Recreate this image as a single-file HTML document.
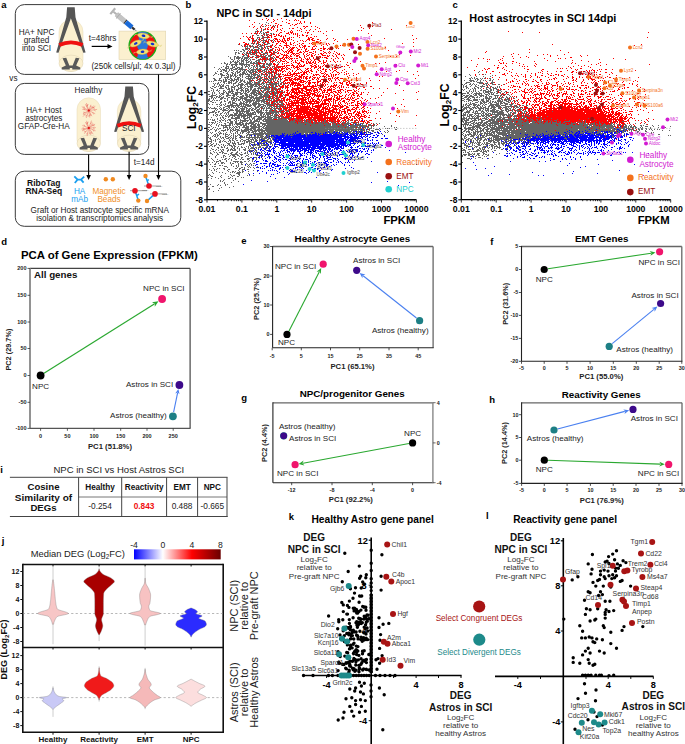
<!DOCTYPE html>
<html><head><meta charset="utf-8"><style>
html,body{margin:0;padding:0;background:#fff;width:685px;height:744px;overflow:hidden}
svg{display:block;font-family:"Liberation Sans",sans-serif}
</style></head><body>
<svg width="685" height="744" viewBox="0 0 685 744">
<text x="1.2" y="8.0" font-size="9.5" font-weight="bold">a</text>
<rect x="15.3" y="4.6" width="165.0" height="69.80000000000001" rx="9" fill="none" stroke="#3a3a3a" stroke-width="1"/>
<rect x="15.3" y="83.4" width="133.5" height="71.0" rx="9" fill="none" stroke="#3a3a3a" stroke-width="1"/>
<rect x="15.3" y="171.2" width="165.5" height="55.10000000000002" rx="9" fill="none" stroke="#3a3a3a" stroke-width="1"/>
<rect x="59" y="19.7" width="24" height="51.8" rx="12.0" fill="#fbf0cf" stroke="#e6dab6" stroke-width="0.5"/>
<ellipse cx="71.0" cy="63.3" rx="12.0" ry="8.2" fill="#fbf0cf" stroke="#dcd0b0" stroke-width="0.5"/>
<path d="M62.55,58.20 L66.26,57.70 L69.35,65.50 L72.65,65.50 L75.74,57.70 L79.45,58.20 L76.15,65.40 L80.27,67.50 L80.27,69.50 L72.24,69.50 L72.24,67.90 L69.76,67.90 L69.76,69.50 L61.73,69.50 L61.73,67.50 L65.85,65.40 Z" fill="#595959"/>
<path d="M67.1,7.3 L74.7,7.3 L75.5,17.2 L85.6,52.5 L83.3,52.8 L70.9,18.3 L58.5,52.8 L56.2,52.5 L66.3,17.2 Z" fill="#555"/>
<path d="M59.3,45.0 Q70.94999999999999,39.599999999999994 82.6,45.0" fill="none" stroke="#f01010" stroke-width="3.8"/>
<text x="36.5" y="35.0" font-size="8.2" text-anchor="middle" fill="#222">HA+ NPC</text>
<text x="36.5" y="43.0" font-size="8.2" text-anchor="middle" fill="#222">grafted</text>
<text x="36.5" y="51.0" font-size="8.2" text-anchor="middle" fill="#222">into SCI</text>
<text x="88.8" y="40.9" font-size="8.2" fill="#222">t=48hrs</text>
<line x1="91.7" y1="46.4" x2="109.0" y2="46.4" stroke="#000" stroke-width="1.2"/>
<path d="M112.5,46.4 L107.5,44 L107.5,48.8 Z" fill="#000"/>
<g transform="translate(128,24) rotate(40)"><rect x="-21" y="-3.8" width="2.2" height="7.6" fill="#b4b4b4"/><rect x="-19" y="-1" width="4" height="2" fill="#b4b4b4"/><rect x="-15" y="-2.3" width="11" height="4.6" fill="#c4c4c4" stroke="#a8a8a8" stroke-width="0.4"/><rect x="-13" y="-3.4" width="0.8" height="6.8" fill="#aaa"/><rect x="-4" y="-2.4" width="1.2" height="4.8" fill="#333"/><rect x="-2.8" y="-2.4" width="8" height="4.8" fill="#1a6ad8"/><rect x="5.2" y="-1.1" width="3.5" height="2.2" fill="#333"/><rect x="8.7" y="-0.3" width="3" height="0.6" fill="#666"/></g>
<rect x="119" y="31.1" width="46.7" height="28.5" fill="#fbf0cf" stroke="#e0d4ae" stroke-width="0.6"/>
<ellipse cx="142.7" cy="45.6" rx="13.6" ry="13.6" fill="#f01010" stroke="#18b018" stroke-width="1.3"/>
<path d="M138,32.5 Q143,31 148,33 L146,40 Q150,45 146,50 L148,58 Q143,60 137,58 L139,50 Q135,45 139,40 Z" fill="#2a78d8"/>
<g transform="translate(143.5,35.8) rotate(10)"><path d="M-9,0 L-5,0 M5,0 L9,0 M8,0 l1.5,-1.5 M-8,0 l-1.2,1.5" stroke="#d8d070" stroke-width="0.5"/><ellipse rx="6" ry="2.7" fill="#f2e070" stroke="#c8a848" stroke-width="0.4"/><ellipse rx="1.9" ry="1.2" fill="#1030d0"/></g>
<g transform="translate(135.7,43.5) rotate(-25)"><path d="M-9,0 L-5,0 M5,0 L9,0 M8,0 l1.5,-1.5 M-8,0 l-1.2,1.5" stroke="#d8d070" stroke-width="0.5"/><ellipse rx="6" ry="2.7" fill="#f2e070" stroke="#c8a848" stroke-width="0.4"/><ellipse rx="1.9" ry="1.2" fill="#1030d0"/></g>
<g transform="translate(152.5,44) rotate(15)"><path d="M-9,0 L-5,0 M5,0 L9,0 M8,0 l1.5,-1.5 M-8,0 l-1.2,1.5" stroke="#d8d070" stroke-width="0.5"/><ellipse rx="6" ry="2.7" fill="#f2e070" stroke="#c8a848" stroke-width="0.4"/><ellipse rx="1.9" ry="1.2" fill="#1030d0"/></g>
<g transform="translate(142.5,51.8) rotate(-5)"><path d="M-9,0 L-5,0 M5,0 L9,0 M8,0 l1.5,-1.5 M-8,0 l-1.2,1.5" stroke="#d8d070" stroke-width="0.5"/><ellipse rx="6" ry="2.7" fill="#f2e070" stroke="#c8a848" stroke-width="0.4"/><ellipse rx="1.9" ry="1.2" fill="#1030d0"/></g>
<text x="91.4" y="68.6" font-size="8.2" fill="#222">(250k cells/µl; 4x 0.3µl)</text>
<text x="9.3" y="81.0" font-size="8.2" fill="#222">vs</text>
<text x="74.5" y="92.8" font-size="8.2" fill="#222">Healthy</text>
<text x="43.8" y="113.3" font-size="8.2" text-anchor="middle" fill="#222">HA+ Host</text>
<text x="43.8" y="121.3" font-size="8.2" text-anchor="middle" fill="#222">astrocytes</text>
<text x="43.8" y="129.3" font-size="8.2" text-anchor="middle" fill="#222">GFAP-Cre-HA</text>
<rect x="77" y="97.8" width="23.5" height="53.7" rx="11.75" fill="#fbf0cf" stroke="#e6dab6" stroke-width="0.5"/>
<ellipse cx="88.75" cy="143.3" rx="11.75" ry="8.2" fill="#fbf0cf" stroke="#dcd0b0" stroke-width="0.5"/>
<path d="M80.48,138.20 L84.11,137.70 L87.14,145.50 L90.36,145.50 L93.39,137.70 L97.02,138.20 L93.79,145.40 L97.83,147.50 L97.83,149.50 L89.96,149.50 L89.96,147.90 L87.54,147.90 L87.54,149.50 L79.67,149.50 L79.67,147.50 L83.71,145.40 Z" fill="#595959"/>
<path d="M88.8,110.5L97.1,109.4M93.8,109.8l1.9,1.2M88.8,110.5L95.2,113.7M92.7,112.4l0.9,2.0M88.8,110.5L91.9,116.2M90.7,113.9l-0.4,2.2M88.8,110.5L89.8,117.6M89.4,114.8l-1.2,1.9M88.8,110.5L86.2,118.0M87.2,115.0l-1.9,1.1M88.8,110.5L83.0,116.6M85.3,114.2l-2.2,0.2M88.8,110.5L82.9,113.8M85.3,112.5l-2.2,-0.4M88.8,110.5L82.3,109.3M84.9,109.8l-1.4,-1.7M88.8,110.5L81.8,106.7M84.6,108.2l-0.8,-2.1M88.8,110.5L85.4,104.3M86.7,106.8l0.4,-2.2M88.8,110.5L86.4,103.0M87.4,106.0l0.8,-2.0M88.8,110.5L90.8,104.8M90.0,107.1l1.9,-1.1M88.8,110.5L93.8,105.5M91.8,107.5l2.2,-0.2M88.8,110.5L95.3,106.3M92.7,108.0l2.2,0.3" stroke="#e03030" stroke-width="0.35" fill="none"/>
<circle cx="88.8" cy="110.5" r="1.1" fill="#e01010"/>
<path d="M88.8,128.0L95.8,127.6M93.0,127.8l1.8,1.3M88.8,128.0L95.6,130.8M92.9,129.7l1.0,1.9M88.8,128.0L93.2,134.2M91.4,131.7l-0.2,2.2M88.8,128.0L90.8,134.9M90.0,132.2l-0.9,2.0M88.8,128.0L87.1,136.1M87.8,132.9l-1.7,1.3M88.8,128.0L84.3,133.7M86.1,131.4l-2.2,0.5M88.8,128.0L82.0,130.9M84.7,129.8l-2.1,-0.6M88.8,128.0L81.4,129.0M84.4,128.6l-1.8,-1.2M88.8,128.0L82.4,125.4M85.0,126.5l-1.0,-1.9M88.8,128.0L85.4,122.1M86.8,124.4l0.4,-2.2M88.8,128.0L86.5,120.8M87.4,123.7l0.8,-2.0M88.8,128.0L91.5,120.6M90.4,123.6l1.9,-1.1M88.8,128.0L93.1,123.2M91.4,125.1l2.2,-0.3M88.8,128.0L95.1,124.1M92.6,125.6l2.2,0.3" stroke="#e03030" stroke-width="0.35" fill="none"/>
<circle cx="88.8" cy="128.0" r="1.1" fill="#e01010"/>
<rect x="117.4" y="99" width="23.400000000000006" height="52.5" rx="11.700000000000003" fill="#fbf0cf" stroke="#e6dab6" stroke-width="0.5"/>
<ellipse cx="129.10000000000002" cy="143.3" rx="11.700000000000003" ry="8.2" fill="#fbf0cf" stroke="#dcd0b0" stroke-width="0.5"/>
<path d="M120.86,138.20 L124.48,137.70 L127.49,145.50 L130.71,145.50 L133.72,137.70 L137.34,138.20 L134.12,145.40 L138.14,147.50 L138.14,149.50 L130.31,149.50 L130.31,147.90 L127.89,147.90 L127.89,149.50 L120.06,149.50 L120.06,147.50 L124.08,145.40 Z" fill="#595959"/>
<path d="M125.3,86.6 L132.9,86.6 L133.7,96.5 L144.1,131.8 L141.8,132.1 L129.1,97.6 L116.4,132.1 L114.1,131.8 L124.5,96.5 Z" fill="#555"/>
<path d="M117.4,125.8 Q129.10000000000002,120.39999999999999 140.8,125.8" fill="none" stroke="#f01010" stroke-width="3.8"/>
<text x="128.8" y="131.0" font-size="8.2" text-anchor="middle" fill="#222">SCI</text>
<line x1="88.6" y1="154.5" x2="88.6" y2="176.0" stroke="#000" stroke-width="1.1"/>
<path d="M88.6,180 L86.3,175 L90.89999999999999,175 Z" fill="#000"/>
<line x1="129.1" y1="151.8" x2="129.1" y2="176.0" stroke="#000" stroke-width="1.1"/>
<path d="M129.1,180 L126.8,175 L131.4,175 Z" fill="#000"/>
<line x1="158.5" y1="74.4" x2="158.5" y2="176.0" stroke="#000" stroke-width="1.1"/>
<path d="M158.5,180 L156.2,175 L160.8,175 Z" fill="#000"/>
<text x="133.8" y="165.4" font-size="8.2" fill="#222">t=14d</text>
<text x="43.8" y="186.3" font-size="8.5" font-weight="bold" text-anchor="middle" fill="#111">RiboTag</text>
<text x="43.8" y="194.3" font-size="8.5" font-weight="bold" text-anchor="middle" fill="#111">RNA-Seq</text>
<path d="M74.3,176.3 L77.6,179.6 L74.8,183 M77.6,179.6 L81,179.6 M81,179.6 L84.2,176.6 M81,179.6 L83.6,182.6" stroke="#1a9ff0" stroke-width="1.8" fill="none"/>
<text x="79.6" y="193.6" font-size="8.2" text-anchor="middle" fill="#1a9ff0">HA</text>
<text x="79.6" y="201.6" font-size="8.2" text-anchor="middle" fill="#1a9ff0">mAb</text>
<circle cx="105.8" cy="179.3" r="2.2" fill="#f08a20"/>
<circle cx="112.8" cy="179.3" r="2.2" fill="#f08a20"/>
<text x="109.0" y="193.6" font-size="8.2" text-anchor="middle" fill="#f0902a">Magnetic</text>
<text x="109.0" y="201.6" font-size="8.2" text-anchor="middle" fill="#f0902a">Beads</text>
<path d="M130,190.7 h17" stroke="#333" stroke-width="0.45"/>
<text x="142" y="191.29999999999998" font-size="2.2" fill="#555">mRNA</text>
<path d="M135,190.7 L136.7,195.6 L138.3,200.6 M136.7,195.6 l2.3,-1.5" stroke="#1a9ff0" stroke-width="1.5" fill="none"/>
<circle cx="135.0" cy="190.7" r="2.8" fill="#e81020"/>
<circle cx="138.3" cy="200.6" r="2.2" fill="#f08a20"/>
<path d="M144,186 h17" stroke="#333" stroke-width="0.45"/>
<text x="156" y="186.6" font-size="2.2" fill="#555">mRNA</text>
<path d="M149,186 L147.2,181.0 L145.5,176 M147.2,181.0 l1.6,-1.5" stroke="#1a9ff0" stroke-width="1.5" fill="none"/>
<circle cx="149.0" cy="186.0" r="2.8" fill="#e81020"/>
<circle cx="145.5" cy="176.0" r="2.2" fill="#f08a20"/>
<path d="M150,193.9 h17" stroke="#333" stroke-width="0.45"/>
<text x="162" y="194.5" font-size="2.2" fill="#555">mRNA</text>
<path d="M155,193.9 L151.0,197.4 L147,201 M151.0,197.4 l1.2,-1.5" stroke="#1a9ff0" stroke-width="1.5" fill="none"/>
<circle cx="155.0" cy="193.9" r="2.8" fill="#e81020"/>
<circle cx="147.0" cy="201.0" r="2.2" fill="#f08a20"/>
<text x="99.7" y="212.5" font-size="8.2" text-anchor="middle" fill="#222">Graft or Host astrocyte specific mRNA</text>
<text x="99.7" y="220.6" font-size="8.2" text-anchor="middle" fill="#222">isolation &amp; transcriptomics analysis</text>
<path d="M266 22h1M259 23h1m8 0h1M265 24h1M273 25h1M260 26h1m2 0h1m1 0h1m7 0h2M256 29h1m4 0h1m1 0h2m5 0h1M257 30h1m5 0h1M255 31h2m3 0h2m5 0h2M255 32h1m4 0h1m2 0h1m1 0h1M256 33h1m4 0h1m1 0h2m1 0h1m3 0h2m1 0h1M256 34h1m6 0h1m2 0h2m3 0h1M253 35h1m3 0h2m2 0h1m2 0h1m2 0h1M250 36h1m11 0h2m3 0h1M250 37h1m6 0h3m2 0h2m1 0h2M257 38h1m3 0h1m1 0h1m3 0h1M252 39h1m3 0h1m1 0h1m1 0h1m5 0h1m1 0h1m4 0h1M249 40h1m4 0h2m3 0h1m2 0h4m4 0h1m1 0h1M253 41h3m2 0h1m1 0h1m2 0h1m4 0h1m4 0h1M258 42h1m4 0h3m7 0h1M248 43h1m2 0h2m1 0h1m1 0h1m1 0h1m4 0h1m3 0h3M238 44h1m5 0h1m8 0h1m2 0h1m1 0h2m2 0h1m3 0h2M241 45h1m5 0h1m2 0h1m1 0h1m5 0h1m1 0h2m1 0h2m5 0h2M242 46h1m2 0h3m1 0h1m1 0h3m2 0h2m1 0h3m4 0h2m1 0h1m4 0h1M245 47h1m1 0h1m2 0h1m2 0h4m1 0h1m2 0h2m2 0h1m1 0h1M245 48h1m1 0h3m3 0h1m4 0h2m1 0h2m2 0h1m1 0h1m4 0h1M242 49h2m1 0h3m3 0h2m1 0h1m1 0h3m1 0h3m5 0h1m1 0h2M234 50h1m1 0h1m1 0h1m4 0h2m3 0h1m1 0h2m1 0h4m7 0h1m3 0h2m2 0h1M240 51h2m2 0h1m5 0h1m4 0h2m4 0h1m8 0h1m3 0h1m2 0h1M235 52h2m1 0h1m4 0h1m2 0h2m1 0h3m3 0h3m1 0h1m1 0h2m3 0h1m7 0h1m1 0h1M235 53h1m2 0h2m2 0h1m1 0h1m1 0h1m1 0h3m1 0h4m7 0h5m5 0h2M235 54h1m9 0h2m3 0h1m1 0h2m6 0h1m1 0h1m1 0h1m7 0h1M243 55h2m1 0h2m7 0h2m3 0h2m1 0h1m1 0h2m1 0h2m1 0h1M228 56h1m5 0h2m1 0h2m3 0h2m3 0h1m1 0h1m2 0h2m2 0h3m1 0h1m2 0h1m1 0h1m2 0h3m6 0h1M230 57h1m3 0h1m1 0h5m1 0h1m1 0h5m2 0h1m4 0h1m4 0h3m1 0h3m3 0h2m1 0h1M230 58h1m3 0h1m1 0h4m1 0h2m1 0h4m1 0h1m6 0h1m3 0h1m5 0h1m2 0h1m1 0h1m1 0h1m1 0h1M231 59h2m1 0h1m3 0h1m2 0h1m1 0h2m1 0h1m1 0h1m1 0h1m1 0h1m1 0h1m3 0h2m2 0h1m3 0h1m1 0h2m3 0h1M233 60h1m3 0h1m1 0h1m1 0h3m1 0h3m2 0h1m5 0h4m4 0h3m2 0h1m2 0h1M230 61h1m1 0h2m1 0h1m1 0h2m2 0h3m2 0h1m1 0h2m1 0h1m3 0h2m1 0h2m2 0h1m1 0h1m5 0h1m2 0h1m1 0h1m4 0h1M224 62h1m5 0h2m2 0h4m1 0h1m1 0h1m1 0h1m2 0h3m1 0h2m1 0h2m1 0h2m1 0h2m16 0h1M221 63h1m2 0h2m1 0h1m2 0h1m4 0h2m2 0h5m2 0h1m3 0h8m4 0h2m2 0h2m1 0h3m6 0h1M226 64h2m1 0h1m1 0h7m1 0h11m6 0h3m5 0h1m1 0h6m6 0h1M226 65h1m4 0h2m2 0h2m4 0h2m1 0h1m1 0h1m1 0h2m1 0h2m1 0h1m2 0h1m1 0h2m1 0h3m3 0h1m1 0h1M223 66h1m2 0h3m3 0h1m1 0h1m1 0h1m5 0h1m2 0h3m1 0h1m3 0h2m1 0h2m1 0h4m1 0h1m1 0h2m1 0h1m2 0h2m3 0h1M214 67h1m6 0h1m3 0h2m1 0h1m3 0h3m2 0h3m1 0h2m2 0h1m2 0h1m2 0h1m1 0h1m1 0h1m1 0h1m2 0h3m2 0h1m1 0h1m6 0h1m1 0h1M219 68h1m5 0h4m1 0h3m2 0h3m1 0h4m5 0h1m1 0h1m2 0h1m3 0h1m1 0h2m4 0h3m1 0h2m2 0h1m4 0h1M218 69h1m1 0h1m1 0h3m1 0h1m2 0h1m1 0h1m1 0h4m1 0h8m3 0h1m1 0h11m2 0h3M221 70h1m1 0h4m2 0h1m1 0h2m4 0h1m2 0h1m1 0h1m1 0h2m1 0h2m1 0h4m1 0h1m1 0h1m4 0h3m1 0h1m1 0h1m2 0h1m1 0h1m1 0h1m3 0h1M217 71h1m2 0h2m3 0h2m1 0h1m4 0h1m2 0h2m1 0h2m2 0h2m1 0h1m1 0h3m1 0h5m2 0h2m1 0h1m1 0h2m6 0h1m7 0h1M215 72h1m7 0h1m3 0h1m3 0h2m2 0h1m1 0h3m2 0h3m1 0h1m2 0h5m2 0h2m1 0h2m2 0h1m2 0h1m1 0h2m2 0h2m1 0h1M215 73h2m3 0h2m4 0h2m4 0h2m1 0h1m1 0h1m2 0h1m1 0h4m1 0h1m2 0h2m2 0h2m6 0h1m3 0h1m1 0h3m5 0h1M214 74h1m3 0h1m1 0h3m4 0h2m1 0h1m1 0h1m1 0h2m3 0h5m1 0h5m1 0h7m1 0h1m1 0h2m1 0h1m1 0h1m2 0h1m1 0h2m3 0h3m3 0h1M213 75h1m7 0h4m1 0h1m1 0h1m1 0h3m1 0h2m1 0h1m1 0h2m1 0h1m5 0h2m1 0h1m1 0h3m1 0h3m1 0h1m2 0h1m2 0h1m1 0h1m2 0h1m2 0h1m2 0h1M221 76h1m5 0h2m1 0h2m1 0h1m1 0h2m3 0h1m1 0h1m3 0h7m1 0h1m2 0h2m1 0h1m3 0h3m1 0h1m2 0h2m1 0h2M221 77h1m2 0h5m1 0h1m4 0h1m1 0h3m2 0h1m2 0h1m2 0h1m1 0h2m1 0h3m1 0h2m1 0h2m6 0h2m4 0h2m1 0h1m2 0h1M213 78h2m4 0h2m4 0h1m1 0h1m2 0h2m2 0h1m2 0h2m1 0h1m5 0h9m1 0h2m2 0h2m2 0h1m1 0h1m2 0h1m1 0h6m1 0h1M214 79h2m3 0h1m3 0h1m1 0h2m1 0h2m1 0h2m1 0h5m1 0h1m1 0h1m5 0h3m1 0h1m4 0h1m1 0h2m2 0h6m1 0h3m2 0h1m5 0h1M214 80h3m1 0h4m1 0h1m1 0h2m3 0h5m1 0h1m1 0h1m1 0h3m1 0h1m4 0h2m1 0h1m4 0h1m1 0h3m1 0h1m4 0h4m1 0h1m1 0h1m1 0h1m2 0h1M209 81h1m1 0h1m1 0h1m7 0h1m1 0h4m1 0h2m1 0h1m1 0h1m2 0h2m2 0h2m1 0h2m2 0h1m1 0h3m2 0h1m3 0h3m2 0h3m2 0h1m1 0h1m3 0h1m3 0h1m1 0h1M218 82h1m1 0h1m2 0h2m3 0h4m3 0h2m2 0h2m3 0h2m1 0h4m1 0h1m1 0h2m1 0h3m3 0h1m3 0h4m3 0h1m3 0h1m2 0h2M213 83h1m1 0h1m1 0h2m5 0h1m1 0h1m1 0h2m1 0h1m1 0h3m2 0h1m2 0h2m3 0h6m2 0h6m1 0h4m1 0h1m2 0h10m1 0h1m3 0h1M214 84h1m2 0h1m1 0h1m1 0h1m1 0h1m9 0h1m4 0h6m1 0h3m1 0h10m1 0h2m1 0h1m2 0h3m2 0h6m1 0h1m2 0h1m1 0h2m3 0h1M214 85h1m4 0h2m1 0h2m2 0h3m4 0h1m2 0h3m1 0h3m1 0h1m2 0h1m2 0h4m1 0h2m1 0h2m2 0h1m1 0h1m1 0h1m1 0h1m1 0h2m1 0h1m1 0h2m1 0h1M212 86h2m2 0h1m1 0h1m1 0h4m1 0h1m2 0h1m2 0h2m1 0h2m1 0h1m2 0h2m3 0h1m1 0h6m1 0h4m1 0h1m1 0h1m1 0h4m1 0h1m2 0h3m1 0h1m3 0h2M210 87h1m3 0h2m4 0h2m3 0h2m1 0h1m2 0h4m3 0h1m1 0h3m1 0h1m3 0h1m1 0h3m5 0h2m1 0h3m2 0h3m2 0h1m1 0h3m9 0h1M211 88h2m6 0h5m2 0h1m1 0h2m1 0h1m2 0h1m3 0h4m1 0h1m1 0h3m2 0h2m2 0h2m1 0h13m1 0h1m1 0h1m1 0h2m1 0h1m3 0h1M213 89h1m3 0h1m9 0h3m1 0h2m1 0h1m1 0h3m2 0h2m2 0h1m1 0h2m1 0h2m1 0h3m2 0h1m1 0h1m3 0h6m1 0h1m1 0h2m1 0h1m2 0h1M211 90h1m1 0h1m2 0h2m1 0h1m3 0h2m4 0h1m1 0h2m3 0h2m2 0h4m1 0h4m1 0h1m1 0h7m1 0h1m2 0h3m1 0h2m3 0h1m2 0h2m2 0h1M208 91h2m3 0h1m4 0h1m4 0h1m1 0h1m2 0h6m3 0h1m3 0h1m1 0h1m1 0h2m1 0h2m2 0h4m1 0h3m1 0h3m2 0h1m1 0h7m1 0h1m3 0h3M212 92h1m1 0h1m4 0h1m3 0h2m1 0h1m1 0h3m1 0h1m2 0h6m2 0h1m1 0h1m1 0h2m2 0h6m1 0h1m1 0h1m1 0h2m2 0h3m2 0h1m2 0h3m3 0h1m2 0h1M212 93h1m1 0h1m4 0h1m1 0h3m2 0h3m2 0h3m1 0h3m2 0h3m1 0h3m3 0h5m1 0h6m2 0h4m1 0h1m1 0h1m2 0h4M208 94h2m2 0h1m3 0h1m3 0h1m1 0h2m3 0h2m4 0h5m2 0h2m3 0h3m1 0h1m1 0h1m1 0h4m1 0h5m1 0h5m2 0h2m1 0h2m3 0h1m3 0h1M211 95h5m3 0h1m1 0h1m4 0h5m1 0h3m1 0h1m5 0h2m1 0h3m1 0h3m2 0h4m2 0h2m1 0h6m3 0h1m2 0h2m2 0h1m2 0h1m1 0h1M209 96h4m3 0h2m1 0h2m2 0h1m2 0h2m5 0h2m2 0h2m1 0h4m2 0h4m1 0h3m2 0h1m2 0h5m1 0h4m1 0h2m1 0h1m1 0h1m5 0h1M211 97h2m1 0h1m1 0h1m1 0h2m1 0h3m4 0h2m1 0h3m2 0h1m2 0h4m1 0h4m1 0h5m1 0h9m1 0h3m2 0h1m2 0h1m2 0h3m6 0h1M209 98h1m1 0h1m1 0h1m1 0h1m4 0h3m1 0h2m1 0h1m3 0h7m2 0h7m3 0h2m1 0h9m3 0h2m1 0h4m1 0h1m3 0h1M208 99h2m3 0h1m6 0h2m5 0h1m3 0h1m1 0h2m1 0h1m1 0h3m1 0h1m1 0h7m1 0h1m1 0h1m1 0h4m2 0h7m2 0h1m1 0h1m2 0h2m3 0h1M208 100h2m2 0h1m1 0h1m1 0h2m1 0h1m4 0h1m2 0h1m4 0h3m1 0h1m1 0h2m2 0h1m2 0h10m1 0h9m1 0h4m1 0h1m1 0h1m1 0h1m3 0h1m2 0h1M208 101h1m1 0h2m9 0h1m2 0h2m3 0h2m1 0h1m2 0h1m4 0h1m2 0h2m1 0h6m1 0h1m1 0h5m1 0h5m3 0h1m1 0h1m3 0h1m1 0h1m1 0h3M212 102h2m1 0h1m4 0h2m6 0h3m1 0h3m5 0h2m1 0h1m1 0h3m1 0h2m2 0h4m1 0h1m2 0h1m1 0h2m1 0h3m4 0h2m1 0h2m1 0h2m1 0h1M208 103h1m11 0h1m4 0h1m2 0h1m1 0h1m1 0h5m2 0h6m1 0h1m2 0h1m2 0h8m4 0h3m1 0h2m3 0h2m2 0h1m3 0h2M209 104h1m2 0h1m3 0h2m1 0h1m1 0h1m1 0h1m1 0h1m4 0h3m3 0h2m1 0h3m1 0h6m1 0h1m1 0h5m1 0h6m2 0h8m1 0h1m2 0h1m1 0h3M220 105h2m2 0h1m2 0h13m1 0h1m1 0h1m1 0h7m1 0h3m2 0h3m2 0h3m1 0h4m2 0h1m2 0h2m1 0h1m1 0h3m4 0h1M217 106h1m1 0h1m5 0h5m1 0h3m1 0h1m1 0h2m1 0h6m1 0h4m3 0h2m1 0h3m1 0h3m1 0h1m1 0h1m1 0h3m1 0h2m2 0h4m3 0h1M208 107h1m1 0h1m3 0h1m5 0h1m2 0h2m3 0h2m1 0h1m1 0h2m1 0h1m1 0h2m2 0h1m1 0h3m4 0h1m3 0h4m1 0h3m1 0h1m1 0h1m1 0h2m1 0h2m1 0h1m1 0h2m1 0h1m2 0h1m1 0h1m1 0h1M209 108h1m1 0h6m2 0h1m1 0h1m1 0h1m2 0h2m1 0h1m6 0h2m2 0h5m1 0h2m1 0h2m1 0h2m1 0h2m2 0h1m2 0h3m1 0h4m1 0h1m1 0h3m1 0h1m1 0h1M215 109h1m1 0h1m2 0h2m1 0h3m2 0h1m1 0h3m2 0h3m1 0h1m1 0h4m1 0h1m1 0h2m1 0h2m1 0h2m1 0h3m1 0h1m1 0h1m2 0h1m3 0h3m1 0h2m2 0h2m3 0h2M214 110h1m1 0h1m5 0h6m1 0h5m1 0h5m1 0h3m2 0h4m1 0h3m2 0h3m1 0h2m1 0h1m1 0h3m1 0h3m2 0h2m3 0h4m4 0h2M212 111h3m3 0h2m3 0h1m4 0h2m6 0h14m4 0h1m1 0h6m4 0h1m2 0h8m1 0h1m1 0h1m3 0h1m1 0h3M209 112h5m1 0h2m1 0h1m3 0h1m2 0h1m1 0h2m4 0h1m2 0h2m1 0h2m1 0h1m1 0h1m1 0h3m1 0h1m1 0h4m1 0h7m1 0h14m1 0h2m1 0h1M209 113h1m5 0h1m4 0h2m2 0h1m1 0h1m1 0h1m5 0h4m1 0h5m2 0h8m1 0h1m2 0h1m1 0h3m1 0h1m1 0h4m1 0h3m1 0h2m1 0h1m3 0h2m1 0h1M208 114h1m4 0h1m2 0h2m2 0h1m5 0h1m1 0h1m1 0h3m1 0h3m1 0h4m1 0h3m1 0h9m4 0h2m1 0h2m1 0h5m1 0h1m1 0h4m11 0h2M213 115h1m1 0h1m1 0h1m1 0h1m1 0h1m1 0h1m1 0h1m1 0h1m1 0h23m4 0h1m3 0h2m1 0h1m1 0h1m1 0h2m1 0h3m1 0h2m1 0h1m3 0h1m5 0h1M216 116h1m5 0h1m2 0h2m1 0h2m2 0h1m1 0h1m2 0h3m1 0h5m1 0h1m1 0h3m2 0h6m1 0h5m1 0h4m2 0h4m1 0h1m1 0h1m1 0h1m2 0h1M211 117h1m8 0h1m1 0h2m4 0h1m2 0h2m2 0h5m1 0h1m1 0h2m2 0h3m1 0h1m1 0h2m3 0h6m1 0h8m1 0h6m1 0h2m6 0h2M217 118h1m2 0h1m2 0h1m1 0h1m5 0h9m3 0h5m1 0h1m2 0h3m2 0h5m2 0h2m1 0h5m1 0h4m1 0h3m1 0h3m1 0h2m1 0h2m4 0h1M208 119h1m1 0h1m1 0h1m1 0h1m2 0h1m3 0h1m2 0h1m3 0h3m4 0h2m3 0h1m3 0h2m3 0h2m1 0h1m1 0h1m1 0h6m1 0h11m3 0h10m1 0h1m5 0h3m2 0h2m3 0h1m6 0h1m1 0h1M212 120h3m4 0h2m1 0h2m1 0h1m1 0h1m1 0h2m3 0h1m1 0h1m1 0h1m1 0h9m1 0h2m2 0h4m1 0h1m2 0h2m1 0h23m3 0h1m1 0h2m2 0h1m1 0h1m1 0h1m2 0h2m1 0h2m1 0h1m1 0h2m3 0h1m6 0h2m7 0h1m14 0h1m2 0h1m2 0h1m1 0h1M215 121h1m1 0h1m2 0h1m4 0h1m4 0h3m2 0h2m3 0h1m1 0h4m1 0h1m2 0h2m1 0h7m3 0h26m1 0h6m2 0h1m1 0h2m2 0h2m1 0h1m1 0h2m3 0h1m7 0h1m1 0h2m4 0h1m3 0h1m8 0h1m2 0h1m1 0h1M209 122h1m1 0h3m1 0h1m3 0h1m1 0h1m5 0h2m1 0h3m2 0h2m2 0h4m3 0h1m2 0h6m3 0h1m1 0h2m4 0h29m1 0h1m1 0h3m1 0h1m1 0h5m1 0h1m2 0h3m1 0h4m1 0h3m1 0h1m1 0h1m2 0h3m3 0h1m4 0h3m2 0h2m2 0h2m2 0h1m1 0h1m10 0h1M212 123h1m1 0h1m2 0h1m6 0h2m3 0h4m2 0h6m1 0h2m1 0h9m1 0h2m1 0h1m1 0h37m1 0h14m1 0h2m1 0h1m1 0h5m1 0h4m1 0h2m2 0h3m1 0h1m3 0h1m1 0h1m1 0h5m3 0h4m1 0h1m1 0h4m9 0h1m2 0h1m2 0h1M208 124h2m1 0h1m4 0h1m2 0h1m1 0h1m3 0h1m3 0h2m1 0h1m1 0h1m1 0h8m1 0h2m1 0h1m2 0h5m1 0h3m2 0h4m1 0h38m1 0h24m2 0h4m1 0h5m1 0h6m3 0h2m2 0h1m1 0h2m2 0h1m3 0h1m1 0h3m3 0h1M210 125h1m5 0h1m1 0h1m2 0h10m1 0h1m4 0h1m2 0h2m1 0h4m3 0h2m1 0h3m1 0h3m2 0h1m1 0h46m1 0h13m1 0h6m1 0h11m1 0h3m1 0h1m1 0h17m2 0h3m1 0h2m1 0h1m14 0h1M211 126h1m6 0h1m4 0h1m1 0h2m2 0h1m3 0h1m1 0h2m1 0h2m3 0h2m1 0h3m1 0h7m1 0h4m1 0h2m1 0h72m1 0h10m1 0h8m1 0h7m1 0h2m2 0h1m1 0h1m10 0h1m6 0h1M208 127h2m3 0h1m1 0h1m7 0h5m1 0h2m1 0h1m1 0h1m1 0h2m1 0h1m2 0h7m2 0h9m2 0h2m1 0h80m1 0h10m1 0h3m3 0h3m1 0h2m2 0h1m22 0h1m1 0h1M212 128h1m4 0h1m1 0h2m2 0h1m3 0h1m1 0h1m1 0h1m1 0h1m1 0h1m3 0h1m5 0h4m1 0h6m2 0h2m1 0h1m1 0h91m1 0h2m1 0h5m2 0h1m1 0h1m1 0h3m1 0h1m11 0h1m1 0h1m1 0h1M208 129h1m1 0h2m2 0h1m1 0h1m1 0h1m6 0h1m1 0h2m1 0h1m1 0h2m1 0h4m2 0h1m2 0h8m1 0h3m1 0h6m2 0h96m1 0h3m2 0h1m1 0h1m5 0h4m1 0h1m14 0h2M209 130h1m5 0h2m4 0h5m1 0h1m2 0h2m1 0h3m1 0h3m1 0h8m1 0h3m1 0h74m1 0h5m1 0h15m1 0h6m1 0h1m1 0h5m1 0h1m2 0h1m1 0h3m5 0h1m7 0h1M208 131h1m6 0h1m3 0h1m3 0h1m6 0h1m1 0h1m3 0h2m3 0h6m1 0h2m2 0h5m1 0h2m1 0h4m1 0h31m1 0h30m1 0h5m1 0h3m1 0h3m1 0h9m2 0h1m2 0h2m1 0h1m1 0h1m3 0h3m3 0h2m3 0h1m6 0h1m3 0h1M210 132h1m1 0h1m5 0h1m1 0h1m5 0h1m3 0h1m4 0h1m1 0h1m2 0h1m1 0h2m3 0h3m1 0h3m1 0h1m3 0h4m1 0h2m1 0h28m1 0h15m2 0h2m1 0h9m2 0h2m1 0h3m2 0h1m2 0h1m2 0h1m3 0h2m1 0h3m1 0h3m2 0h3m2 0h2m2 0h1m2 0h1m4 0h1m10 0h1m1 0h1M211 133h1m4 0h1m2 0h3m1 0h1m1 0h1m5 0h1m1 0h1m1 0h1m1 0h1m2 0h1m1 0h1m3 0h1m1 0h1m4 0h29m1 0h1m1 0h8m1 0h1m1 0h3m2 0h3m1 0h3m1 0h6m2 0h1m1 0h1m1 0h2m1 0h1m1 0h2m1 0h1m1 0h1m1 0h2m2 0h2m1 0h3m1 0h1m4 0h2m1 0h1m1 0h1m2 0h1m5 0h1m2 0h1m3 0h1m8 0h1M214 134h2m1 0h1m1 0h1m3 0h1m1 0h3m1 0h1m3 0h1m4 0h2m7 0h17m1 0h17m2 0h3m1 0h2m1 0h1m1 0h1m1 0h1m5 0h3m1 0h2m1 0h1m2 0h1m5 0h1m2 0h2m17 0h1m3 0h1m7 0h1m30 0h1M208 135h1m4 0h1m1 0h1m1 0h2m6 0h1m2 0h1m2 0h1m1 0h1m1 0h1m1 0h1m1 0h3m4 0h2m1 0h2m4 0h1m1 0h6m4 0h3m4 0h1m3 0h2m5 0h1m2 0h1m1 0h3m13 0h1m12 0h1m22 0h1m14 0h1m1 0h1M212 136h1m1 0h2m1 0h1m2 0h1m4 0h3m2 0h1m2 0h1m1 0h2m4 0h2m1 0h1m1 0h1m2 0h1m1 0h1m2 0h2m1 0h2m1 0h4m1 0h4m1 0h1m1 0h1m2 0h1m8 0h1m21 0h1M208 137h1m1 0h1m5 0h1m3 0h1m1 0h2m1 0h1m2 0h2m1 0h1m1 0h1m1 0h1m3 0h6m1 0h17m1 0h3m1 0h2m1 0h3m17 0h1M209 138h2m7 0h1m2 0h1m1 0h1m2 0h3m1 0h1m1 0h2m1 0h2m3 0h1m7 0h2m2 0h1m1 0h2m1 0h1m1 0h1m1 0h6m1 0h1m1 0h1m1 0h1m1 0h1M210 139h2m3 0h1m1 0h1m1 0h1m4 0h1m4 0h1m2 0h1m2 0h1m5 0h2m3 0h3m1 0h4m1 0h2m2 0h2m1 0h3m2 0h2m1 0h1m1 0h1m4 0h1M211 140h1m1 0h1m1 0h1m4 0h1m2 0h1m5 0h2m1 0h2m2 0h2m2 0h1m2 0h3m2 0h2m1 0h1m1 0h1m1 0h3m1 0h3m3 0h3m2 0h2m1 0h1M208 141h4m3 0h1m3 0h2m1 0h1m1 0h2m2 0h1m1 0h1m3 0h1m5 0h1m1 0h1m1 0h1m1 0h6m2 0h2m3 0h1m3 0h9M208 142h1m2 0h1m7 0h2m5 0h1m3 0h1m1 0h1m1 0h1m2 0h2m5 0h1m1 0h2m1 0h1m1 0h4m3 0h4m1 0h3m2 0h2m1 0h1M210 143h1m2 0h1m2 0h1m10 0h3m2 0h4m2 0h1m2 0h4m4 0h2m3 0h1m4 0h1m1 0h2m7 0h1m3 0h1M208 144h1m2 0h2m3 0h1m1 0h1m2 0h1m1 0h1m4 0h2m3 0h1m1 0h1m2 0h4m1 0h1m5 0h1m2 0h2m1 0h3m1 0h1m1 0h1m1 0h5m2 0h1m1 0h1m3 0h1M210 145h2m2 0h2m3 0h1m3 0h1m1 0h1m1 0h1m1 0h3m1 0h2m14 0h2m2 0h3m1 0h3m1 0h3m1 0h3m4 0h1M209 146h1m2 0h1m1 0h1m6 0h1m2 0h1m6 0h2m1 0h2m2 0h1m2 0h1m4 0h1m1 0h1m1 0h1m2 0h1m5 0h2m5 0h1m4 0h1M217 147h2m2 0h2m1 0h1m2 0h1m4 0h1m1 0h1m2 0h1m3 0h2m1 0h1m3 0h1m2 0h3m1 0h2m1 0h3m1 0h2m1 0h1m1 0h1m1 0h1m8 0h1M211 148h1m6 0h1m7 0h2m3 0h1m1 0h2m2 0h1m1 0h1m5 0h1m2 0h1m1 0h4m2 0h1m1 0h1m4 0h1m2 0h1m2 0h1M212 149h2m2 0h1m3 0h1m1 0h2m4 0h1m1 0h3m1 0h2m3 0h1m3 0h3m3 0h1m4 0h2m8 0h1M210 150h1m4 0h1m2 0h1m2 0h1m1 0h1m3 0h2m1 0h1m1 0h4m3 0h1m4 0h2m2 0h5m2 0h2m9 0h1M213 151h1m7 0h2m4 0h1m9 0h1m9 0h1m2 0h1m1 0h1m1 0h1m1 0h1m4 0h1m6 0h1M210 152h1m3 0h1m1 0h1m2 0h2m1 0h2m7 0h2m3 0h2m3 0h1m3 0h1m1 0h1m2 0h1m2 0h1m1 0h3m1 0h1M210 153h2m5 0h1m4 0h1m1 0h3m3 0h2m3 0h2m2 0h1m4 0h2m1 0h1m3 0h1m1 0h1m6 0h1m1 0h1M212 154h1m4 0h2m9 0h1m2 0h7m2 0h3m5 0h1m2 0h1m1 0h1m1 0h2M216 155h1m6 0h2m5 0h1m1 0h3m2 0h2m2 0h1m4 0h2m8 0h4m1 0h1M209 156h1m5 0h1m7 0h1m1 0h1m3 0h1m3 0h3m3 0h1m5 0h1m2 0h1m13 0h1m1 0h1m3 0h1M215 157h1m5 0h1m1 0h1m8 0h1m2 0h1m5 0h2m7 0h2m2 0h3M208 158h1m2 0h1m13 0h2m2 0h1m4 0h1m3 0h1m2 0h1m5 0h3m6 0h1m2 0h1m2 0h1M212 159h1m4 0h1m4 0h1m1 0h2m2 0h1m2 0h1m3 0h2m3 0h1m1 0h2m3 0h2m3 0h2m2 0h1M208 160h1m4 0h1m5 0h2m5 0h1m4 0h1m17 0h1m2 0h1M208 161h1m5 0h1m1 0h3m1 0h1m5 0h1m6 0h6m1 0h2m2 0h2m2 0h1m3 0h1M209 162h1m2 0h1m3 0h1m4 0h3m6 0h1m4 0h1m1 0h1m2 0h3M215 163h1m2 0h1m2 0h2m1 0h1m5 0h1m1 0h2m4 0h1m2 0h1m4 0h1m3 0h1m2 0h2M210 164h1m3 0h2m15 0h1m6 0h1m2 0h2m4 0h1m1 0h1m1 0h1M219 165h2m1 0h1m8 0h1m4 0h1m1 0h1m6 0h1m2 0h1m2 0h1m1 0h1M212 166h1m1 0h2m8 0h3m6 0h1m2 0h1m1 0h1m8 0h1m1 0h1m7 0h1M227 167h1m9 0h1m3 0h2m1 0h1m3 0h1m1 0h1m2 0h1m3 0h1M213 168h1m3 0h1m1 0h1m3 0h2m10 0h2m2 0h2m3 0h1m9 0h1M209 169h1m4 0h1m1 0h1m7 0h1m3 0h2m9 0h1m2 0h3m2 0h2M211 170h1m2 0h1m12 0h1m10 0h1m3 0h1m10 0h1M216 171h1m11 0h1m3 0h2m1 0h1m3 0h1m2 0h2m4 0h1m8 0h1M212 172h1m6 0h1m2 0h1m7 0h1m1 0h1m1 0h1m2 0h4m1 0h1M213 173h1m11 0h1m10 0h4m8 0h1M209 174h1m20 0h1m7 0h2M208 175h1m1 0h1m10 0h1m9 0h1m1 0h2m4 0h1m7 0h1m1 0h1m3 0h1M211 176h2m7 0h1m7 0h1m3 0h1m4 0h2M208 177h1m6 0h1m5 0h1m8 0h1m10 0h1m1 0h1M211 178h1m6 0h1m9 0h2m2 0h1m2 0h1M224 179h1m10 0h1M220 180h1m2 0h1m9 0h1M220 181h1m1 0h1m15 0h1M224 182h1m6 0h1M224 183h1M210 184h1m7 0h1m6 0h1m1 0h1M217 185h1m2 0h1m4 0h1M208 186h1m3 0h2m19 0h1M221 187h1m7 0h1M209 188h1m9 0h1M208 189h2M218 190h1M213 191h1" stroke="#646464" stroke-width="1" fill="none" transform="translate(0,.5)"/>
<path d="M362 120h1M355 124h1m4 0h1M349 125h1M362 127h1M379 128h1M361 129h1m4 0h1M297 131h1m30 0h1m5 0h1m18 0h1m1 0h2m2 0h1m1 0h1m18 0h1M295 132h1m15 0h2m2 0h1m9 0h2m2 0h1m3 0h2m1 0h2m1 0h1m2 0h1m1 0h1m2 0h1m8 0h1m3 0h2m2 0h2m2 0h1m1 0h1m4 0h1m1 0h2M282 133h1m1 0h1m8 0h1m1 0h1m3 0h2m14 0h2m1 0h1m1 0h1m2 0h1m1 0h1m4 0h1m1 0h1m2 0h2m2 0h1m3 0h1m1 0h3m3 0h1m1 0h1m1 0h2m1 0h1m1 0h3m1 0h1m6 0h2m5 0h1m2 0h1M282 134h2m3 0h1m2 0h1m1 0h1m1 0h1m1 0h5m3 0h1m2 0h1m1 0h2m1 0h5m1 0h2m3 0h9m1 0h6m1 0h3m1 0h5m1 0h1m1 0h3m1 0h2m1 0h5m1 0h6m5 0h1M251 135h1m2 0h1m11 0h1m4 0h3m1 0h3m2 0h5m1 0h2m1 0h1m3 0h13m1 0h12m1 0h22m1 0h3m1 0h1m1 0h3m1 0h4m4 0h1m3 0h1m1 0h1m5 0h2m2 0h2m5 0h1M240 136h1m28 0h1m1 0h1m1 0h2m1 0h8m1 0h21m1 0h42m1 0h3m1 0h3m1 0h4m1 0h2m1 0h2m2 0h1m6 0h1m6 0h1M267 137h1m6 0h17m1 0h50m2 0h15m2 0h2m2 0h1m3 0h1m2 0h2m1 0h2M269 138h1m3 0h1m1 0h7m1 0h19m1 0h35m1 0h7m1 0h2m1 0h11m1 0h1m4 0h1m13 0h2m2 0h3M261 139h1m11 0h4m1 0h66m1 0h3m1 0h7m1 0h1m7 0h1m1 0h1m4 0h1M262 140h3m9 0h29m1 0h31m1 0h8m1 0h2m1 0h9m1 0h3m6 0h2m1 0h1m1 0h1m3 0h2M256 141h1m4 0h2m11 0h5m1 0h74m1 0h7M257 142h1m8 0h1m3 0h1m2 0h1m1 0h11m2 0h33m1 0h13m1 0h15m2 0h1m4 0h1m1 0h1m4 0h1m6 0h1m5 0h1M257 143h2m1 0h1m2 0h2m1 0h2m3 0h1m3 0h1m3 0h15m1 0h14m1 0h28m1 0h8m1 0h1m1 0h6m1 0h1m3 0h1m2 0h2m1 0h2m1 0h1m1 0h1m1 0h1m1 0h1m1 0h1M251 144h1m2 0h1m3 0h1m9 0h1m5 0h2m1 0h3m1 0h65m1 0h4m3 0h1m18 0h1m1 0h1M252 145h1m11 0h1m3 0h1m5 0h1m4 0h40m1 0h5m1 0h14m1 0h7m1 0h2m2 0h1m5 0h1m2 0h2m1 0h1m3 0h2m3 0h2m5 0h2M267 146h1m1 0h2m3 0h4m3 0h5m1 0h24m1 0h12m1 0h11m1 0h5m1 0h1m1 0h2m1 0h1m2 0h1m5 0h2m2 0h3m1 0h5m2 0h3M266 147h1m3 0h1m2 0h1m1 0h1m5 0h3m1 0h5m1 0h1m1 0h5m1 0h4m1 0h1m1 0h10m1 0h9m2 0h2m1 0h3m1 0h4m1 0h2m1 0h1m6 0h3m2 0h1m1 0h1m16 0h1m10 0h1M254 148h1m6 0h1m2 0h2m2 0h1m3 0h3m5 0h7m2 0h5m1 0h3m1 0h11m1 0h16m1 0h3m3 0h6m1 0h3m7 0h1m7 0h2m1 0h1m1 0h1m1 0h1m1 0h1M258 149h1m1 0h2m3 0h1m3 0h1m1 0h1m1 0h1m10 0h1m2 0h1m1 0h12m1 0h5m1 0h7m4 0h3m1 0h1m1 0h2m1 0h3m1 0h1m1 0h1m1 0h2m2 0h1m9 0h1m1 0h6m5 0h2m3 0h1m4 0h1M253 150h1m6 0h1m1 0h2m3 0h4m2 0h2m6 0h1m1 0h2m1 0h2m2 0h6m1 0h2m1 0h3m1 0h5m1 0h4m1 0h4m1 0h1m2 0h3m1 0h1m1 0h1m1 0h2m7 0h2m1 0h1m2 0h1m2 0h1m1 0h2m2 0h3m2 0h1m6 0h1m3 0h1m1 0h1m15 0h1M249 151h1m1 0h1m12 0h1m4 0h2m2 0h1m1 0h1m4 0h1m1 0h1m4 0h3m1 0h1m1 0h2m2 0h4m3 0h2m2 0h1m1 0h2m1 0h1m1 0h1m1 0h6m1 0h1m2 0h2m1 0h2m2 0h1m4 0h1m2 0h1m4 0h1m1 0h3m1 0h1m2 0h2m1 0h1m1 0h2m2 0h1m1 0h1M258 152h1m2 0h1m3 0h1m1 0h1m5 0h2m3 0h1m1 0h1m4 0h1m1 0h1m1 0h1m3 0h1m5 0h1m4 0h1m2 0h6m2 0h2m6 0h3m1 0h2m3 0h1m2 0h1m2 0h1m2 0h1m7 0h1m1 0h1m2 0h1m6 0h1m9 0h1m33 0h1M255 153h1m1 0h1m1 0h1m4 0h1m2 0h1m1 0h1m4 0h1m1 0h1m2 0h1m3 0h1m6 0h1m1 0h2m5 0h2m1 0h1m1 0h1m1 0h1m3 0h2m1 0h1m2 0h1m1 0h1m1 0h1m1 0h1m1 0h1m1 0h1m3 0h1m1 0h1m2 0h1m2 0h1m4 0h1m1 0h1m4 0h3m1 0h1m3 0h1m7 0h2M257 154h1m3 0h1m3 0h5m1 0h1m7 0h1m1 0h1m4 0h1m1 0h1m3 0h1m7 0h2m5 0h1m2 0h1m1 0h1m6 0h1m4 0h2m1 0h1m2 0h1m2 0h1m1 0h1m3 0h5m2 0h1m3 0h1m1 0h1m5 0h1m6 0h1m2 0h2M260 155h1m1 0h1m2 0h1m2 0h1m3 0h1m3 0h1m2 0h2m1 0h2m5 0h1m1 0h1m2 0h4m2 0h3m1 0h1m5 0h1m1 0h3m4 0h2m1 0h1m3 0h1m2 0h1m1 0h1m5 0h1m1 0h1m6 0h2m1 0h1m2 0h2m3 0h1M259 156h1m1 0h1m7 0h1m4 0h1m2 0h2m4 0h1m3 0h1m4 0h1m2 0h1m1 0h1m2 0h1m5 0h1m5 0h1m1 0h2m4 0h1m2 0h2m1 0h2m2 0h1m6 0h1m7 0h2m5 0h1m4 0h1M253 157h1m4 0h2m1 0h1m5 0h1m1 0h2m3 0h2m3 0h2m2 0h2m6 0h1m1 0h1m1 0h2m9 0h1m3 0h1m1 0h2m2 0h2m2 0h1m2 0h1m3 0h4m1 0h1m9 0h1m2 0h1m4 0h2m2 0h1m6 0h2m4 0h1M252 158h2m11 0h1m3 0h1m5 0h2m5 0h1m6 0h2m1 0h1m5 0h1m1 0h1m2 0h1m5 0h1m3 0h1m1 0h1m3 0h1m4 0h1m1 0h2m5 0h3m1 0h1m6 0h4m3 0h1m6 0h1M262 159h1m11 0h1m1 0h1m1 0h3m2 0h1m1 0h2m3 0h1m4 0h1m3 0h1m3 0h1m1 0h3m2 0h1m4 0h1m3 0h1m4 0h1m3 0h4m3 0h1m2 0h1m6 0h1m4 0h1M255 160h1m7 0h1m1 0h2m5 0h1m5 0h1m1 0h1m7 0h2m7 0h2m3 0h1m5 0h1m8 0h1m6 0h1m2 0h1m5 0h1m3 0h1m10 0h1m5 0h1M254 161h1m1 0h3m6 0h3m5 0h1m2 0h1m2 0h1m10 0h1m1 0h1m3 0h2m1 0h1m2 0h1m1 0h1m1 0h1m1 0h1m1 0h1m3 0h2m9 0h3m5 0h1m4 0h1m1 0h1m7 0h1m22 0h1M256 162h1m13 0h1m3 0h2m4 0h1m6 0h1m2 0h2m1 0h2m5 0h1m1 0h2m4 0h1m3 0h1m1 0h1m3 0h2m1 0h1m1 0h3m2 0h1m1 0h2m4 0h1m1 0h1m2 0h1m3 0h1m1 0h1m1 0h1m2 0h1M260 163h2m1 0h4m2 0h2m1 0h2m9 0h1m2 0h1m2 0h1m1 0h2m4 0h1m4 0h2m6 0h1m2 0h1m2 0h1m7 0h3m15 0h1M245 164h1m10 0h2m11 0h1m2 0h4m1 0h1m10 0h1m1 0h1m1 0h1m1 0h1m1 0h1m3 0h2m4 0h1m1 0h1m4 0h3m3 0h1m1 0h2m3 0h3m4 0h1m2 0h1m7 0h1m71 0h1M255 165h1m8 0h1m4 0h1m1 0h1m2 0h1m2 0h4m2 0h1m1 0h1m3 0h6m1 0h1m3 0h2m6 0h1m2 0h1m1 0h1m2 0h1m4 0h1m4 0h2m3 0h1m2 0h1m9 0h1m4 0h1M262 166h1m3 0h2m1 0h1m1 0h1m3 0h4m22 0h1m3 0h1m9 0h1m8 0h1m1 0h1m2 0h1M256 167h1m1 0h1m1 0h1m5 0h1m5 0h2m6 0h1m1 0h1m2 0h1m9 0h3m1 0h2m1 0h1m8 0h2m7 0h1m2 0h2m26 0h1M260 168h1m1 0h1m1 0h1m5 0h1m4 0h1m3 0h2m6 0h1m5 0h1m1 0h1m5 0h1m1 0h1m6 0h1m3 0h2m1 0h2m2 0h1m5 0h1m17 0h1m7 0h1M272 169h1m6 0h1m3 0h1m6 0h1m6 0h1m10 0h1m1 0h1m1 0h1m4 0h1m14 0h1M245 170h1m11 0h2m9 0h1m1 0h1m1 0h1m1 0h1m1 0h1m12 0h1m1 0h2m8 0h1m4 0h1m12 0h2m10 0h1M262 171h1m14 0h1m5 0h1m6 0h5m14 0h1m9 0h1M266 172h1m12 0h1m7 0h1m8 0h1m7 0h2m2 0h1m2 0h1m11 0h1m53 0h1M253 173h1m5 0h1m6 0h1m10 0h1m11 0h1m16 0h1M249 174h1m21 0h1m1 0h1m14 0h1M270 176h1M284 177h1m31 0h1M275 178h1M251 180h1M267 181h1m119 0h1M371 182h1m37 0h1M243 184h1M398 185h1" stroke="#0000ff" stroke-width="1" fill="none" transform="translate(0,.5)"/>
<path d="M266 18h1m14 0h1m19 0h1M262 19h1m5 0h1m4 0h1m3 0h1m8 0h1m8 0h1M249 20h1m17 0h1m6 0h1m14 0h1m4 0h1m1 0h1m1 0h1M273 21h1m8 0h1m17 0h1m3 0h1M254 22h1m16 0h1m14 0h1m13 0h1m3 0h1m5 0h1m61 0h1M275 23h2m11 0h2m7 0h1m1 0h1m1 0h1m8 0h1M252 24h1m9 0h1m15 0h1m13 0h1m2 0h2M261 25h1m4 0h1m1 0h1m1 0h1m4 0h1m1 0h1m2 0h2m8 0h1m3 0h1m65 0h1m45 0h1M249 26h1m4 0h1m7 0h1m9 0h1m4 0h1m25 0h2m1 0h2m3 0h1m3 0h1m56 0h1M253 27h1m6 0h1m7 0h1m2 0h2m1 0h1m2 0h1m19 0h1m7 0h1m11 0h1m43 0h1M257 28h1m3 0h1m3 0h1m1 0h1m3 0h1m1 0h1m8 0h1m6 0h1m2 0h2m6 0h1m3 0h1m14 0h1m43 0h1m5 0h1M265 29h1m1 0h2m4 0h1m3 0h1m2 0h1m20 0h1m8 0h1m4 0h1m75 0h1M261 30h1m9 0h1m5 0h1m3 0h1m9 0h1m5 0h1m1 0h1m6 0h1m2 0h1m22 0h1m25 0h1m2 0h1M257 31h2m17 0h1m7 0h1m5 0h1m1 0h1m8 0h1m11 0h1m4 0h1m1 0h1m5 0h1M257 32h1m8 0h3m11 0h2m6 0h1m1 0h3m12 0h1m1 0h2M242 33h1m3 0h1m4 0h1m2 0h2m1 0h1m1 0h1m19 0h1m6 0h3m2 0h1m1 0h1m1 0h1m1 0h1m9 0h1m15 0h1m44 0h1M264 34h1m3 0h1m4 0h2m1 0h1m1 0h1m10 0h1m3 0h1m1 0h1m1 0h1m4 0h1m8 0h1M252 35h1m9 0h1m3 0h1m2 0h3m4 0h1m1 0h2m1 0h1m3 0h1m11 0h1m1 0h1m2 0h2m2 0h2m18 0h1m44 0h1m40 0h1M243 36h1m2 0h1m5 0h1m15 0h1m2 0h1m2 0h2m4 0h2m1 0h1m1 0h1m11 0h1m8 0h1m7 0h1m1 0h1M247 37h1m1 0h1m2 0h1m11 0h1m2 0h3m1 0h1m11 0h1m5 0h1m1 0h1m1 0h1m5 0h1m8 0h1m1 0h2M240 38h1m7 0h1m2 0h3m5 0h1m2 0h1m11 0h3m6 0h2m2 0h3m18 0h2m2 0h2m13 0h1m5 0h1m50 0h1m31 0h1M248 39h2m3 0h1m5 0h1m3 0h1m5 0h1m5 0h3m1 0h1m2 0h1m1 0h1m2 0h1m1 0h1m1 0h1m15 0h3m1 0h2m4 0h2m7 0h1m8 0h1m11 0h1m65 0h1M252 40h2m2 0h1m4 0h1m4 0h1m1 0h1m2 0h1m2 0h1m2 0h1m2 0h1m1 0h1m1 0h2m1 0h2m4 0h1m6 0h1m1 0h1m3 0h1m2 0h1m2 0h3m5 0h1m13 0h1M252 41h1m4 0h1m7 0h3m3 0h1m3 0h1m1 0h3m1 0h3m1 0h1m11 0h1m5 0h1m1 0h1m10 0h2m19 0h1M243 42h2m7 0h1m1 0h1m2 0h1m1 0h1m2 0h1m4 0h2m3 0h1m5 0h1m4 0h2m1 0h1m3 0h1m3 0h1m17 0h1m3 0h3m1 0h2m91 0h1M239 43h1m5 0h2m6 0h1m3 0h1m6 0h1m11 0h2m2 0h1m4 0h2m3 0h1m2 0h1m5 0h1m2 0h2m5 0h1m1 0h1m7 0h2m5 0h1m1 0h1m4 0h1m68 0h1M239 44h1m5 0h4m11 0h1m3 0h2m6 0h1m3 0h1m9 0h1m3 0h2m5 0h1m3 0h1m10 0h1m10 0h1m2 0h1m2 0h1m28 0h1M244 45h2m3 0h1m7 0h1m4 0h1m9 0h1m2 0h1m3 0h2m3 0h5m4 0h1m1 0h1m3 0h1m2 0h1m1 0h2m9 0h1m5 0h1m5 0h1m12 0h1m1 0h1M244 46h1m5 0h1m4 0h1m8 0h1m3 0h1m1 0h2m9 0h1m4 0h1m2 0h1m9 0h1m3 0h3m2 0h2m3 0h2m1 0h1m6 0h1m89 0h1M257 47h1m6 0h1m5 0h2m3 0h2m1 0h1m4 0h1m2 0h2m2 0h1m1 0h3m1 0h1m3 0h1m1 0h1m1 0h1m7 0h1m10 0h1m6 0h2m19 0h1m33 0h1M246 48h1m16 0h1m4 0h1m4 0h1m5 0h1m3 0h1m5 0h1m1 0h3m3 0h1m6 0h1m1 0h1m5 0h1m2 0h1m4 0h2m1 0h3m2 0h1m1 0h1m5 0h1m1 0h1M249 49h1m5 0h1m8 0h1m7 0h1m2 0h1m1 0h1m1 0h1m1 0h1m6 0h1m1 0h3m5 0h2m1 0h1m3 0h2m4 0h4m3 0h1m4 0h2m2 0h1m1 0h1m19 0h1M252 50h1m4 0h2m1 0h2m4 0h1m3 0h2m3 0h1m2 0h2m2 0h1m4 0h1m1 0h3m1 0h1m3 0h2m6 0h1m2 0h1m11 0h2m66 0h1M247 51h1m1 0h1m2 0h1m1 0h1m3 0h1m3 0h1m3 0h1m2 0h1m3 0h1m9 0h1m1 0h2m1 0h2m1 0h2m4 0h1m2 0h1m2 0h1m1 0h3m5 0h1m1 0h1m7 0h1m5 0h1m4 0h1M252 52h3m3 0h1m6 0h1m1 0h1m1 0h3m1 0h1m1 0h1m2 0h1m5 0h1m1 0h1m1 0h1m1 0h3m6 0h3m2 0h1m4 0h3m3 0h1m8 0h2m2 0h1m1 0h1m5 0h1M247 53h1m8 0h1m2 0h2m10 0h2m4 0h2m1 0h1m6 0h2m3 0h3m1 0h3m4 0h1m3 0h1m4 0h2m6 0h2m1 0h1m2 0h1m2 0h1m3 0h1m3 0h1m1 0h1M242 54h2m4 0h1m2 0h1m2 0h1m1 0h1m4 0h1m1 0h1m3 0h1m2 0h2m1 0h2m6 0h2m1 0h1m1 0h1m4 0h1m1 0h1m1 0h1m3 0h1m3 0h1m2 0h1m2 0h1m1 0h1m3 0h1m2 0h1m2 0h2m12 0h1m2 0h2m3 0h1m55 0h1M248 55h1m8 0h2m11 0h1m4 0h1m3 0h1m3 0h5m2 0h1m3 0h1m1 0h3m5 0h1m2 0h2m2 0h2m1 0h1m7 0h4m1 0h1m1 0h1m2 0h1m3 0h1m4 0h1m2 0h1m65 0h1M248 56h1m10 0h1m1 0h2m1 0h1m8 0h1m2 0h1m1 0h1m4 0h1m2 0h1m1 0h1m1 0h2m4 0h2m1 0h1m4 0h1m1 0h1m4 0h2m3 0h1m2 0h2m6 0h2m4 0h1m2 0h1m53 0h1m5 0h1M250 57h1m1 0h1m2 0h1m1 0h2m5 0h1m5 0h1m5 0h3m3 0h2m1 0h3m1 0h1m9 0h2m3 0h1m4 0h1m3 0h1m2 0h3m1 0h1m1 0h1m1 0h3m10 0h1m4 0h1M262 58h4m1 0h1m2 0h1m1 0h1m6 0h4m1 0h1m1 0h1m1 0h1m1 0h3m1 0h1m1 0h2m3 0h1m3 0h1m1 0h1m1 0h1m3 0h1m4 0h1m7 0h2m3 0h1m3 0h1m2 0h1m4 0h1M253 59h1m6 0h2m1 0h3m1 0h1m2 0h2m3 0h2m3 0h1m2 0h2m4 0h1m1 0h1m9 0h1m1 0h1m2 0h3m1 0h1m3 0h2m1 0h1m15 0h1m9 0h1M262 60h1m7 0h1m2 0h2m1 0h1m3 0h2m3 0h1m6 0h1m2 0h1m1 0h1m2 0h2m5 0h1m3 0h1m2 0h1m3 0h2m3 0h1m2 0h1m6 0h1M265 61h1m5 0h2m5 0h1m3 0h3m1 0h1m4 0h1m3 0h1m5 0h3m2 0h1m1 0h1m1 0h1m2 0h1m1 0h1m3 0h2m2 0h1m2 0h1m3 0h1m3 0h1m2 0h1m2 0h1m13 0h1m5 0h1M258 62h1m6 0h1m4 0h1m1 0h1m6 0h1m7 0h2m4 0h1m1 0h2m2 0h1m3 0h1m2 0h1m1 0h3m1 0h2m1 0h1m2 0h1m4 0h3m9 0h1m11 0h1m37 0h1M258 63h4m2 0h1m8 0h2m7 0h1m1 0h1m1 0h1m4 0h1m5 0h3m6 0h2m1 0h3m2 0h2m5 0h1m1 0h1m3 0h1m22 0h1m24 0h1m3 0h1M253 64h1m5 0h1m3 0h1m9 0h3m1 0h1m4 0h1m9 0h1m5 0h1m1 0h1m3 0h1m7 0h1m3 0h1m7 0h1m11 0h1m9 0h1m49 0h1M256 65h1m12 0h1m4 0h1m1 0h2m6 0h1m1 0h4m1 0h3m3 0h1m1 0h1m1 0h1m1 0h2m5 0h2m2 0h2m2 0h1m4 0h1m1 0h4m3 0h1m3 0h1m1 0h1m8 0h2M263 66h1m10 0h1m1 0h1m1 0h7m1 0h1m6 0h2m1 0h2m1 0h5m7 0h3m1 0h2m1 0h1m1 0h1m1 0h1m2 0h2m7 0h2m5 0h2m1 0h1M263 67h2m3 0h1m1 0h1m1 0h1m2 0h1m1 0h4m1 0h1m2 0h1m1 0h1m3 0h1m1 0h1m1 0h4m12 0h1m2 0h3m2 0h2m7 0h1m6 0h3m1 0h2m8 0h1M256 68h1m14 0h1m2 0h3m4 0h4m1 0h1m1 0h2m4 0h1m2 0h1m1 0h1m5 0h1m1 0h2m1 0h1m3 0h1m3 0h1m1 0h1m2 0h1m8 0h1m1 0h2M246 69h1m20 0h1m1 0h4m1 0h4m1 0h1m1 0h2m3 0h2m2 0h1m6 0h2m1 0h1m5 0h2m3 0h1m5 0h1m4 0h2m1 0h2m2 0h1m2 0h1m3 0h1m7 0h1m7 0h1M258 70h3m9 0h1m5 0h3m1 0h2m2 0h1m7 0h1m3 0h1m4 0h1m3 0h1m2 0h1m1 0h2m6 0h1m1 0h1m4 0h1m4 0h1m3 0h2m6 0h1m56 0h1M258 71h1m2 0h1m4 0h1m1 0h2m1 0h1m1 0h1m1 0h2m1 0h1m3 0h2m1 0h1m3 0h1m2 0h1m2 0h1m6 0h1m1 0h1m1 0h3m2 0h2m3 0h1m4 0h1m3 0h2m6 0h1m2 0h1m9 0h1m29 0h1m9 0h1m9 0h1m10 0h1m9 0h1M255 72h1m8 0h1m2 0h1m2 0h2m2 0h1m1 0h1m5 0h1m5 0h1m1 0h1m3 0h1m3 0h1m1 0h2m1 0h4m2 0h1m6 0h1m3 0h1m3 0h1m7 0h1m4 0h2m2 0h1m2 0h1M253 73h1m4 0h1m2 0h1m3 0h1m5 0h1m2 0h2m2 0h1m1 0h1m6 0h1m1 0h2m2 0h7m3 0h2m1 0h1m4 0h1m9 0h3m1 0h1m4 0h1m8 0h1m6 0h1m1 0h1m4 0h1m4 0h1M263 74h1m1 0h1m1 0h1m6 0h1m4 0h2m2 0h1m1 0h1m1 0h1m2 0h5m1 0h1m4 0h4m2 0h1m5 0h1m1 0h4m5 0h1m1 0h2m3 0h1m1 0h1m1 0h2m1 0h1m5 0h1m1 0h1m9 0h1m56 0h1M266 75h1m4 0h1m2 0h1m4 0h1m4 0h7m1 0h1m2 0h3m1 0h1m1 0h2m10 0h2m1 0h1m2 0h1m3 0h1m2 0h1m1 0h1m2 0h1m1 0h1m1 0h1m13 0h1m3 0h1m64 0h1M259 76h1m9 0h1m3 0h1m4 0h4m1 0h1m7 0h2m1 0h1m3 0h4m1 0h2m1 0h2m2 0h1m1 0h1m7 0h1m1 0h4m2 0h2m1 0h1m1 0h1m13 0h1m31 0h1m2 0h1M256 77h1m5 0h1m1 0h1m1 0h1m4 0h1m1 0h1m2 0h1m2 0h1m5 0h6m4 0h2m2 0h3m1 0h1m1 0h2m2 0h2m2 0h3m1 0h1m1 0h1m4 0h1m1 0h1m5 0h1m2 0h1m1 0h2m9 0h1m7 0h1M259 78h1m5 0h1m1 0h1m2 0h1m9 0h1m1 0h1m1 0h2m2 0h2m1 0h2m1 0h2m1 0h3m1 0h1m1 0h1m1 0h3m1 0h1m2 0h1m1 0h1m2 0h2m9 0h3m1 0h1m1 0h1m1 0h2m2 0h3m5 0h1m7 0h1m12 0h1m45 0h1M258 79h1m3 0h1m10 0h1m4 0h1m1 0h1m4 0h3m1 0h3m1 0h8m5 0h1m5 0h2m2 0h1m1 0h1m2 0h3m2 0h1m1 0h1m1 0h1m4 0h1m2 0h1m12 0h1m4 0h1m39 0h1M251 80h1m1 0h1m2 0h1m7 0h1m1 0h1m17 0h4m1 0h4m2 0h1m1 0h1m2 0h4m4 0h3m6 0h1m2 0h1m2 0h1m5 0h1m1 0h1m3 0h1m3 0h1m4 0h1m2 0h1m3 0h1m4 0h2m12 0h1m8 0h1M267 81h1m3 0h1m1 0h1m3 0h1m5 0h2m5 0h1m1 0h2m5 0h3m1 0h3m1 0h1m1 0h1m7 0h4m2 0h2m1 0h2m3 0h1m11 0h2m3 0h2M256 82h1m5 0h1m2 0h2m4 0h2m2 0h2m6 0h1m1 0h1m1 0h3m1 0h6m1 0h1m1 0h4m2 0h1m1 0h3m1 0h4m1 0h2m3 0h2m1 0h1m2 0h1m5 0h1m1 0h1m2 0h2m1 0h1m3 0h2m1 0h1m1 0h1m2 0h1m11 0h1M281 83h1m1 0h1m1 0h3m1 0h1m1 0h9m5 0h1m2 0h3m3 0h1m2 0h1m2 0h1m1 0h1m1 0h1m8 0h1m6 0h3m3 0h1m2 0h2m9 0h1m5 0h1M259 84h1m9 0h2m9 0h1m9 0h4m1 0h1m1 0h4m1 0h2m4 0h2m5 0h1m1 0h1m4 0h2m1 0h1m1 0h1m6 0h1m1 0h1m5 0h1m3 0h3m2 0h1m5 0h1m3 0h2M272 85h1m6 0h1m2 0h2m1 0h1m1 0h2m1 0h1m1 0h1m1 0h8m1 0h1m3 0h1m1 0h1m2 0h2m1 0h1m1 0h4m1 0h2m1 0h1m5 0h1m1 0h4m2 0h1m1 0h1m5 0h2m1 0h2m47 0h1M260 86h1m8 0h1m6 0h2m3 0h3m1 0h3m2 0h1m3 0h1m2 0h1m2 0h1m2 0h14m3 0h1m3 0h1m3 0h1m1 0h4m1 0h1m2 0h1m2 0h1m1 0h1m8 0h1m3 0h2m12 0h2M265 87h1m3 0h2m1 0h1m7 0h4m2 0h3m3 0h1m4 0h3m3 0h4m4 0h3m4 0h1m1 0h1m1 0h1m4 0h1m2 0h1m2 0h2m2 0h1m1 0h1m1 0h1m1 0h1m2 0h1m1 0h1m6 0h2m6 0h2M272 88h1m1 0h1m4 0h2m4 0h1m1 0h1m4 0h15m3 0h2m1 0h4m2 0h2m2 0h1m1 0h1m3 0h1m1 0h1m3 0h1m3 0h1m16 0h1m2 0h1m13 0h1m5 0h1m7 0h1M272 89h1m2 0h1m1 0h2m1 0h1m6 0h1m3 0h8m2 0h2m2 0h6m1 0h1m1 0h1m1 0h2m1 0h3m2 0h1m2 0h5m1 0h2m5 0h3m2 0h1m7 0h1m4 0h1m6 0h1M261 90h1m9 0h1m1 0h1m3 0h1m3 0h2m3 0h3m2 0h3m1 0h2m1 0h2m1 0h3m2 0h6m1 0h5m3 0h1m1 0h3m1 0h5m5 0h4m2 0h1m3 0h5m2 0h1m1 0h1m46 0h1M267 91h1m9 0h3m4 0h1m2 0h1m2 0h1m1 0h3m1 0h1m1 0h3m1 0h1m1 0h3m2 0h1m1 0h1m1 0h2m2 0h1m1 0h1m2 0h1m1 0h1m2 0h1m3 0h1m1 0h3m2 0h1m1 0h1m4 0h1m1 0h1m6 0h2m2 0h1m59 0h1M259 92h1m5 0h1m3 0h1m2 0h2m3 0h3m1 0h2m1 0h1m1 0h2m1 0h1m1 0h12m3 0h5m3 0h3m1 0h1m3 0h3m1 0h2m2 0h3m2 0h2m1 0h2m1 0h1m3 0h1m2 0h1m3 0h2m2 0h1m4 0h1m1 0h1m4 0h1m14 0h1m32 0h1M270 93h1m1 0h2m4 0h1m1 0h3m4 0h3m1 0h1m2 0h4m1 0h1m1 0h4m1 0h3m1 0h5m2 0h1m2 0h1m1 0h1m5 0h2m3 0h1m3 0h1m2 0h1m9 0h1m2 0h2m1 0h2m3 0h1m33 0h1M270 94h1m2 0h1m3 0h1m2 0h2m3 0h4m1 0h2m2 0h1m1 0h3m5 0h2m1 0h4m1 0h4m1 0h1m1 0h1m3 0h1m1 0h3m1 0h1m4 0h1m2 0h2m7 0h1m2 0h1m2 0h2m4 0h1m1 0h2m5 0h1M269 95h1m3 0h2m2 0h1m2 0h2m3 0h4m2 0h3m1 0h1m1 0h1m1 0h11m2 0h1m1 0h8m1 0h1m4 0h2m1 0h1m2 0h3m2 0h1m2 0h1m2 0h1m2 0h1m2 0h1m1 0h2m2 0h2m22 0h1M264 96h1m4 0h1m2 0h1m3 0h2m1 0h2m1 0h1m2 0h1m3 0h8m1 0h2m1 0h2m1 0h1m2 0h1m1 0h2m3 0h1m1 0h5m1 0h2m1 0h2m1 0h1m3 0h1m1 0h1m2 0h1m1 0h3m3 0h1m5 0h1m5 0h1m1 0h1M268 97h2m2 0h1m1 0h1m4 0h2m2 0h2m4 0h5m1 0h4m3 0h5m1 0h2m1 0h1m1 0h1m4 0h1m3 0h2m1 0h2m4 0h1m2 0h1m1 0h2m1 0h1m4 0h1m3 0h1m1 0h1m1 0h1m1 0h1m6 0h1m16 0h1M263 98h1m8 0h1m2 0h2m1 0h1m2 0h4m2 0h1m1 0h1m2 0h4m1 0h7m1 0h1m1 0h2m2 0h2m4 0h2m3 0h1m3 0h1m1 0h4m1 0h1m2 0h4m1 0h3m1 0h1m1 0h1m2 0h1m1 0h2m3 0h2m3 0h1m7 0h1m4 0h1M269 99h1m4 0h1m3 0h2m3 0h2m1 0h5m4 0h1m1 0h1m1 0h8m1 0h1m1 0h1m1 0h3m2 0h3m1 0h1m2 0h8m1 0h2m2 0h3m1 0h1m4 0h4m1 0h1m3 0h2m8 0h1m37 0h1m13 0h1M270 100h1m3 0h1m1 0h3m1 0h2m1 0h2m1 0h2m1 0h1m1 0h1m1 0h7m1 0h5m2 0h1m1 0h1m1 0h2m1 0h2m2 0h1m1 0h1m1 0h6m1 0h1m2 0h1m1 0h3m2 0h1m2 0h2m4 0h1m2 0h3m5 0h1m3 0h1m2 0h1M266 101h2m4 0h3m1 0h1m5 0h1m1 0h1m4 0h4m1 0h1m1 0h3m2 0h3m1 0h2m1 0h11m1 0h1m1 0h1m1 0h2m2 0h2m1 0h1m1 0h1m1 0h1m3 0h1m2 0h3m3 0h1m5 0h1m2 0h2m2 0h1m4 0h1M269 102h1m1 0h2m8 0h1m3 0h2m1 0h1m2 0h17m1 0h3m2 0h1m1 0h4m2 0h1m1 0h2m3 0h1m3 0h1m1 0h1m2 0h1m1 0h1m3 0h1m1 0h1m4 0h3m3 0h1m3 0h1m1 0h1m12 0h1M267 103h1m3 0h2m2 0h1m2 0h1m4 0h1m2 0h1m1 0h11m1 0h5m1 0h13m2 0h8m1 0h1m2 0h1m1 0h1m2 0h1m1 0h1m4 0h1m1 0h1m1 0h1m1 0h1m5 0h3m1 0h2m7 0h1M274 104h1m1 0h2m1 0h1m3 0h2m1 0h4m1 0h3m1 0h1m2 0h1m2 0h5m1 0h1m2 0h1m1 0h2m4 0h1m1 0h7m1 0h1m1 0h1m2 0h1m4 0h2m1 0h1m5 0h1m7 0h1m1 0h1m2 0h1m1 0h1m16 0h1m15 0h1m5 0h1M271 105h2m1 0h1m5 0h1m4 0h1m1 0h1m1 0h12m1 0h1m1 0h1m2 0h1m1 0h1m2 0h1m2 0h7m1 0h1m3 0h2m1 0h1m1 0h6m1 0h2m1 0h1m1 0h2m3 0h1m1 0h3m1 0h4m2 0h1M275 106h2m4 0h3m1 0h1m1 0h1m1 0h3m1 0h1m2 0h3m1 0h10m2 0h10m1 0h1m1 0h2m1 0h1m3 0h1m1 0h5m1 0h4m2 0h2m9 0h1m5 0h2m39 0h1M280 107h1m2 0h1m1 0h1m1 0h6m3 0h3m1 0h11m1 0h1m2 0h6m1 0h4m1 0h1m1 0h1m1 0h3m1 0h1m3 0h4m3 0h3m4 0h2m1 0h3m3 0h2m3 0h1M261 108h1m8 0h1m5 0h1m1 0h1m1 0h2m1 0h5m1 0h1m1 0h1m1 0h16m1 0h5m2 0h3m2 0h6m1 0h2m2 0h4m1 0h1m1 0h1m3 0h3m5 0h1m2 0h2m4 0h1m2 0h1m5 0h1m26 0h1M280 109h2m3 0h2m1 0h5m1 0h1m1 0h16m1 0h7m1 0h3m1 0h5m2 0h6m1 0h1m2 0h3m2 0h3m1 0h4m1 0h1m2 0h1m3 0h1M272 110h2m2 0h1m6 0h1m1 0h2m2 0h2m2 0h15m1 0h6m1 0h6m1 0h1m1 0h1m2 0h6m2 0h1m2 0h2m3 0h1m2 0h4m4 0h1m6 0h1m1 0h1m3 0h1M277 111h1m1 0h1m1 0h3m5 0h1m1 0h5m1 0h14m1 0h5m1 0h6m1 0h10m1 0h1m2 0h1m1 0h5m1 0h1m2 0h1m3 0h2m1 0h1m1 0h1m2 0h5m12 0h1M282 112h1m2 0h3m1 0h3m1 0h2m2 0h15m1 0h5m1 0h8m1 0h3m1 0h8m1 0h1m2 0h2m1 0h1m5 0h2m2 0h3m2 0h2m2 0h1m1 0h1m1 0h1M270 113h1m10 0h1m2 0h1m1 0h16m1 0h19m1 0h6m1 0h3m2 0h1m1 0h3m1 0h1m2 0h2m2 0h4m1 0h1m2 0h1m1 0h3m3 0h1m2 0h1m8 0h1m13 0h1M279 114h1m1 0h4m1 0h3m2 0h4m1 0h2m1 0h6m1 0h12m1 0h7m1 0h2m1 0h3m1 0h1m1 0h1m1 0h1m1 0h1m1 0h1m3 0h1m1 0h1m2 0h1m3 0h4m2 0h1m1 0h1M276 115h1m1 0h1m1 0h1m1 0h1m1 0h1m1 0h1m1 0h6m1 0h6m1 0h1m1 0h24m2 0h3m1 0h2m1 0h1m1 0h3m3 0h1m3 0h1m1 0h1m3 0h1m1 0h3m1 0h1m2 0h2m3 0h1m26 0h1m19 0h1M279 116h1m1 0h1m1 0h1m2 0h4m1 0h15m1 0h3m1 0h2m1 0h9m1 0h2m1 0h1m2 0h1m1 0h3m1 0h2m1 0h1m4 0h1m1 0h2m2 0h1m1 0h3m1 0h1m1 0h1m1 0h5m1 0h1m32 0h1M283 117h6m2 0h1m1 0h1m2 0h27m1 0h14m1 0h3m1 0h5m1 0h2m3 0h1m2 0h1m1 0h2m3 0h2m2 0h2M281 118h1m3 0h1m2 0h1m2 0h4m1 0h8m1 0h1m2 0h4m1 0h24m1 0h1m2 0h4m1 0h3m3 0h1m1 0h2m2 0h2m1 0h2m12 0h1m4 0h1M274 119h3m12 0h5m3 0h2m2 0h2m3 0h5m1 0h1m1 0h2m1 0h9m1 0h1m1 0h7m1 0h2m1 0h1m3 0h2m2 0h2m1 0h2m3 0h1m2 0h1m2 0h1M289 120h2m1 0h1m2 0h2m1 0h1m1 0h1m1 0h2m2 0h1m2 0h1m1 0h1m2 0h3m1 0h6m2 0h7m1 0h2m1 0h3m2 0h4m1 0h1m2 0h1m1 0h1m2 0h1m1 0h1m1 0h1m1 0h1m2 0h1m1 0h1m2 0h3M289 121h1m6 0h2m1 0h1m2 0h1m3 0h1m1 0h1m2 0h2m2 0h2m1 0h2m1 0h1m1 0h1m2 0h2m1 0h1m1 0h3m1 0h5m1 0h1m3 0h1m8 0h2m2 0h1m1 0h5m2 0h2m26 0h1M295 122h1m1 0h1m3 0h1m1 0h1m5 0h1m1 0h2m3 0h1m4 0h1m3 0h1m1 0h1m6 0h2m2 0h1m1 0h1m4 0h1m7 0h2m1 0h1m1 0h1m4 0h1m1 0h1m1 0h1m1 0h1M297 123h1m14 0h1m2 0h1m1 0h1m5 0h1m4 0h1m3 0h1m3 0h1m1 0h2m2 0h1m1 0h1m5 0h1m15 0h2m3 0h1M305 124h1m24 0h1m5 0h1m5 0h1m7 0h2m5 0h1m15 0h1m3 0h1M310 125h1m13 0h1m18 0h1m24 0h1m3 0h1m42 0h1M338 126h1m27 0h1M345 127h1m10 0h1m3 0h1M363 128h1M368 129h1M364 131h1M322 134h1m41 0h1" stroke="#ff0000" stroke-width="1" fill="none" transform="translate(0,.5)"/>
<path d="M479 71h1M478 72h1M469 74h1m9 0h1m3 0h1m1 0h1M470 75h1m21 0h1M465 76h1m10 0h1m6 0h1m6 0h1M471 77h1m2 0h1m10 0h1M469 78h2m1 0h1m1 0h1m1 0h2m2 0h1m1 0h1m1 0h1m4 0h2M470 79h1m4 0h1m1 0h2m2 0h1m8 0h1m2 0h1M464 80h1m4 0h5m3 0h1m2 0h1m2 0h1m1 0h1m3 0h2m1 0h1M470 81h2m1 0h2m1 0h1m3 0h1m11 0h1M466 82h4m7 0h6m4 0h1m3 0h3M465 83h2m3 0h1m2 0h1m5 0h4m2 0h3m3 0h2M462 84h1m1 0h1m4 0h2m1 0h1m1 0h1m1 0h1m6 0h2m1 0h1m5 0h3m3 0h2m3 0h1M463 85h1m2 0h1m4 0h1m3 0h1m2 0h1m3 0h1m3 0h2m1 0h1M463 86h1m1 0h2m3 0h1m4 0h2m3 0h5m5 0h2m5 0h1m1 0h1M463 87h1m2 0h2m6 0h1m2 0h2m2 0h1m4 0h3m3 0h2m1 0h1m1 0h1m1 0h1M466 88h1m1 0h1m3 0h1m1 0h2m2 0h1m1 0h1m5 0h1m2 0h2m2 0h4M462 89h1m1 0h1m5 0h1m2 0h1m1 0h1m5 0h1m4 0h2m2 0h2m1 0h1m2 0h2m2 0h1M463 90h1m5 0h1m3 0h1m1 0h1m4 0h2m1 0h3m2 0h1m1 0h2m1 0h1m3 0h4M466 91h1m2 0h1m1 0h1m1 0h1m1 0h1m2 0h1m4 0h1m1 0h6m5 0h2m3 0h1m3 0h2M467 92h2m3 0h1m3 0h1m2 0h1m3 0h1m1 0h4m1 0h3m1 0h1m2 0h1m1 0h2m3 0h1m3 0h1M462 93h4m1 0h2m2 0h1m2 0h8m2 0h1m3 0h2m1 0h1m1 0h1m2 0h2m2 0h1m2 0h1M462 94h1m6 0h1m3 0h1m1 0h2m1 0h2m1 0h1m3 0h3m1 0h1m1 0h3m8 0h1m2 0h1m1 0h2M463 95h2m1 0h3m1 0h2m2 0h3m2 0h5m2 0h1m1 0h1m5 0h5m1 0h2m1 0h2m4 0h1M462 96h1m2 0h3m1 0h5m3 0h1m2 0h2m1 0h1m1 0h2m2 0h3m3 0h1m1 0h1m2 0h1m5 0h1m3 0h1M464 97h3m1 0h2m2 0h3m1 0h2m1 0h1m5 0h3m1 0h1m1 0h1m3 0h1m1 0h1m3 0h3m2 0h2m1 0h1m1 0h1m1 0h1m2 0h1M462 98h2m3 0h2m1 0h1m3 0h1m8 0h1m1 0h6m2 0h4m1 0h4m3 0h1m1 0h2m5 0h1M464 99h1m1 0h4m3 0h5m1 0h1m1 0h3m2 0h1m1 0h2m2 0h2m4 0h2m1 0h2m2 0h5M462 100h2m4 0h4m1 0h5m3 0h3m2 0h3m1 0h1m6 0h4m1 0h1m1 0h3m1 0h3m2 0h1m2 0h1M464 101h1m1 0h1m1 0h1m3 0h1m5 0h1m1 0h1m1 0h3m1 0h3m1 0h1m1 0h2m1 0h1m1 0h6m3 0h3m1 0h1m1 0h1m2 0h1m1 0h1M470 102h1m4 0h3m2 0h2m1 0h4m2 0h2m1 0h1m1 0h3m1 0h1m1 0h2m1 0h2m3 0h2M466 103h1m1 0h1m1 0h1m1 0h3m5 0h3m1 0h1m3 0h1m1 0h2m4 0h3m1 0h3m1 0h4m4 0h2M463 104h1m1 0h2m2 0h3m1 0h4m1 0h1m1 0h1m2 0h1m1 0h2m3 0h9m1 0h1m4 0h3m1 0h4m4 0h1M463 105h1m1 0h1m1 0h3m3 0h3m1 0h3m2 0h1m1 0h1m4 0h5m1 0h5m1 0h5m4 0h2m2 0h2m3 0h1m2 0h2m2 0h2M462 106h2m2 0h1m1 0h1m1 0h1m3 0h1m1 0h2m2 0h1m1 0h1m2 0h1m2 0h2m1 0h4m1 0h5m4 0h7m1 0h5m1 0h1m6 0h1M462 107h1m1 0h6m2 0h4m1 0h2m1 0h2m1 0h3m2 0h1m2 0h5m2 0h4m1 0h4m1 0h1m2 0h1m2 0h1m1 0h3m2 0h1M463 108h4m2 0h3m1 0h1m1 0h2m1 0h6m1 0h4m1 0h2m1 0h2m3 0h2m2 0h1m2 0h3m1 0h2m2 0h1m1 0h1m3 0h2m1 0h1m1 0h1m2 0h2M462 109h3m1 0h1m3 0h3m6 0h2m2 0h1m1 0h1m1 0h2m3 0h4m4 0h2m3 0h4m1 0h1m1 0h1m1 0h1m2 0h1m2 0h2m10 0h1M462 110h2m3 0h1m1 0h2m2 0h1m2 0h1m1 0h3m1 0h1m2 0h4m1 0h5m1 0h3m2 0h3m1 0h2m1 0h2m1 0h2m2 0h6m1 0h1m2 0h1M462 111h1m3 0h4m3 0h1m1 0h3m3 0h3m2 0h1m1 0h1m1 0h8m1 0h4m3 0h3m3 0h1m4 0h2m2 0h1m2 0h3m1 0h1m23 0h1M464 112h6m2 0h2m1 0h1m1 0h1m3 0h1m1 0h2m2 0h1m4 0h12m3 0h1m2 0h2m1 0h3m6 0h1m1 0h1m10 0h1M463 113h1m1 0h1m2 0h1m5 0h7m1 0h2m1 0h2m1 0h3m1 0h1m1 0h1m2 0h7m4 0h1m1 0h1m2 0h3m3 0h1m1 0h2m1 0h2m2 0h1M463 114h3m1 0h1m1 0h4m2 0h1m2 0h1m2 0h1m1 0h1m1 0h4m1 0h17m1 0h3m1 0h1m5 0h1m1 0h1m5 0h1M462 115h4m1 0h1m1 0h3m2 0h1m1 0h3m2 0h4m1 0h5m4 0h4m1 0h1m1 0h3m1 0h7m1 0h3m1 0h1m3 0h1m1 0h1m1 0h3M463 116h1m3 0h3m1 0h3m1 0h1m1 0h4m1 0h2m1 0h2m1 0h2m2 0h6m1 0h2m2 0h1m3 0h4m2 0h4m2 0h1m1 0h4m3 0h2m17 0h1M463 117h2m1 0h1m2 0h1m2 0h1m1 0h1m1 0h3m5 0h1m1 0h2m2 0h7m2 0h3m1 0h5m1 0h1m4 0h1m1 0h1m3 0h1m2 0h1m1 0h2m5 0h1m4 0h2m1 0h1M462 118h5m1 0h11m3 0h5m1 0h1m2 0h2m1 0h2m1 0h4m1 0h3m3 0h4m1 0h3m3 0h4m1 0h1m1 0h1m3 0h1m10 0h1m2 0h1m6 0h1m36 0h1M462 119h3m1 0h3m2 0h1m2 0h2m2 0h4m3 0h3m2 0h5m1 0h17m1 0h4m1 0h2m3 0h1m1 0h3m2 0h2m3 0h2m2 0h2m15 0h1m7 0h1m13 0h1m14 0h1M462 120h1m1 0h5m3 0h5m1 0h1m2 0h4m3 0h7m1 0h4m1 0h1m2 0h3m1 0h15m1 0h1m2 0h1m2 0h1m1 0h2m3 0h1m1 0h2m2 0h1m1 0h1m1 0h1m1 0h1m1 0h1m2 0h3m12 0h1m11 0h1m3 0h1m6 0h1m48 0h1M462 121h2m1 0h2m3 0h3m1 0h1m6 0h2m3 0h5m1 0h6m1 0h3m1 0h5m1 0h3m1 0h3m2 0h6m2 0h3m2 0h5m1 0h6m3 0h2m2 0h1m1 0h1m3 0h1m1 0h1m1 0h1m3 0h6m8 0h1m3 0h1m2 0h1m10 0h1m2 0h1m7 0h1m14 0h2m24 0h1M463 122h1m1 0h6m2 0h2m1 0h1m1 0h5m1 0h4m2 0h9m1 0h13m1 0h2m1 0h5m1 0h6m3 0h3m1 0h1m1 0h3m1 0h2m1 0h3m1 0h2m1 0h5m2 0h2m2 0h2m6 0h1m2 0h1m2 0h1m1 0h2m1 0h2m1 0h1m8 0h1m4 0h1m2 0h1m8 0h1m3 0h1M464 123h3m1 0h1m2 0h3m1 0h4m1 0h2m1 0h4m1 0h17m3 0h21m1 0h8m1 0h4m1 0h7m1 0h9m1 0h1m2 0h2m1 0h1m2 0h5m3 0h4m1 0h2m1 0h1m3 0h4m1 0h1m2 0h2m3 0h1m6 0h2m22 0h1m8 0h1M462 124h7m1 0h1m2 0h2m2 0h4m1 0h3m1 0h2m1 0h2m1 0h1m1 0h5m1 0h8m1 0h6m1 0h40m1 0h9m3 0h4m2 0h2m2 0h9m1 0h3m1 0h2m1 0h2m1 0h3m1 0h3m2 0h1m1 0h2m1 0h2m2 0h2m3 0h1m1 0h2m4 0h1m15 0h1M463 125h1m1 0h1m1 0h1m1 0h3m1 0h1m1 0h11m1 0h9m2 0h8m1 0h1m1 0h6m1 0h2m1 0h3m1 0h34m1 0h25m1 0h4m1 0h3m1 0h3m2 0h1m1 0h1m1 0h11m1 0h1m3 0h1m1 0h2m3 0h2m2 0h1m1 0h1m8 0h2m1 0h1m8 0h1m5 0h1M463 126h1m1 0h1m6 0h8m2 0h2m2 0h2m1 0h2m1 0h1m1 0h3m1 0h4m2 0h86m1 0h1m1 0h6m1 0h14m1 0h1m2 0h1m4 0h4m1 0h1m1 0h2m1 0h3m5 0h1m3 0h3m5 0h1m16 0h1M464 127h2m2 0h7m1 0h5m3 0h4m2 0h5m1 0h9m1 0h11m1 0h53m1 0h13m1 0h1m1 0h17m1 0h8m1 0h1m3 0h3m1 0h4m1 0h1m1 0h4m1 0h2m3 0h1m1 0h1m7 0h1m7 0h1m6 0h1M464 128h7m1 0h2m1 0h1m1 0h1m1 0h3m1 0h2m2 0h3m1 0h26m1 0h2m1 0h70m1 0h7m1 0h9m1 0h4m1 0h6m1 0h2m2 0h4m3 0h1m1 0h1m2 0h1m2 0h2m2 0h2m3 0h1M462 129h1m2 0h2m1 0h7m1 0h2m2 0h1m1 0h2m1 0h4m1 0h10m1 0h1m1 0h5m1 0h3m1 0h2m2 0h3m1 0h45m1 0h11m1 0h10m1 0h6m1 0h9m1 0h4m1 0h5m2 0h2m2 0h3m2 0h6m4 0h2m1 0h2m3 0h1m2 0h1m1 0h1m2 0h1m2 0h1m1 0h1M464 130h2m2 0h1m2 0h2m2 0h1m1 0h1m2 0h4m2 0h2m2 0h3m2 0h60m1 0h13m1 0h15m1 0h9m1 0h1m1 0h17m1 0h3m1 0h3m1 0h3m2 0h1m1 0h1m1 0h1m1 0h2m2 0h1m5 0h1m6 0h1m9 0h1m6 0h1M463 131h2m1 0h4m3 0h1m1 0h7m1 0h1m2 0h5m1 0h6m1 0h1m2 0h8m1 0h14m1 0h20m1 0h20m1 0h3m1 0h6m2 0h2m1 0h4m1 0h6m1 0h1m1 0h4m2 0h1m1 0h1m2 0h1m1 0h6m2 0h2m2 0h3m2 0h1m3 0h1m5 0h2m6 0h2M462 132h1m3 0h1m1 0h2m1 0h1m1 0h3m1 0h2m1 0h1m3 0h2m1 0h1m1 0h1m1 0h4m1 0h10m1 0h49m1 0h1m1 0h5m2 0h3m1 0h2m1 0h3m2 0h1m1 0h5m2 0h5m1 0h1m3 0h4m1 0h1m5 0h3m1 0h1m3 0h3m3 0h2m5 0h1m2 0h1m4 0h1m13 0h1m1 0h1M463 133h1m5 0h2m2 0h3m1 0h1m2 0h3m1 0h8m1 0h2m2 0h13m1 0h9m1 0h12m1 0h8m1 0h8m1 0h6m1 0h7m1 0h8m2 0h1m2 0h3m8 0h3m1 0h4m1 0h3m1 0h2m6 0h1m2 0h3m3 0h1m2 0h1m2 0h1m2 0h1m8 0h1m1 0h1m3 0h1m5 0h1M462 134h1m2 0h1m1 0h5m1 0h3m1 0h1m1 0h3m2 0h1m1 0h2m1 0h4m1 0h1m1 0h1m1 0h9m1 0h6m1 0h10m1 0h1m1 0h8m1 0h3m1 0h2m1 0h4m1 0h4m1 0h5m1 0h3m1 0h1m1 0h3m3 0h2m2 0h1m2 0h1m3 0h1m1 0h1m1 0h1m2 0h1m2 0h1m7 0h1m3 0h1m5 0h1m8 0h1m10 0h1m26 0h2M463 135h1m1 0h2m1 0h1m2 0h4m1 0h1m1 0h1m2 0h4m1 0h13m3 0h5m1 0h18m1 0h9m2 0h1m1 0h2m2 0h1m3 0h2m1 0h1m2 0h1m1 0h1m5 0h3m1 0h1m6 0h1m7 0h1m14 0h2m1 0h1m5 0h1m6 0h1m1 0h1m2 0h1m5 0h1m44 0h1m1 0h1M464 136h2m4 0h4m3 0h2m1 0h1m1 0h2m1 0h2m5 0h9m2 0h1m1 0h22m1 0h1m1 0h2m2 0h1m1 0h2m1 0h1m2 0h1m3 0h1m2 0h1m3 0h1m6 0h1m2 0h2m3 0h1m5 0h1m4 0h1m32 0h2M464 137h1m1 0h1m6 0h1m3 0h2m1 0h5m4 0h1m1 0h1m1 0h6m1 0h10m1 0h13m3 0h1m1 0h2m1 0h1m3 0h2m1 0h1m2 0h1m9 0h2m3 0h1m7 0h1m2 0h2m5 0h1m36 0h1M462 138h1m1 0h2m2 0h2m2 0h1m1 0h2m1 0h5m3 0h1m1 0h5m1 0h1m1 0h24m1 0h1m3 0h1m1 0h5m9 0h1m8 0h1m14 0h3M462 139h2m2 0h3m1 0h2m3 0h1m1 0h2m1 0h2m2 0h3m2 0h1m1 0h1m1 0h13m1 0h2m1 0h2m6 0h1m1 0h4m2 0h1m2 0h1m5 0h1m14 0h1m15 0h1M463 140h1m1 0h2m1 0h1m1 0h2m1 0h1m2 0h2m1 0h2m2 0h2m1 0h1m1 0h6m1 0h5m4 0h3m1 0h3m1 0h2m1 0h1m2 0h5m1 0h1m1 0h1M467 141h1m3 0h1m1 0h1m3 0h1m1 0h1m3 0h1m4 0h4m1 0h2m2 0h2m2 0h1m1 0h1m2 0h3m2 0h1m1 0h3m2 0h1m5 0h1m2 0h1m1 0h1m3 0h1m8 0h1M463 142h1m6 0h4m1 0h1m1 0h4m3 0h1m1 0h2m2 0h1m2 0h4m1 0h2m1 0h1m1 0h3m5 0h1m2 0h3m5 0h1m1 0h1m4 0h1M462 143h3m1 0h1m1 0h1m1 0h1m1 0h1m1 0h1m1 0h1m1 0h2m2 0h1m1 0h1m1 0h4m4 0h1m3 0h2m1 0h4m1 0h4m1 0h1m4 0h1m6 0h1m3 0h1m2 0h1M464 144h2m2 0h2m2 0h1m4 0h3m1 0h1m1 0h1m1 0h3m2 0h3m1 0h2m2 0h2m2 0h2m1 0h1m10 0h1m12 0h1m3 0h1M464 145h4m4 0h1m1 0h1m3 0h3m5 0h1m2 0h1m1 0h3m2 0h1m2 0h1m3 0h1m5 0h1m5 0h1m22 0h1M466 146h3m1 0h2m3 0h3m5 0h5m3 0h2m1 0h4m1 0h1m7 0h2m1 0h1m2 0h1m7 0h1M464 147h1m1 0h1m1 0h1m3 0h1m1 0h1m1 0h1m2 0h1m2 0h3m2 0h1m1 0h1m2 0h1m1 0h1m2 0h4m6 0h1m12 0h1M462 148h1m3 0h1m6 0h1m5 0h2m1 0h1m1 0h1m3 0h1m3 0h1m1 0h1m1 0h1m2 0h1m5 0h1m1 0h1M463 149h2m3 0h3m1 0h2m3 0h2m1 0h1m1 0h3m6 0h1m9 0h2m16 0h1M462 150h4m10 0h4m1 0h1m1 0h1m1 0h1m1 0h2m5 0h2m10 0h1m2 0h1M465 151h1m3 0h1m1 0h1m1 0h5m2 0h2m1 0h4m1 0h1m3 0h1M463 152h1m1 0h1m1 0h2m13 0h2m2 0h1M468 153h2m2 0h1m1 0h1m2 0h3m3 0h2m14 0h1m6 0h1M463 154h4m1 0h4m1 0h2m2 0h2m4 0h1m1 0h2m1 0h1m7 0h1M462 155h1m1 0h2m2 0h2m2 0h1m3 0h1m1 0h2m2 0h1m4 0h2M462 156h1m7 0h1m1 0h1m2 0h1m8 0h1m1 0h1M473 157h1m4 0h3m11 0h1M467 158h3m5 0h1m6 0h1m5 0h1M470 159h1M462 162h1" stroke="#646464" stroke-width="1" fill="none" transform="translate(0,.5)"/>
<path d="M620 126h1M587 127h1M614 128h1m9 0h1M589 129h1m6 0h1m20 0h2m7 0h1M569 130h1m15 0h1m33 0h1m3 0h1M546 131h1m20 0h1m3 0h1m6 0h2m2 0h1m4 0h1m8 0h1m4 0h2m1 0h1m1 0h2m1 0h1m7 0h1m2 0h2m3 0h1M556 132h1m1 0h1m5 0h2m3 0h1m2 0h1m3 0h2m1 0h1m5 0h2m5 0h1m1 0h3m7 0h4m3 0h1m2 0h2m3 0h1m1 0h1M520 133h1m12 0h1m8 0h1m8 0h1m6 0h1m7 0h1m8 0h2m1 0h2m3 0h1m1 0h6m3 0h1m4 0h1m3 0h1m3 0h1m2 0h2m2 0h1m4 0h1m6 0h1M525 134h1m1 0h1m8 0h1m3 0h1m2 0h1m4 0h1m4 0h1m5 0h1m3 0h1m1 0h1m3 0h3m2 0h2m1 0h2m1 0h3m1 0h1m3 0h2m1 0h2m1 0h1m1 0h5m1 0h2m3 0h3m2 0h2m3 0h3m4 0h1m1 0h3M480 135h1m26 0h1m18 0h1m9 0h2m1 0h1m2 0h2m1 0h3m2 0h1m1 0h2m1 0h1m1 0h4m4 0h1m1 0h1m1 0h4m1 0h7m1 0h14m2 0h1m1 0h5m1 0h3m1 0h2m1 0h1m1 0h2m1 0h4m2 0h1m1 0h1M527 136h1m1 0h1m2 0h2m1 0h1m2 0h1m1 0h2m1 0h3m1 0h2m1 0h3m1 0h6m1 0h2m2 0h3m1 0h5m1 0h4m1 0h8m1 0h5m1 0h4m1 0h12m2 0h1m1 0h3m1 0h3m1 0h1M476 137h1m33 0h1m14 0h2m1 0h1m4 0h3m2 0h1m1 0h1m2 0h9m2 0h2m2 0h7m1 0h2m2 0h5m1 0h29m1 0h6m1 0h1m1 0h1m1 0h2m1 0h3m6 0h3M519 138h1m2 0h2m1 0h1m5 0h9m1 0h8m1 0h14m3 0h11m1 0h8m1 0h7m1 0h1m2 0h3m1 0h7m1 0h1m2 0h3m1 0h1m14 0h1M488 139h1m17 0h1m6 0h5m1 0h1m4 0h2m1 0h2m1 0h5m1 0h14m1 0h15m1 0h12m1 0h14m2 0h2m1 0h2m1 0h7m3 0h1m1 0h1m3 0h1m2 0h1m2 0h2m4 0h1M501 140h1m9 0h1m2 0h1m12 0h12m1 0h9m1 0h11m1 0h1m1 0h3m1 0h34m1 0h3m4 0h2m1 0h2m3 0h3m4 0h1m6 0h1M465 141h1m4 0h1m31 0h1m2 0h1m4 0h1m8 0h1m1 0h1m1 0h1m1 0h1m2 0h1m1 0h1m3 0h1m1 0h2m1 0h1m1 0h1m1 0h3m1 0h3m1 0h2m1 0h3m1 0h4m1 0h16m1 0h3m2 0h2m1 0h4m1 0h2m1 0h2m1 0h3m1 0h2m2 0h1m1 0h1m2 0h1m1 0h1m6 0h1m6 0h1M465 142h1m40 0h1m2 0h2m2 0h1m3 0h3m3 0h1m1 0h4m1 0h1m5 0h3m1 0h4m1 0h4m3 0h1m1 0h2m1 0h3m1 0h3m2 0h1m3 0h5m1 0h5m1 0h1m2 0h1m2 0h2m1 0h1m2 0h1m1 0h2m1 0h1m4 0h1m3 0h2m8 0h1m6 0h1m1 0h1M512 143h2m1 0h1m1 0h2m2 0h2m1 0h1m1 0h1m1 0h1m2 0h3m1 0h1m1 0h2m1 0h1m2 0h3m2 0h1m2 0h1m1 0h1m6 0h4m1 0h1m1 0h1m1 0h1m1 0h1m1 0h3m3 0h2m4 0h2m4 0h1m2 0h1m1 0h1m1 0h2m3 0h2m2 0h1m8 0h1m1 0h1m1 0h1m5 0h1M506 144h1m1 0h1m1 0h1m3 0h1m7 0h1m1 0h1m1 0h2m9 0h1m2 0h1m1 0h1m2 0h1m4 0h1m1 0h4m1 0h2m3 0h3m4 0h3m1 0h1m2 0h1m6 0h2m1 0h1m1 0h2m1 0h1m2 0h1m3 0h1m2 0h1m1 0h4m9 0h1m4 0h1m2 0h1m4 0h1M487 145h1m17 0h4m5 0h1m3 0h1m4 0h2m1 0h1m3 0h1m9 0h1m1 0h1m4 0h1m2 0h1m1 0h1m2 0h1m2 0h1m2 0h1m4 0h1m4 0h3m3 0h1m1 0h1m1 0h2m6 0h1m1 0h1m2 0h1m9 0h1m2 0h1m1 0h1m18 0h1M469 146h1m35 0h1m3 0h1m6 0h1m1 0h2m2 0h4m2 0h2m4 0h1m1 0h2m3 0h1m1 0h1m1 0h3m3 0h1m5 0h1m3 0h1m1 0h2m8 0h3m3 0h1m1 0h1m1 0h1m3 0h1m2 0h1m5 0h1m3 0h1m1 0h1m2 0h1m8 0h1m5 0h1m7 0h1M485 147h1m23 0h3m4 0h2m1 0h1m5 0h1m11 0h5m2 0h1m3 0h1m1 0h3m3 0h1m1 0h1m1 0h2m5 0h2m3 0h1m3 0h1m2 0h1m2 0h1m2 0h1m2 0h1m3 0h1m1 0h3m5 0h2m2 0h1m4 0h2m6 0h2m1 0h1M472 148h1m30 0h1m2 0h1m3 0h2m4 0h3m3 0h2m1 0h1m4 0h1m6 0h1m1 0h2m1 0h1m1 0h1m3 0h2m1 0h1m3 0h5m3 0h1m5 0h4m6 0h1m4 0h1m2 0h1m1 0h1m1 0h1m5 0h1m6 0h1m12 0h1m1 0h3m2 0h1M505 149h3m2 0h1m2 0h1m4 0h1m1 0h1m3 0h1m4 0h2m4 0h1m1 0h1m1 0h1m1 0h2m14 0h2m3 0h1m6 0h1m1 0h1m3 0h1m3 0h1m9 0h1m11 0h1m9 0h1m7 0h1M513 150h2m1 0h1m2 0h2m4 0h1m8 0h2m4 0h5m1 0h1m1 0h1m1 0h1m1 0h1m8 0h2m7 0h2m2 0h1m1 0h1m5 0h1m6 0h1m3 0h1m4 0h1m1 0h2m1 0h1m4 0h1M507 151h1m7 0h2m5 0h2m2 0h1m1 0h1m5 0h1m9 0h1m2 0h2m2 0h1m2 0h1m4 0h2m4 0h1m2 0h1m4 0h1m11 0h1m2 0h1m1 0h1m1 0h1m8 0h1m12 0h1M493 152h1m17 0h1m7 0h2m1 0h1m3 0h1m4 0h1m6 0h1m2 0h1m1 0h3m1 0h1m4 0h1m5 0h2m1 0h1m1 0h2m3 0h2m1 0h1m2 0h1m3 0h1m4 0h1m3 0h1m1 0h2m1 0h4m1 0h3m7 0h1m9 0h1m1 0h1m3 0h1m1 0h1m6 0h1M507 153h1m1 0h1m2 0h1m10 0h1m1 0h1m1 0h1m4 0h2m1 0h1m2 0h1m5 0h1m6 0h1m2 0h1m10 0h1m1 0h1m1 0h1m1 0h1m5 0h1m1 0h3m1 0h1m1 0h1m2 0h1m2 0h1m3 0h1m9 0h1m6 0h1m7 0h1m27 0h1M514 154h1m5 0h1m1 0h3m4 0h2m3 0h1m12 0h1m1 0h1m1 0h2m2 0h1m10 0h3m7 0h1m6 0h1m4 0h1m5 0h1m5 0h1m10 0h1M504 155h2m1 0h1m2 0h1m10 0h1m5 0h1m3 0h2m3 0h2m15 0h1m1 0h2m4 0h1m2 0h1m22 0h1m22 0h2M471 156h1m1 0h1m32 0h2m9 0h1m2 0h1m3 0h1m10 0h2m5 0h1m1 0h1m8 0h1m4 0h1m11 0h1m9 0h1M517 157h1m4 0h3m4 0h1m9 0h1m1 0h1m2 0h1m25 0h1m2 0h1m6 0h1M471 158h1m15 0h1m25 0h1m16 0h1m2 0h2m15 0h1m11 0h1m2 0h1m9 0h1M527 159h1m25 0h2m7 0h1m3 0h1m4 0h1m3 0h1m5 0h1m15 0h1m33 0h1M550 160h1m61 0h1M510 161h1m28 0h1m5 0h1m14 0h1M473 162h1M569 163h1M598 164h1m35 0h1M475 165h1m91 0h1M494 166h1m90 0h1M580 167h1M465 168h1m19 0h1M476 169h1M619 170h1M573 171h1m74 0h1M532 172h1M491 173h1m71 0h1m8 0h1m24 0h1M509 174h1M488 175h1m49 0h1m4 0h1m99 0h1" stroke="#0000ff" stroke-width="1" fill="none" transform="translate(0,.5)"/>
<path d="M508 31h1M522 32h1m16 0h1m108 0h1M647 37h1M552 44h1m88 0h1M634 45h1M529 49h1M560 50h1M486 51h1M485 52h1m43 0h1m38 0h1M513 53h1M511 54h1m6 0h1m24 0h1m3 0h1m16 0h1M537 55h1m12 0h1m6 0h1m22 0h1m6 0h1M503 56h1m8 0h1m13 0h1m23 0h1m30 0h1M520 57h1m7 0h1m41 0h2M478 58h1m4 0h1m18 0h1m10 0h1m30 0h1m13 0h1m1 0h1m4 0h1m47 0h1M487 59h1m1 0h1m10 0h1m98 0h1m25 0h1M471 60h1m26 0h1m3 0h1m44 0h1m24 0h1m8 0h1M487 61h1m24 0h2m20 0h1m20 0h1m32 0h1M499 62h1m3 0h1m12 0h1m55 0h1m27 0h1M500 63h2m1 0h1m2 0h1m5 0h1m6 0h1m15 0h1m35 0h1m3 0h1m22 0h1M477 64h1m45 0h1m12 0h1m54 0h1m4 0h1m9 0h1m42 0h1M494 65h1m3 0h1m6 0h1m13 0h1m14 0h1m43 0h1m5 0h1m15 0h1M476 66h1m29 0h1m15 0h1m1 0h1m2 0h1m7 0h1m32 0h1m4 0h1m7 0h1m6 0h1M467 67h1m29 0h2m4 0h1m66 0h1m19 0h1M484 68h1m3 0h2m7 0h1m4 0h1m21 0h1m32 0h1m2 0h1m1 0h1m3 0h1m4 0h1m8 0h2M485 69h1m1 0h1m16 0h1m7 0h1m14 0h2m13 0h2m31 0h1m1 0h1m14 0h1m6 0h1m1 0h1m3 0h2m5 0h1M474 70h1m7 0h1m23 0h1m34 0h1m25 0h1m8 0h1m9 0h1m2 0h1m1 0h1m1 0h2m2 0h1m37 0h1M486 71h1m5 0h2m15 0h1m17 0h1m14 0h1m4 0h1m8 0h1m3 0h2m10 0h2m7 0h1m1 0h2m2 0h1m1 0h1m4 0h1m5 0h1M486 72h1m12 0h1m11 0h1m26 0h1m1 0h1m30 0h2m3 0h1m2 0h1m8 0h1m5 0h1m1 0h1m8 0h2m4 0h1M490 73h1m13 0h1m2 0h1m8 0h1m14 0h1m3 0h1m6 0h1m4 0h1m3 0h1m30 0h1m5 0h2m1 0h1m20 0h1M475 74h1m6 0h1m19 0h3m16 0h1m3 0h1m9 0h1m12 0h1m6 0h2m1 0h1m5 0h1m7 0h1m6 0h2m1 0h1m2 0h1m2 0h1m1 0h1m3 0h1m1 0h1m2 0h2m8 0h1M475 75h1m19 0h1m9 0h1m5 0h1m3 0h1m1 0h1m7 0h1m4 0h1m4 0h1m5 0h2m7 0h2m1 0h1m4 0h1m2 0h2m24 0h2m5 0h1m21 0h1M512 76h1m5 0h1m4 0h1m1 0h1m5 0h1m5 0h1m7 0h1m17 0h1m3 0h1m4 0h1m6 0h1m6 0h1m2 0h2m2 0h1m5 0h1m7 0h1M492 77h1m6 0h1m25 0h1m4 0h1m6 0h1m1 0h1m8 0h1m6 0h1m12 0h1m3 0h2m5 0h1m2 0h1m3 0h1m3 0h1m4 0h1m1 0h2m2 0h1m3 0h1m3 0h2m5 0h1m12 0h1m8 0h1M485 78h1m1 0h1m26 0h1m38 0h2m1 0h1m9 0h1m5 0h1m3 0h1m13 0h2m6 0h1m4 0h1m9 0h1m8 0h1m1 0h1M498 79h1m7 0h1m9 0h1m8 0h2m6 0h1m6 0h2m7 0h1m1 0h1m2 0h1m8 0h1m9 0h1m2 0h1m6 0h1m4 0h1m2 0h4M506 80h1m5 0h1m6 0h1m8 0h1m6 0h1m4 0h1m6 0h1m24 0h2m1 0h1m7 0h1m8 0h1m2 0h1m4 0h1m1 0h1m1 0h1m30 0h1M486 81h1m23 0h1m1 0h2m3 0h1m5 0h1m2 0h1m5 0h2m2 0h1m4 0h1m16 0h1m5 0h1m11 0h1m5 0h1m11 0h1m3 0h1m9 0h1m6 0h2m6 0h1m9 0h1m3 0h1M494 82h1m13 0h1m1 0h1m13 0h1m12 0h2m7 0h1m1 0h1m7 0h2m10 0h1m4 0h1m7 0h1m2 0h1m6 0h1m1 0h1m1 0h2m9 0h1m1 0h1m13 0h1M483 83h1m6 0h1m15 0h1m9 0h1m1 0h1m3 0h1m2 0h1m1 0h1m14 0h1m3 0h1m2 0h1m6 0h1m4 0h1m3 0h1m2 0h1m1 0h1m10 0h1m5 0h1m4 0h1m2 0h1m1 0h1m8 0h1m9 0h1m1 0h1m10 0h1m2 0h1M488 84h1m6 0h1m8 0h1m17 0h1m3 0h1m1 0h1m9 0h1m7 0h3m2 0h1m5 0h1m5 0h1m5 0h1m3 0h1m22 0h1m6 0h1m13 0h1m5 0h2m7 0h1m4 0h1M501 85h1m9 0h1m1 0h1m11 0h1m2 0h1m5 0h1m1 0h2m3 0h1m2 0h2m6 0h4m1 0h1m4 0h1m14 0h1m3 0h3m1 0h2m21 0h1m5 0h1m9 0h1m11 0h1M487 86h1m20 0h1m4 0h3m1 0h1m1 0h1m11 0h1m3 0h1m1 0h3m4 0h1m2 0h1m4 0h1m4 0h1m1 0h2m3 0h1m1 0h2m4 0h1m1 0h1m2 0h1m10 0h1m9 0h1m1 0h1m5 0h1m8 0h1m21 0h1M490 87h1m19 0h1m1 0h1m6 0h2m16 0h1m6 0h2m1 0h1m3 0h1m7 0h1m9 0h1m9 0h2m4 0h2m1 0h1m3 0h2m3 0h3m13 0h1m5 0h1m4 0h1m2 0h2m11 0h1M483 88h1m16 0h1m24 0h1m4 0h1m1 0h1m2 0h1m2 0h2m1 0h1m2 0h4m4 0h1m4 0h1m3 0h1m1 0h1m2 0h1m2 0h1m10 0h1m3 0h1m1 0h1m3 0h1m5 0h1m3 0h1m1 0h1m4 0h1m10 0h1m3 0h1m1 0h1M498 89h1m2 0h1m1 0h2m3 0h1m5 0h2m2 0h1m5 0h1m2 0h1m1 0h1m1 0h1m2 0h1m5 0h1m2 0h1m1 0h1m1 0h1m3 0h1m4 0h1m2 0h1m1 0h3m3 0h3m1 0h3m1 0h2m17 0h2m1 0h2m1 0h1m2 0h1m14 0h2m18 0h1m5 0h1M512 90h1m8 0h1m2 0h1m3 0h1m3 0h1m6 0h1m1 0h1m6 0h2m2 0h2m20 0h1m3 0h1m2 0h2m2 0h1m6 0h1m9 0h1m11 0h1m2 0h1m14 0h1m5 0h1M498 91h1m16 0h1m3 0h1m2 0h3m5 0h2m2 0h2m8 0h1m2 0h1m2 0h1m1 0h1m4 0h1m6 0h1m1 0h1m5 0h1m8 0h1m1 0h1m5 0h2m9 0h1m9 0h1m1 0h3m25 0h1m3 0h1M498 92h1m7 0h2m2 0h1m3 0h1m1 0h1m7 0h4m1 0h1m1 0h1m1 0h1m6 0h1m6 0h1m1 0h1m9 0h1m1 0h1m4 0h1m6 0h1m11 0h2m7 0h1m1 0h2m5 0h1m2 0h1m14 0h1m5 0h1M502 93h1m3 0h1m5 0h1m12 0h1m6 0h1m4 0h1m2 0h5m1 0h1m2 0h1m1 0h1m5 0h3m3 0h4m6 0h2m3 0h1m2 0h1m3 0h1m3 0h1m5 0h1m4 0h2m2 0h1m32 0h2M501 94h1m1 0h2m6 0h1m9 0h1m2 0h1m3 0h1m5 0h5m1 0h2m1 0h1m2 0h3m2 0h1m1 0h2m2 0h1m4 0h2m1 0h1m1 0h1m2 0h2m6 0h1m1 0h4m3 0h1m1 0h1m1 0h2m4 0h1m2 0h1m1 0h1m6 0h1m1 0h1m8 0h1m2 0h1m8 0h1m12 0h1M521 95h1m2 0h1m5 0h1m2 0h1m1 0h1m3 0h1m1 0h1m3 0h1m3 0h2m1 0h1m1 0h1m1 0h3m3 0h1m8 0h1m1 0h1m4 0h1m15 0h1m23 0h1m2 0h1m13 0h1M502 96h1m9 0h1m1 0h1m1 0h1m5 0h1m1 0h1m10 0h1m5 0h1m2 0h1m4 0h1m2 0h1m4 0h1m1 0h1m2 0h1m3 0h2m1 0h1m4 0h1m4 0h2m1 0h1m4 0h4m3 0h1m2 0h2m1 0h2m4 0h3m13 0h1m17 0h1M499 97h1m23 0h2m5 0h1m1 0h2m2 0h1m2 0h1m1 0h1m2 0h2m7 0h1m4 0h1m7 0h1m1 0h1m1 0h1m1 0h1m6 0h2m5 0h1m11 0h3m2 0h1m1 0h1m4 0h1m3 0h1m19 0h1m3 0h1m5 0h1M509 98h1m1 0h1m1 0h1m9 0h3m1 0h2m1 0h1m4 0h4m1 0h3m2 0h2m6 0h5m8 0h1m1 0h3m6 0h1m5 0h1m3 0h1m2 0h1m7 0h1m13 0h1m7 0h2m7 0h2m4 0h1m1 0h1M504 99h1m6 0h1m6 0h1m9 0h1m5 0h1m1 0h1m2 0h2m6 0h3m6 0h1m4 0h2m1 0h3m4 0h3m1 0h1m2 0h6m4 0h2m1 0h1m9 0h2m1 0h1m2 0h4m4 0h1m13 0h1m5 0h1m2 0h1M514 100h1m2 0h1m3 0h1m4 0h1m1 0h2m4 0h2m3 0h1m7 0h1m6 0h2m2 0h1m3 0h1m1 0h2m1 0h1m1 0h1m5 0h2m7 0h1m2 0h1m2 0h2m3 0h1m2 0h1m2 0h1m11 0h1m5 0h1m1 0h1m2 0h1m1 0h1m17 0h1M514 101h1m6 0h2m1 0h1m2 0h1m2 0h1m2 0h1m1 0h2m1 0h2m2 0h2m3 0h2m2 0h3m2 0h2m2 0h1m2 0h4m2 0h2m4 0h1m1 0h1m3 0h1m4 0h1m1 0h3m3 0h2m4 0h2m3 0h2m5 0h1m9 0h1m2 0h1m8 0h1M511 102h1m2 0h1m3 0h1m4 0h2m1 0h2m6 0h1m1 0h1m3 0h1m1 0h1m2 0h2m1 0h1m1 0h3m2 0h1m1 0h7m1 0h1m2 0h1m7 0h1m3 0h2m1 0h2m3 0h1m1 0h1m5 0h1m1 0h1m4 0h2m3 0h1m2 0h1m4 0h2m2 0h1m16 0h3M511 103h1m3 0h1m1 0h1m4 0h2m2 0h1m2 0h1m9 0h1m2 0h3m1 0h2m2 0h2m6 0h2m2 0h11m3 0h2m1 0h2m2 0h2m4 0h1m1 0h1m1 0h2m4 0h1m1 0h1m1 0h1m5 0h1m2 0h2m1 0h1m3 0h1m3 0h2m10 0h1m1 0h1m5 0h1M518 104h2m6 0h1m2 0h1m2 0h2m1 0h4m3 0h1m1 0h2m4 0h3m1 0h1m1 0h3m1 0h3m1 0h4m1 0h3m1 0h6m2 0h1m1 0h1m5 0h3m8 0h1m1 0h1m3 0h1m5 0h1m3 0h3m2 0h2M516 105h1m3 0h1m10 0h1m2 0h2m1 0h2m2 0h1m2 0h3m1 0h4m1 0h3m2 0h5m1 0h2m2 0h2m1 0h1m4 0h1m2 0h1m1 0h1m3 0h2m3 0h2m2 0h3m2 0h1m1 0h1m6 0h1m25 0h1m1 0h2m2 0h1m2 0h1m1 0h2M512 106h1m11 0h2m6 0h1m1 0h1m4 0h1m3 0h2m3 0h4m1 0h1m2 0h1m2 0h1m1 0h5m1 0h5m1 0h3m1 0h4m1 0h1m1 0h3m1 0h1m1 0h2m1 0h1m2 0h1m2 0h2m1 0h4m1 0h1m2 0h2m4 0h2m3 0h1m7 0h1m8 0h1m1 0h1M513 107h1m6 0h1m1 0h1m1 0h4m4 0h2m1 0h2m2 0h1m1 0h1m3 0h2m3 0h2m1 0h2m2 0h16m1 0h1m1 0h2m1 0h2m2 0h7m4 0h1m1 0h1m2 0h1m2 0h3m3 0h1m2 0h1m3 0h1m6 0h1m9 0h1m3 0h1M500 108h1m24 0h2m2 0h3m1 0h1m5 0h3m4 0h24m1 0h7m2 0h4m1 0h4m1 0h9m1 0h1m1 0h1m1 0h5m2 0h4m1 0h2m2 0h2m24 0h1M513 109h1m4 0h2m3 0h3m2 0h2m1 0h1m2 0h2m1 0h1m1 0h2m2 0h4m2 0h3m1 0h4m1 0h2m1 0h12m1 0h17m1 0h4m1 0h5m1 0h1m1 0h1m2 0h1m1 0h3m10 0h1m7 0h1m8 0h1M510 110h1m3 0h1m8 0h1m4 0h4m2 0h2m1 0h2m1 0h5m1 0h30m1 0h19m1 0h5m1 0h2m3 0h2m2 0h1m5 0h2m1 0h1m3 0h1m11 0h1m5 0h1m8 0h1M515 111h1m3 0h2m8 0h1m1 0h2m1 0h1m4 0h2m1 0h10m1 0h30m1 0h19m1 0h3m2 0h1m1 0h3m2 0h2m11 0h4M518 112h1m1 0h2m4 0h2m1 0h4m1 0h1m2 0h62m1 0h5m1 0h4m1 0h3m1 0h2m1 0h2m3 0h1m1 0h2m21 0h1M512 113h1m5 0h1m1 0h1m2 0h1m2 0h1m2 0h1m1 0h2m1 0h1m1 0h9m1 0h39m1 0h11m1 0h6m1 0h2m1 0h1m1 0h1m1 0h2m1 0h7m8 0h1M513 114h1m3 0h1m1 0h1m1 0h1m1 0h1m1 0h1m1 0h2m1 0h6m1 0h69m2 0h5m1 0h6m2 0h1m3 0h1m1 0h2m1 0h1m6 0h1M491 115h1m25 0h1m1 0h3m1 0h1m1 0h1m3 0h83m1 0h1m1 0h2m1 0h2m1 0h2m3 0h1m4 0h1M511 116h1m5 0h2m1 0h1m4 0h3m2 0h6m1 0h4m1 0h5m1 0h67m2 0h2m1 0h2m1 0h1m1 0h2M508 117h1m1 0h1m7 0h2m1 0h1m2 0h1m2 0h5m1 0h4m2 0h1m1 0h65m1 0h3m1 0h3m1 0h3m1 0h4m1 0h2m1 0h1m2 0h2M480 118h1m35 0h3m4 0h1m3 0h3m1 0h10m1 0h2m1 0h6m1 0h36m1 0h19m1 0h3m1 0h3m1 0h1m1 0h8m2 0h1m2 0h1m1 0h1m13 0h1M489 119h1m23 0h1m4 0h1m2 0h3m1 0h1m3 0h2m2 0h3m2 0h2m2 0h15m1 0h7m1 0h13m1 0h14m1 0h28m1 0h2m2 0h1m17 0h1m6 0h1M500 120h1m1 0h1m4 0h1m15 0h1m1 0h2m1 0h2m1 0h1m2 0h3m1 0h1m2 0h1m2 0h1m1 0h1m1 0h1m1 0h1m1 0h2m3 0h12m1 0h11m1 0h1m1 0h1m1 0h6m1 0h14m1 0h4m1 0h1m1 0h2m1 0h6m3 0h2m6 0h1m2 0h1m8 0h1M498 121h1m3 0h1m9 0h1m3 0h2m6 0h2m3 0h2m5 0h1m6 0h3m2 0h2m1 0h1m1 0h3m1 0h1m1 0h1m1 0h3m6 0h8m1 0h3m1 0h2m1 0h4m1 0h5m1 0h2m1 0h7m1 0h4m1 0h5m1 0h3m2 0h3m1 0h1m15 0h1M516 122h1m5 0h1m6 0h1m5 0h1m1 0h1m3 0h1m2 0h1m3 0h1m2 0h1m5 0h2m2 0h2m2 0h6m1 0h2m1 0h1m2 0h1m2 0h1m2 0h1m1 0h8m1 0h4m1 0h2m1 0h6m1 0h1m1 0h3m2 0h1m1 0h5m5 0h1m11 0h1m3 0h1M538 123h1m4 0h1m7 0h1m9 0h1m1 0h2m2 0h1m1 0h2m5 0h2m5 0h1m4 0h1m1 0h1m4 0h1m1 0h2m2 0h3m1 0h6m3 0h1m1 0h1m2 0h1m1 0h4m2 0h1m1 0h1m10 0h1M508 124h1m6 0h1m40 0h1m9 0h3m4 0h2m2 0h2m9 0h1m3 0h1m2 0h1m2 0h1m3 0h1m3 0h2m1 0h1m9 0h2m2 0h1m9 0h1m13 0h1M518 125h1m3 0h1m34 0h1m25 0h1m12 0h2m1 0h1m1 0h1m15 0h1m1 0h1m2 0h2m10 0h1M502 126h1m89 0h1m6 0h1m14 0h1m2 0h1m3 0h2M571 127h1m13 0h1m30 0h3m3 0h1M591 128h1m7 0h1m9 0h1m11 0h1m10 0h1M516 129h1m3 0h1m45 0h1m39 0h1m29 0h1M555 130h1m39 0h1m1 0h1m29 0h1m6 0h1M616 131h1M626 136h1M605 137h1M616 139h1" stroke="#ff0000" stroke-width="1" fill="none" transform="translate(0,.5)"/>
<text x="185.5" y="7.5" font-size="9.5" font-weight="bold">b</text>
<text x="216.5" y="16.8" font-size="10.9" font-weight="bold">NPC in SCI - 14dpi</text>
<line x1="207.0" y1="20.4" x2="207.0" y2="200.0" stroke="#000" stroke-width="1.3"/>
<line x1="204.0" y1="21.2" x2="207.0" y2="21.2" stroke="#000" stroke-width="1.1"/>
<text x="203.0" y="24.2" font-size="8.4" font-weight="bold" text-anchor="end">12</text>
<line x1="204.0" y1="39.1" x2="207.0" y2="39.1" stroke="#000" stroke-width="1.1"/>
<text x="203.0" y="42.1" font-size="8.4" font-weight="bold" text-anchor="end">10</text>
<line x1="204.0" y1="57.0" x2="207.0" y2="57.0" stroke="#000" stroke-width="1.1"/>
<text x="203.0" y="60.0" font-size="8.4" font-weight="bold" text-anchor="end">8</text>
<line x1="204.0" y1="74.8" x2="207.0" y2="74.8" stroke="#000" stroke-width="1.1"/>
<text x="203.0" y="77.8" font-size="8.4" font-weight="bold" text-anchor="end">6</text>
<line x1="204.0" y1="92.7" x2="207.0" y2="92.7" stroke="#000" stroke-width="1.1"/>
<text x="203.0" y="95.7" font-size="8.4" font-weight="bold" text-anchor="end">4</text>
<line x1="204.0" y1="110.5" x2="207.0" y2="110.5" stroke="#000" stroke-width="1.1"/>
<text x="203.0" y="113.5" font-size="8.4" font-weight="bold" text-anchor="end">2</text>
<line x1="204.0" y1="128.4" x2="207.0" y2="128.4" stroke="#000" stroke-width="1.1"/>
<text x="203.0" y="131.4" font-size="8.4" font-weight="bold" text-anchor="end">0</text>
<line x1="204.0" y1="146.3" x2="207.0" y2="146.3" stroke="#000" stroke-width="1.1"/>
<text x="203.0" y="149.3" font-size="8.4" font-weight="bold" text-anchor="end">-2</text>
<line x1="204.0" y1="164.1" x2="207.0" y2="164.1" stroke="#000" stroke-width="1.1"/>
<text x="203.0" y="167.1" font-size="8.4" font-weight="bold" text-anchor="end">-4</text>
<line x1="204.0" y1="182.0" x2="207.0" y2="182.0" stroke="#000" stroke-width="1.1"/>
<text x="203.0" y="185.0" font-size="8.4" font-weight="bold" text-anchor="end">-6</text>
<line x1="204.0" y1="199.8" x2="207.0" y2="199.8" stroke="#000" stroke-width="1.1"/>
<text x="203.0" y="202.8" font-size="8.4" font-weight="bold" text-anchor="end">-8</text>
<line x1="207.0" y1="199.6" x2="416.4" y2="199.6" stroke="#000" stroke-width="1.3"/>
<line x1="207.0" y1="199.6" x2="207.0" y2="202.6" stroke="#000" stroke-width="0.8"/>
<line x1="217.5" y1="199.6" x2="217.5" y2="201.2" stroke="#000" stroke-width="0.8"/>
<line x1="223.7" y1="199.6" x2="223.7" y2="201.2" stroke="#000" stroke-width="0.8"/>
<line x1="228.0" y1="199.6" x2="228.0" y2="201.2" stroke="#000" stroke-width="0.8"/>
<line x1="231.4" y1="199.6" x2="231.4" y2="201.2" stroke="#000" stroke-width="0.8"/>
<line x1="234.2" y1="199.6" x2="234.2" y2="201.2" stroke="#000" stroke-width="0.8"/>
<line x1="236.5" y1="199.6" x2="236.5" y2="201.2" stroke="#000" stroke-width="0.8"/>
<line x1="238.5" y1="199.6" x2="238.5" y2="201.2" stroke="#000" stroke-width="0.8"/>
<line x1="240.3" y1="199.6" x2="240.3" y2="201.2" stroke="#000" stroke-width="0.8"/>
<line x1="241.9" y1="199.6" x2="241.9" y2="202.6" stroke="#000" stroke-width="0.8"/>
<line x1="252.4" y1="199.6" x2="252.4" y2="201.2" stroke="#000" stroke-width="0.8"/>
<line x1="258.6" y1="199.6" x2="258.6" y2="201.2" stroke="#000" stroke-width="0.8"/>
<line x1="262.9" y1="199.6" x2="262.9" y2="201.2" stroke="#000" stroke-width="0.8"/>
<line x1="266.3" y1="199.6" x2="266.3" y2="201.2" stroke="#000" stroke-width="0.8"/>
<line x1="269.1" y1="199.6" x2="269.1" y2="201.2" stroke="#000" stroke-width="0.8"/>
<line x1="271.4" y1="199.6" x2="271.4" y2="201.2" stroke="#000" stroke-width="0.8"/>
<line x1="273.4" y1="199.6" x2="273.4" y2="201.2" stroke="#000" stroke-width="0.8"/>
<line x1="275.2" y1="199.6" x2="275.2" y2="201.2" stroke="#000" stroke-width="0.8"/>
<line x1="276.8" y1="199.6" x2="276.8" y2="202.6" stroke="#000" stroke-width="0.8"/>
<line x1="287.3" y1="199.6" x2="287.3" y2="201.2" stroke="#000" stroke-width="0.8"/>
<line x1="293.5" y1="199.6" x2="293.5" y2="201.2" stroke="#000" stroke-width="0.8"/>
<line x1="297.8" y1="199.6" x2="297.8" y2="201.2" stroke="#000" stroke-width="0.8"/>
<line x1="301.2" y1="199.6" x2="301.2" y2="201.2" stroke="#000" stroke-width="0.8"/>
<line x1="304.0" y1="199.6" x2="304.0" y2="201.2" stroke="#000" stroke-width="0.8"/>
<line x1="306.3" y1="199.6" x2="306.3" y2="201.2" stroke="#000" stroke-width="0.8"/>
<line x1="308.3" y1="199.6" x2="308.3" y2="201.2" stroke="#000" stroke-width="0.8"/>
<line x1="310.1" y1="199.6" x2="310.1" y2="201.2" stroke="#000" stroke-width="0.8"/>
<line x1="311.7" y1="199.6" x2="311.7" y2="202.6" stroke="#000" stroke-width="0.8"/>
<line x1="322.2" y1="199.6" x2="322.2" y2="201.2" stroke="#000" stroke-width="0.8"/>
<line x1="328.4" y1="199.6" x2="328.4" y2="201.2" stroke="#000" stroke-width="0.8"/>
<line x1="332.7" y1="199.6" x2="332.7" y2="201.2" stroke="#000" stroke-width="0.8"/>
<line x1="336.1" y1="199.6" x2="336.1" y2="201.2" stroke="#000" stroke-width="0.8"/>
<line x1="338.9" y1="199.6" x2="338.9" y2="201.2" stroke="#000" stroke-width="0.8"/>
<line x1="341.2" y1="199.6" x2="341.2" y2="201.2" stroke="#000" stroke-width="0.8"/>
<line x1="343.2" y1="199.6" x2="343.2" y2="201.2" stroke="#000" stroke-width="0.8"/>
<line x1="345.0" y1="199.6" x2="345.0" y2="201.2" stroke="#000" stroke-width="0.8"/>
<line x1="346.6" y1="199.6" x2="346.6" y2="202.6" stroke="#000" stroke-width="0.8"/>
<line x1="357.1" y1="199.6" x2="357.1" y2="201.2" stroke="#000" stroke-width="0.8"/>
<line x1="363.3" y1="199.6" x2="363.3" y2="201.2" stroke="#000" stroke-width="0.8"/>
<line x1="367.6" y1="199.6" x2="367.6" y2="201.2" stroke="#000" stroke-width="0.8"/>
<line x1="371.0" y1="199.6" x2="371.0" y2="201.2" stroke="#000" stroke-width="0.8"/>
<line x1="373.8" y1="199.6" x2="373.8" y2="201.2" stroke="#000" stroke-width="0.8"/>
<line x1="376.1" y1="199.6" x2="376.1" y2="201.2" stroke="#000" stroke-width="0.8"/>
<line x1="378.1" y1="199.6" x2="378.1" y2="201.2" stroke="#000" stroke-width="0.8"/>
<line x1="379.9" y1="199.6" x2="379.9" y2="201.2" stroke="#000" stroke-width="0.8"/>
<line x1="381.5" y1="199.6" x2="381.5" y2="202.6" stroke="#000" stroke-width="0.8"/>
<line x1="392.0" y1="199.6" x2="392.0" y2="201.2" stroke="#000" stroke-width="0.8"/>
<line x1="398.2" y1="199.6" x2="398.2" y2="201.2" stroke="#000" stroke-width="0.8"/>
<line x1="402.5" y1="199.6" x2="402.5" y2="201.2" stroke="#000" stroke-width="0.8"/>
<line x1="405.9" y1="199.6" x2="405.9" y2="201.2" stroke="#000" stroke-width="0.8"/>
<line x1="408.7" y1="199.6" x2="408.7" y2="201.2" stroke="#000" stroke-width="0.8"/>
<line x1="411.0" y1="199.6" x2="411.0" y2="201.2" stroke="#000" stroke-width="0.8"/>
<line x1="413.0" y1="199.6" x2="413.0" y2="201.2" stroke="#000" stroke-width="0.8"/>
<line x1="414.8" y1="199.6" x2="414.8" y2="201.2" stroke="#000" stroke-width="0.8"/>
<line x1="416.4" y1="199.6" x2="416.4" y2="202.6" stroke="#000" stroke-width="0.8"/>
<text x="207.0" y="212.0" font-size="8.7" font-weight="bold" text-anchor="middle">0.01</text>
<text x="241.9" y="212.0" font-size="8.7" font-weight="bold" text-anchor="middle">0.1</text>
<text x="276.8" y="212.0" font-size="8.7" font-weight="bold" text-anchor="middle">1</text>
<text x="311.7" y="212.0" font-size="8.7" font-weight="bold" text-anchor="middle">10</text>
<text x="346.6" y="212.0" font-size="8.7" font-weight="bold" text-anchor="middle">100</text>
<text x="381.5" y="212.0" font-size="8.7" font-weight="bold" text-anchor="middle">1000</text>
<text x="416.4" y="212.0" font-size="8.7" font-weight="bold" text-anchor="middle">10000</text>
<text x="415.4" y="224.3" font-size="11.3" font-weight="bold" text-anchor="end">FPKM</text>
<text transform="translate(195.9,107.5) rotate(-90)" font-size="12.2" font-weight="bold" text-anchor="middle">Log<tspan font-size="8" dy="2.3">2</tspan><tspan dy="-2.3">FC</tspan></text>
<line x1="325.0" y1="128.4" x2="418.0" y2="128.4" stroke="#999" stroke-width="0.5" stroke-dasharray="1.5,1.5"/>
<text x="452.5" y="7.5" font-size="9.5" font-weight="bold">c</text>
<text x="469.3" y="21.7" font-size="10.9" font-weight="bold">Host astrocytes in SCI 14dpi</text>
<line x1="461.3" y1="20.4" x2="461.3" y2="200.0" stroke="#000" stroke-width="1.3"/>
<line x1="458.3" y1="21.2" x2="461.3" y2="21.2" stroke="#000" stroke-width="1.1"/>
<text x="457.3" y="24.2" font-size="8.4" font-weight="bold" text-anchor="end">12</text>
<line x1="458.3" y1="39.1" x2="461.3" y2="39.1" stroke="#000" stroke-width="1.1"/>
<text x="457.3" y="42.1" font-size="8.4" font-weight="bold" text-anchor="end">10</text>
<line x1="458.3" y1="57.0" x2="461.3" y2="57.0" stroke="#000" stroke-width="1.1"/>
<text x="457.3" y="60.0" font-size="8.4" font-weight="bold" text-anchor="end">8</text>
<line x1="458.3" y1="74.8" x2="461.3" y2="74.8" stroke="#000" stroke-width="1.1"/>
<text x="457.3" y="77.8" font-size="8.4" font-weight="bold" text-anchor="end">6</text>
<line x1="458.3" y1="92.7" x2="461.3" y2="92.7" stroke="#000" stroke-width="1.1"/>
<text x="457.3" y="95.7" font-size="8.4" font-weight="bold" text-anchor="end">4</text>
<line x1="458.3" y1="110.5" x2="461.3" y2="110.5" stroke="#000" stroke-width="1.1"/>
<text x="457.3" y="113.5" font-size="8.4" font-weight="bold" text-anchor="end">2</text>
<line x1="458.3" y1="128.4" x2="461.3" y2="128.4" stroke="#000" stroke-width="1.1"/>
<text x="457.3" y="131.4" font-size="8.4" font-weight="bold" text-anchor="end">0</text>
<line x1="458.3" y1="146.3" x2="461.3" y2="146.3" stroke="#000" stroke-width="1.1"/>
<text x="457.3" y="149.3" font-size="8.4" font-weight="bold" text-anchor="end">-2</text>
<line x1="458.3" y1="164.1" x2="461.3" y2="164.1" stroke="#000" stroke-width="1.1"/>
<text x="457.3" y="167.1" font-size="8.4" font-weight="bold" text-anchor="end">-4</text>
<line x1="458.3" y1="182.0" x2="461.3" y2="182.0" stroke="#000" stroke-width="1.1"/>
<text x="457.3" y="185.0" font-size="8.4" font-weight="bold" text-anchor="end">-6</text>
<line x1="458.3" y1="199.8" x2="461.3" y2="199.8" stroke="#000" stroke-width="1.1"/>
<text x="457.3" y="202.8" font-size="8.4" font-weight="bold" text-anchor="end">-8</text>
<line x1="461.3" y1="199.6" x2="670.7" y2="199.6" stroke="#000" stroke-width="1.3"/>
<line x1="461.3" y1="199.6" x2="461.3" y2="202.6" stroke="#000" stroke-width="0.8"/>
<line x1="471.8" y1="199.6" x2="471.8" y2="201.2" stroke="#000" stroke-width="0.8"/>
<line x1="478.0" y1="199.6" x2="478.0" y2="201.2" stroke="#000" stroke-width="0.8"/>
<line x1="482.3" y1="199.6" x2="482.3" y2="201.2" stroke="#000" stroke-width="0.8"/>
<line x1="485.7" y1="199.6" x2="485.7" y2="201.2" stroke="#000" stroke-width="0.8"/>
<line x1="488.5" y1="199.6" x2="488.5" y2="201.2" stroke="#000" stroke-width="0.8"/>
<line x1="490.8" y1="199.6" x2="490.8" y2="201.2" stroke="#000" stroke-width="0.8"/>
<line x1="492.8" y1="199.6" x2="492.8" y2="201.2" stroke="#000" stroke-width="0.8"/>
<line x1="494.6" y1="199.6" x2="494.6" y2="201.2" stroke="#000" stroke-width="0.8"/>
<line x1="496.2" y1="199.6" x2="496.2" y2="202.6" stroke="#000" stroke-width="0.8"/>
<line x1="506.7" y1="199.6" x2="506.7" y2="201.2" stroke="#000" stroke-width="0.8"/>
<line x1="512.9" y1="199.6" x2="512.9" y2="201.2" stroke="#000" stroke-width="0.8"/>
<line x1="517.2" y1="199.6" x2="517.2" y2="201.2" stroke="#000" stroke-width="0.8"/>
<line x1="520.6" y1="199.6" x2="520.6" y2="201.2" stroke="#000" stroke-width="0.8"/>
<line x1="523.4" y1="199.6" x2="523.4" y2="201.2" stroke="#000" stroke-width="0.8"/>
<line x1="525.7" y1="199.6" x2="525.7" y2="201.2" stroke="#000" stroke-width="0.8"/>
<line x1="527.7" y1="199.6" x2="527.7" y2="201.2" stroke="#000" stroke-width="0.8"/>
<line x1="529.5" y1="199.6" x2="529.5" y2="201.2" stroke="#000" stroke-width="0.8"/>
<line x1="531.1" y1="199.6" x2="531.1" y2="202.6" stroke="#000" stroke-width="0.8"/>
<line x1="541.6" y1="199.6" x2="541.6" y2="201.2" stroke="#000" stroke-width="0.8"/>
<line x1="547.8" y1="199.6" x2="547.8" y2="201.2" stroke="#000" stroke-width="0.8"/>
<line x1="552.1" y1="199.6" x2="552.1" y2="201.2" stroke="#000" stroke-width="0.8"/>
<line x1="555.5" y1="199.6" x2="555.5" y2="201.2" stroke="#000" stroke-width="0.8"/>
<line x1="558.3" y1="199.6" x2="558.3" y2="201.2" stroke="#000" stroke-width="0.8"/>
<line x1="560.6" y1="199.6" x2="560.6" y2="201.2" stroke="#000" stroke-width="0.8"/>
<line x1="562.6" y1="199.6" x2="562.6" y2="201.2" stroke="#000" stroke-width="0.8"/>
<line x1="564.4" y1="199.6" x2="564.4" y2="201.2" stroke="#000" stroke-width="0.8"/>
<line x1="566.0" y1="199.6" x2="566.0" y2="202.6" stroke="#000" stroke-width="0.8"/>
<line x1="576.5" y1="199.6" x2="576.5" y2="201.2" stroke="#000" stroke-width="0.8"/>
<line x1="582.7" y1="199.6" x2="582.7" y2="201.2" stroke="#000" stroke-width="0.8"/>
<line x1="587.0" y1="199.6" x2="587.0" y2="201.2" stroke="#000" stroke-width="0.8"/>
<line x1="590.4" y1="199.6" x2="590.4" y2="201.2" stroke="#000" stroke-width="0.8"/>
<line x1="593.2" y1="199.6" x2="593.2" y2="201.2" stroke="#000" stroke-width="0.8"/>
<line x1="595.5" y1="199.6" x2="595.5" y2="201.2" stroke="#000" stroke-width="0.8"/>
<line x1="597.5" y1="199.6" x2="597.5" y2="201.2" stroke="#000" stroke-width="0.8"/>
<line x1="599.3" y1="199.6" x2="599.3" y2="201.2" stroke="#000" stroke-width="0.8"/>
<line x1="600.9" y1="199.6" x2="600.9" y2="202.6" stroke="#000" stroke-width="0.8"/>
<line x1="611.4" y1="199.6" x2="611.4" y2="201.2" stroke="#000" stroke-width="0.8"/>
<line x1="617.6" y1="199.6" x2="617.6" y2="201.2" stroke="#000" stroke-width="0.8"/>
<line x1="621.9" y1="199.6" x2="621.9" y2="201.2" stroke="#000" stroke-width="0.8"/>
<line x1="625.3" y1="199.6" x2="625.3" y2="201.2" stroke="#000" stroke-width="0.8"/>
<line x1="628.1" y1="199.6" x2="628.1" y2="201.2" stroke="#000" stroke-width="0.8"/>
<line x1="630.4" y1="199.6" x2="630.4" y2="201.2" stroke="#000" stroke-width="0.8"/>
<line x1="632.4" y1="199.6" x2="632.4" y2="201.2" stroke="#000" stroke-width="0.8"/>
<line x1="634.2" y1="199.6" x2="634.2" y2="201.2" stroke="#000" stroke-width="0.8"/>
<line x1="635.8" y1="199.6" x2="635.8" y2="202.6" stroke="#000" stroke-width="0.8"/>
<line x1="646.3" y1="199.6" x2="646.3" y2="201.2" stroke="#000" stroke-width="0.8"/>
<line x1="652.5" y1="199.6" x2="652.5" y2="201.2" stroke="#000" stroke-width="0.8"/>
<line x1="656.8" y1="199.6" x2="656.8" y2="201.2" stroke="#000" stroke-width="0.8"/>
<line x1="660.2" y1="199.6" x2="660.2" y2="201.2" stroke="#000" stroke-width="0.8"/>
<line x1="663.0" y1="199.6" x2="663.0" y2="201.2" stroke="#000" stroke-width="0.8"/>
<line x1="665.3" y1="199.6" x2="665.3" y2="201.2" stroke="#000" stroke-width="0.8"/>
<line x1="667.3" y1="199.6" x2="667.3" y2="201.2" stroke="#000" stroke-width="0.8"/>
<line x1="669.1" y1="199.6" x2="669.1" y2="201.2" stroke="#000" stroke-width="0.8"/>
<line x1="670.7" y1="199.6" x2="670.7" y2="202.6" stroke="#000" stroke-width="0.8"/>
<text x="461.3" y="212.0" font-size="8.7" font-weight="bold" text-anchor="middle">0.01</text>
<text x="496.2" y="212.0" font-size="8.7" font-weight="bold" text-anchor="middle">0.1</text>
<text x="531.1" y="212.0" font-size="8.7" font-weight="bold" text-anchor="middle">1</text>
<text x="566.0" y="212.0" font-size="8.7" font-weight="bold" text-anchor="middle">10</text>
<text x="600.9" y="212.0" font-size="8.7" font-weight="bold" text-anchor="middle">100</text>
<text x="635.8" y="212.0" font-size="8.7" font-weight="bold" text-anchor="middle">1000</text>
<text x="670.7" y="212.0" font-size="8.7" font-weight="bold" text-anchor="middle">10000</text>
<text x="669.7" y="224.3" font-size="11.3" font-weight="bold" text-anchor="end">FPKM</text>
<text transform="translate(449.0,105) rotate(-90)" font-size="12.2" font-weight="bold" text-anchor="middle">Log<tspan font-size="8" dy="2.3">2</tspan><tspan dy="-2.3">FC</tspan></text>
<line x1="600.0" y1="128.4" x2="672.0" y2="128.4" stroke="#999" stroke-width="0.5" stroke-dasharray="1.5,1.5"/>
<circle cx="388.7" cy="144.0" r="3.3" fill="#d21ad2"/>
<text x="397.7" y="142.0" font-size="8.2" fill="#d21ad2">Healthy</text>
<text x="397.7" y="150.3" font-size="8.2" fill="#d21ad2">Astrocyte</text>
<circle cx="388.7" cy="162.0" r="3.3" fill="#f4711c"/>
<text x="396.3" y="164.5" font-size="8.2" fill="#f4711c">Reactivity</text>
<circle cx="388.7" cy="176.3" r="3.3" fill="#9a1010"/>
<text x="396.3" y="178.7" font-size="8.2" fill="#9a1010">EMT</text>
<circle cx="388.7" cy="189.2" r="3.3" fill="#22d0d0"/>
<text x="396.3" y="192.0" font-size="8.2" fill="#22d0d0">NPC</text>
<circle cx="630.3" cy="159.8" r="3.3" fill="#d21ad2"/>
<text x="639.4" y="158.0" font-size="8.2" fill="#d21ad2">Healthy</text>
<text x="639.4" y="166.5" font-size="8.2" fill="#d21ad2">Astrocyte</text>
<circle cx="630.3" cy="177.9" r="3.3" fill="#f4711c"/>
<text x="638.0" y="180.3" font-size="8.2" fill="#f4711c">Reactivity</text>
<circle cx="630.3" cy="192.1" r="3.3" fill="#9a1010"/>
<text x="638.0" y="194.4" font-size="8.2" fill="#9a1010">EMT</text>
<circle cx="369.3" cy="25.7" r="2.0" fill="#9a1010"/>
<text x="372.1" y="27.2" font-size="4.6" fill="#9a1010">Pla3</text>
<circle cx="410.6" cy="23.0" r="2.0" fill="#f4711c"/>
<circle cx="400.3" cy="52.4" r="2.0" fill="#d21ad2"/>
<circle cx="410.8" cy="51.4" r="2.0" fill="#d21ad2"/>
<text x="413.6" y="52.9" font-size="4.6" fill="#d21ad2">Mt2</text>
<circle cx="395.4" cy="65.8" r="2.0" fill="#d21ad2"/>
<text x="398.2" y="67.3" font-size="4.6" fill="#d21ad2">Clu</text>
<circle cx="418.2" cy="65.5" r="2.0" fill="#d21ad2"/>
<text x="421.0" y="67.0" font-size="4.6" fill="#d21ad2">Mt1</text>
<circle cx="381.7" cy="69.2" r="2.0" fill="#d21ad2"/>
<text x="384.5" y="70.7" font-size="4.6" fill="#d21ad2">Agt</text>
<circle cx="376.7" cy="74.3" r="2.0" fill="#d21ad2"/>
<text x="379.5" y="75.8" font-size="4.6" fill="#d21ad2">Ndrg2</text>
<circle cx="397.2" cy="79.6" r="2.0" fill="#d21ad2"/>
<text x="400.0" y="81.1" font-size="4.6" fill="#d21ad2">Cpe</text>
<circle cx="407.7" cy="83.2" r="2.0" fill="#d21ad2"/>
<text x="410.5" y="84.7" font-size="4.6" fill="#d21ad2">Cst3</text>
<circle cx="396.3" cy="83.0" r="2.0" fill="#d21ad2"/>
<circle cx="364.6" cy="104.3" r="2.0" fill="#d21ad2"/>
<text x="367.4" y="105.8" font-size="4.6" fill="#d21ad2">Sparcl1</text>
<circle cx="376.0" cy="56.4" r="2.0" fill="#f4711c"/>
<text x="378.8" y="57.9" font-size="4.6" fill="#f4711c">Serpina3n</text>
<circle cx="362.5" cy="65.7" r="2.0" fill="#f4711c"/>
<text x="365.3" y="67.2" font-size="4.6" fill="#f4711c">Timp1</text>
<circle cx="364.0" cy="68.6" r="2.0" fill="#f4711c"/>
<circle cx="345.0" cy="79.8" r="2.0" fill="#f4711c"/>
<text x="347.8" y="81.3" font-size="4.6" fill="#f4711c">Cebpd</text>
<circle cx="353.7" cy="85.8" r="2.0" fill="#9a1010"/>
<text x="356.5" y="87.3" font-size="4.6" fill="#9a1010">Bcan</text>
<circle cx="314.5" cy="43.4" r="2.0" fill="#f4711c"/>
<text x="317.3" y="44.9" font-size="4.6" fill="#f4711c">Rarl</text>
<circle cx="331.4" cy="48.3" r="2.0" fill="#9a1010"/>
<circle cx="336.5" cy="46.6" r="2.0" fill="#f4711c"/>
<circle cx="344.3" cy="44.7" r="2.0" fill="#f4711c"/>
<circle cx="349.0" cy="44.7" r="2.0" fill="#f4711c"/>
<circle cx="351.3" cy="44.4" r="2.0" fill="#9a1010"/>
<circle cx="353.5" cy="38.7" r="2.0" fill="#f4711c"/>
<circle cx="356.8" cy="38.9" r="2.0" fill="#d21ad2"/>
<text x="359.6" y="40.4" font-size="4.6" fill="#d21ad2">Aqp4</text>
<circle cx="352.3" cy="47.1" r="2.0" fill="#d21ad2"/>
<circle cx="355.0" cy="52.3" r="2.0" fill="#9a1010"/>
<circle cx="359.6" cy="47.9" r="2.0" fill="#9a1010"/>
<circle cx="360.0" cy="53.7" r="2.0" fill="#f4711c"/>
<circle cx="355.8" cy="58.5" r="2.0" fill="#d21ad2"/>
<circle cx="354.3" cy="61.0" r="2.0" fill="#d21ad2"/>
<circle cx="367.5" cy="42.0" r="2.0" fill="#f4711c"/>
<text x="370.3" y="43.5" font-size="4.6" fill="#f4711c">Lcn2</text>
<circle cx="368.2" cy="45.2" r="2.0" fill="#d21ad2"/>
<text x="371.0" y="46.7" font-size="4.6" fill="#d21ad2">Nes2</text>
<circle cx="367.6" cy="48.7" r="2.0" fill="#f4711c"/>
<text x="370.4" y="50.2" font-size="4.6" fill="#f4711c">S100a4</text>
<circle cx="317.8" cy="58.2" r="2.0" fill="#9a1010"/>
<circle cx="327.8" cy="66.2" r="2.0" fill="#9a1010"/>
<text x="330.6" y="67.7" font-size="4.6" fill="#9a1010">Cdg1</text>
<circle cx="325.0" cy="80.3" r="2.0" fill="#9a1010"/>
<circle cx="321.3" cy="86.0" r="2.0" fill="#9a1010"/>
<circle cx="393.0" cy="108.5" r="2.0" fill="#d21ad2"/>
<circle cx="398.3" cy="111.5" r="2.0" fill="#f4711c"/>
<text x="401.1" y="113.0" font-size="4.6" fill="#f4711c">Vim</text>
<text x="410.6" y="28.3" font-size="4" text-anchor="middle" fill="#f4711c">Lcn2</text>
<text x="400.3" y="48.0" font-size="4" text-anchor="middle" fill="#d21ad2">Gfap</text>
<circle cx="287.4" cy="156.5" r="2.0" fill="#22d0d0"/>
<circle cx="305.0" cy="162.4" r="2.0" fill="#22d0d0"/>
<circle cx="287.4" cy="168.0" r="2.0" fill="#22d0d0"/>
<circle cx="313.0" cy="164.7" r="2.0" fill="#22d0d0"/>
<circle cx="309.6" cy="169.0" r="2.0" fill="#22d0d0"/>
<circle cx="314.0" cy="170.5" r="2.0" fill="#22d0d0"/>
<circle cx="322.4" cy="154.0" r="2.0" fill="#22d0d0"/>
<circle cx="343.5" cy="152.6" r="2.0" fill="#22d0d0"/>
<circle cx="345.8" cy="155.4" r="2.0" fill="#22d0d0"/>
<circle cx="348.0" cy="142.5" r="2.0" fill="#22d0d0"/>
<circle cx="363.3" cy="144.9" r="2.0" fill="#22d0d0"/>
<circle cx="343.5" cy="173.0" r="2.0" fill="#22d0d0"/>
<text x="367.0" y="148.4" font-size="4.6" fill="#444">Hmgb2</text>
<text x="352.7" y="143.3" font-size="4.6" fill="#444">Sox11</text>
<text x="347.6" y="160.3" font-size="4.6" fill="#444">Slc25a5</text>
<text x="347.6" y="152.8" font-size="4.6" fill="#444">Dlk1</text>
<text x="317.6" y="170.2" font-size="4.6" fill="#444">Pou3f1</text>
<text x="317.6" y="165.5" font-size="4.6" fill="#444">Nes</text>
<text x="316.6" y="175.5" font-size="4.6" fill="#444">Ube2c</text>
<text x="347.0" y="174.2" font-size="4.6" fill="#444">Igfbp2</text>
<text x="325.0" y="155.5" font-size="4.6" fill="#444">Ccnd2</text>
<text x="290.0" y="160.0" font-size="4.6" fill="#444">Sox4</text>
<text x="296.7" y="166.5" font-size="4.6" fill="#444">Cdk1</text>
<text x="290.0" y="172.5" font-size="4.6" fill="#444">Cdc20</text>
<circle cx="630.0" cy="47.5" r="2.0" fill="#f4711c"/>
<text x="632.8" y="49.0" font-size="4.6" fill="#f4711c">Lcn2</text>
<circle cx="621.0" cy="70.8" r="2.0" fill="#f4711c"/>
<text x="623.8" y="72.3" font-size="4.6" fill="#f4711c">Lyz2</text>
<circle cx="616.0" cy="79.6" r="2.0" fill="#f4711c"/>
<text x="618.8" y="81.1" font-size="4.6" fill="#f4711c">Timp1</text>
<circle cx="588.4" cy="77.0" r="2.0" fill="#f4711c"/>
<text x="591.2" y="78.5" font-size="4.6" fill="#f4711c">Tnfrsf</text>
<circle cx="605.0" cy="82.6" r="2.0" fill="#f4711c"/>
<text x="607.8" y="84.1" font-size="4.6" fill="#f4711c">C1qc</text>
<circle cx="610.0" cy="85.7" r="2.0" fill="#f4711c"/>
<text x="612.8" y="87.2" font-size="4.6" fill="#f4711c">C1qa</text>
<circle cx="604.5" cy="88.3" r="2.0" fill="#f4711c"/>
<text x="607.3" y="89.8" font-size="4.6" fill="#f4711c">Cd</text>
<circle cx="622.4" cy="93.3" r="2.0" fill="#f4711c"/>
<text x="625.2" y="94.8" font-size="4.6" fill="#f4711c">S100a4</text>
<circle cx="639.0" cy="90.4" r="2.0" fill="#f4711c"/>
<text x="641.8" y="91.9" font-size="4.6" fill="#f4711c">Serpina3n</text>
<circle cx="634.0" cy="97.5" r="2.0" fill="#f4711c"/>
<text x="636.8" y="99.0" font-size="4.6" fill="#f4711c">Hspb1</text>
<circle cx="637.0" cy="104.6" r="2.0" fill="#f4711c"/>
<text x="639.8" y="106.1" font-size="4.6" fill="#f4711c">Vim</text>
<circle cx="644.5" cy="105.8" r="2.0" fill="#f4711c"/>
<text x="647.3" y="107.3" font-size="4.6" fill="#f4711c">S100a6</text>
<circle cx="613.0" cy="105.4" r="2.0" fill="#f4711c"/>
<text x="615.8" y="106.9" font-size="4.6" fill="#f4711c">Lgals3</text>
<circle cx="580.0" cy="73.3" r="2.0" fill="#9a1010"/>
<text x="582.8" y="74.8" font-size="4.6" fill="#9a1010">Postn</text>
<circle cx="596.0" cy="84.9" r="2.0" fill="#9a1010"/>
<circle cx="597.0" cy="90.6" r="2.0" fill="#9a1010"/>
<circle cx="595.5" cy="93.6" r="2.0" fill="#9a1010"/>
<circle cx="602.6" cy="93.4" r="2.0" fill="#9a1010"/>
<circle cx="602.0" cy="104.6" r="2.0" fill="#9a1010"/>
<circle cx="599.0" cy="108.0" r="2.0" fill="#9a1010"/>
<circle cx="560.5" cy="107.4" r="2.0" fill="#9a1010"/>
<circle cx="592.0" cy="118.8" r="2.0" fill="#9a1010"/>
<circle cx="560.7" cy="88.9" r="2.0" fill="#f4711c"/>
<circle cx="667.5" cy="119.5" r="2.0" fill="#d21ad2"/>
<text x="670.3" y="121.0" font-size="4.6" fill="#d21ad2">Mt2</text>
<circle cx="663.0" cy="127.2" r="2.0" fill="#d21ad2"/>
<circle cx="631.5" cy="133.8" r="2.0" fill="#d21ad2"/>
<text x="634.3" y="135.3" font-size="4.6" fill="#d21ad2">Agt</text>
<circle cx="643.0" cy="134.8" r="2.0" fill="#d21ad2"/>
<text x="645.8" y="136.3" font-size="4.6" fill="#d21ad2">Cpe</text>
<circle cx="645.0" cy="138.7" r="2.0" fill="#d21ad2"/>
<text x="647.8" y="140.2" font-size="4.6" fill="#d21ad2">Ndrg2</text>
<circle cx="646.0" cy="143.5" r="2.0" fill="#d21ad2"/>
<text x="648.8" y="145.0" font-size="4.6" fill="#d21ad2">Aldoc</text>
<circle cx="618.0" cy="136.0" r="2.0" fill="#d21ad2"/>
<circle cx="619.6" cy="134.7" r="2.0" fill="#d21ad2"/>
<circle cx="612.0" cy="142.6" r="2.0" fill="#d21ad2"/>
<circle cx="603.4" cy="153.6" r="2.0" fill="#d21ad2"/>
<text x="606.2" y="155.1" font-size="4.6" fill="#d21ad2">Slc6a11</text>
<text x="1.2" y="245.0" font-size="9.5" font-weight="bold">d</text>
<text x="20.9" y="259.0" font-size="11.4" font-weight="bold">PCA of Gene Expression (FPKM)</text>
<line x1="30.0" y1="268.4" x2="190.1" y2="268.4" stroke="#444" stroke-width="1.2"/>
<line x1="190.1" y1="268.4" x2="190.1" y2="428.3" stroke="#444" stroke-width="1.2"/>
<line x1="30.0" y1="268.0" x2="30.0" y2="428.3" stroke="#777" stroke-width="1.6"/>
<line x1="30.0" y1="428.3" x2="190.6" y2="428.3" stroke="#555" stroke-width="1.3"/>
<line x1="27.5" y1="268.4" x2="30.0" y2="268.4" stroke="#333" stroke-width="0.8"/>
<text x="26.5" y="270.3" font-size="5.5" font-weight="bold" text-anchor="end" fill="#222">200</text>
<line x1="27.5" y1="295.3" x2="30.0" y2="295.3" stroke="#333" stroke-width="0.8"/>
<text x="26.5" y="297.2" font-size="5.5" font-weight="bold" text-anchor="end" fill="#222">150</text>
<line x1="27.5" y1="322.0" x2="30.0" y2="322.0" stroke="#333" stroke-width="0.8"/>
<text x="26.5" y="323.9" font-size="5.5" font-weight="bold" text-anchor="end" fill="#222">100</text>
<line x1="27.5" y1="348.5" x2="30.0" y2="348.5" stroke="#333" stroke-width="0.8"/>
<text x="26.5" y="350.4" font-size="5.5" font-weight="bold" text-anchor="end" fill="#222">50</text>
<line x1="27.5" y1="375.5" x2="30.0" y2="375.5" stroke="#333" stroke-width="0.8"/>
<text x="26.5" y="377.4" font-size="5.5" font-weight="bold" text-anchor="end" fill="#222">0</text>
<line x1="27.5" y1="402.3" x2="30.0" y2="402.3" stroke="#333" stroke-width="0.8"/>
<text x="26.5" y="404.2" font-size="5.5" font-weight="bold" text-anchor="end" fill="#222">-50</text>
<line x1="27.5" y1="428.4" x2="30.0" y2="428.4" stroke="#333" stroke-width="0.8"/>
<text x="26.5" y="430.3" font-size="5.5" font-weight="bold" text-anchor="end" fill="#222">-100</text>
<line x1="40.6" y1="428.3" x2="40.6" y2="430.8" stroke="#333" stroke-width="0.8"/>
<text x="40.6" y="438.0" font-size="5.5" font-weight="bold" text-anchor="middle" fill="#222">0</text>
<line x1="67.4" y1="428.3" x2="67.4" y2="430.8" stroke="#333" stroke-width="0.8"/>
<text x="67.4" y="438.0" font-size="5.5" font-weight="bold" text-anchor="middle" fill="#222">50</text>
<line x1="94.0" y1="428.3" x2="94.0" y2="430.8" stroke="#333" stroke-width="0.8"/>
<text x="94.0" y="438.0" font-size="5.5" font-weight="bold" text-anchor="middle" fill="#222">100</text>
<line x1="120.7" y1="428.3" x2="120.7" y2="430.8" stroke="#333" stroke-width="0.8"/>
<text x="120.7" y="438.0" font-size="5.5" font-weight="bold" text-anchor="middle" fill="#222">150</text>
<line x1="147.0" y1="428.3" x2="147.0" y2="430.8" stroke="#333" stroke-width="0.8"/>
<text x="147.0" y="438.0" font-size="5.5" font-weight="bold" text-anchor="middle" fill="#222">200</text>
<line x1="173.2" y1="428.3" x2="173.2" y2="430.8" stroke="#333" stroke-width="0.8"/>
<text x="173.2" y="438.0" font-size="5.5" font-weight="bold" text-anchor="middle" fill="#222">250</text>
<text x="110.0" y="448.5" font-size="7.7" font-weight="bold" text-anchor="middle" fill="#222">PC1 (51.8%)</text>
<text transform="translate(10.5,349.6) rotate(-90)" font-size="7.35" font-weight="bold" text-anchor="middle" fill="#222">PC2 (29.7%)</text>
<text x="34.0" y="278.0" font-size="9.76" font-weight="bold" fill="#111">All genes</text>
<line x1="44.0" y1="373.3" x2="154.3" y2="304.0" stroke="#2aa830" stroke-width="1.2"/>
<path d="M158.5,301.3 L154.8,306.7 L154.7,303.7 L152.0,302.3 Z" fill="#2aa830"/>
<line x1="173.6" y1="412.2" x2="177.6" y2="392.9" stroke="#4a80f0" stroke-width="1.1"/>
<path d="M178.4,389.0 L179.5,394.3 L177.7,392.4 L175.2,393.5 Z" fill="#4a80f0"/>
<circle cx="40.6" cy="375.5" r="3.9" fill="#000"/>
<circle cx="162.1" cy="299.0" r="3.9" fill="#f0156c"/>
<circle cx="179.4" cy="385.0" r="3.9" fill="#3d0a8a"/>
<circle cx="172.9" cy="416.3" r="3.9" fill="#1d7f85"/>
<text x="40.6" y="388.9" font-size="8.1" text-anchor="middle" fill="#222">NPC</text>
<text x="163.8" y="290.9" font-size="8.1" text-anchor="middle" fill="#222">NPC in SCI</text>
<text x="173.2" y="386.7" font-size="8.1" text-anchor="end" fill="#222">Astros in SCI</text>
<text x="166.7" y="418.1" font-size="8.1" text-anchor="end" fill="#222">Astros (healthy)</text>
<text x="241.3" y="243.6" font-size="9.5" font-weight="bold">e</text>
<text x="294.6" y="242.0" font-size="9.8" font-weight="bold">Healthy Astrocyte Genes</text>
<line x1="272.6" y1="246.5" x2="433.1" y2="246.5" stroke="#666" stroke-width="1.3"/>
<line x1="433.1" y1="246.5" x2="433.1" y2="347.8" stroke="#666" stroke-width="1.3"/>
<line x1="272.6" y1="245.9" x2="272.6" y2="347.8" stroke="#222" stroke-width="1.1"/>
<line x1="272.6" y1="347.8" x2="433.7" y2="347.8" stroke="#222" stroke-width="1.1"/>
<line x1="270.1" y1="246.5" x2="272.6" y2="246.5" stroke="#222" stroke-width="0.8"/>
<text x="269.4" y="248.4" font-size="5.4" font-weight="bold" text-anchor="end" fill="#222">30</text>
<line x1="270.1" y1="276.1" x2="272.6" y2="276.1" stroke="#222" stroke-width="0.8"/>
<text x="269.4" y="278.0" font-size="5.4" font-weight="bold" text-anchor="end" fill="#222">20</text>
<line x1="270.1" y1="305.0" x2="272.6" y2="305.0" stroke="#222" stroke-width="0.8"/>
<text x="269.4" y="306.9" font-size="5.4" font-weight="bold" text-anchor="end" fill="#222">10</text>
<line x1="270.1" y1="334.4" x2="272.6" y2="334.4" stroke="#222" stroke-width="0.8"/>
<text x="269.4" y="336.3" font-size="5.4" font-weight="bold" text-anchor="end" fill="#222">0</text>
<line x1="272.2" y1="347.8" x2="272.2" y2="350.3" stroke="#222" stroke-width="0.8"/>
<text x="272.2" y="358.0" font-size="5.4" font-weight="bold" text-anchor="middle" fill="#222">-5</text>
<line x1="301.3" y1="347.8" x2="301.3" y2="350.3" stroke="#222" stroke-width="0.8"/>
<text x="301.3" y="358.0" font-size="5.4" font-weight="bold" text-anchor="middle" fill="#222">5</text>
<line x1="330.5" y1="347.8" x2="330.5" y2="350.3" stroke="#222" stroke-width="0.8"/>
<text x="330.5" y="358.0" font-size="5.4" font-weight="bold" text-anchor="middle" fill="#222">15</text>
<line x1="359.7" y1="347.8" x2="359.7" y2="350.3" stroke="#222" stroke-width="0.8"/>
<text x="359.7" y="358.0" font-size="5.4" font-weight="bold" text-anchor="middle" fill="#222">25</text>
<line x1="389.0" y1="347.8" x2="389.0" y2="350.3" stroke="#222" stroke-width="0.8"/>
<text x="389.0" y="358.0" font-size="5.4" font-weight="bold" text-anchor="middle" fill="#222">35</text>
<line x1="418.2" y1="347.8" x2="418.2" y2="350.3" stroke="#222" stroke-width="0.8"/>
<text x="418.2" y="358.0" font-size="5.4" font-weight="bold" text-anchor="middle" fill="#222">45</text>
<text x="352.5" y="369.0" font-size="7.7" font-weight="bold" text-anchor="middle" fill="#222">PC1 (65.1%)</text>
<text transform="translate(259.0,298.9) rotate(-90)" font-size="7.35" font-weight="bold" text-anchor="middle" fill="#222">PC2 (25.7%)</text>
<line x1="289.0" y1="331.0" x2="319.2" y2="272.0" stroke="#2aa830" stroke-width="1.1"/>
<path d="M321.2,268.0 L320.8,274.0 L319.4,271.6 L316.6,271.8 Z" fill="#2aa830"/>
<line x1="416.5" y1="318.0" x2="363.1" y2="275.8" stroke="#4a80f0" stroke-width="1.1"/>
<path d="M359.6,273.0 L365.4,274.5 L362.7,275.5 L362.4,278.3 Z" fill="#4a80f0"/>
<circle cx="287.0" cy="334.4" r="3.6" fill="#000"/>
<circle cx="323.2" cy="264.2" r="3.6" fill="#f0156c"/>
<circle cx="356.7" cy="270.3" r="3.6" fill="#3d0a8a"/>
<circle cx="419.6" cy="320.7" r="3.6" fill="#1d7f85"/>
<text x="286.5" y="344.8" font-size="8.1" text-anchor="middle" fill="#222">NPC</text>
<text x="316.3" y="269.3" font-size="8.1" text-anchor="end" fill="#222">NPC in SCI</text>
<text x="353.1" y="263.2" font-size="8.1" fill="#222">Astros in SCI</text>
<text x="428.6" y="332.7" font-size="8.1" text-anchor="end" fill="#222">Astros (healthy)</text>
<text x="490.3" y="245.1" font-size="9.5" font-weight="bold">f</text>
<text x="575.0" y="241.7" font-size="9.8" font-weight="bold">EMT Genes</text>
<line x1="521.5" y1="246.5" x2="681.8" y2="246.5" stroke="#666" stroke-width="1.3"/>
<line x1="681.8" y1="246.5" x2="681.8" y2="361.3" stroke="#666" stroke-width="1.3"/>
<line x1="521.5" y1="245.9" x2="521.5" y2="361.3" stroke="#222" stroke-width="1.1"/>
<line x1="521.5" y1="361.3" x2="682.4" y2="361.3" stroke="#222" stroke-width="1.1"/>
<line x1="519.0" y1="246.5" x2="521.5" y2="246.5" stroke="#222" stroke-width="0.8"/>
<text x="518.3" y="248.4" font-size="5.4" font-weight="bold" text-anchor="end" fill="#222">5</text>
<line x1="519.0" y1="269.5" x2="521.5" y2="269.5" stroke="#222" stroke-width="0.8"/>
<text x="518.3" y="271.4" font-size="5.4" font-weight="bold" text-anchor="end" fill="#222">0</text>
<line x1="519.0" y1="292.5" x2="521.5" y2="292.5" stroke="#222" stroke-width="0.8"/>
<text x="518.3" y="294.4" font-size="5.4" font-weight="bold" text-anchor="end" fill="#222">-5</text>
<line x1="519.0" y1="315.4" x2="521.5" y2="315.4" stroke="#222" stroke-width="0.8"/>
<text x="518.3" y="317.3" font-size="5.4" font-weight="bold" text-anchor="end" fill="#222">-10</text>
<line x1="519.0" y1="338.4" x2="521.5" y2="338.4" stroke="#222" stroke-width="0.8"/>
<text x="518.3" y="340.3" font-size="5.4" font-weight="bold" text-anchor="end" fill="#222">-15</text>
<line x1="519.0" y1="361.3" x2="521.5" y2="361.3" stroke="#222" stroke-width="0.8"/>
<text x="518.3" y="363.2" font-size="5.4" font-weight="bold" text-anchor="end" fill="#222">-20</text>
<line x1="521.5" y1="361.3" x2="521.5" y2="363.8" stroke="#222" stroke-width="0.8"/>
<text x="521.5" y="370.0" font-size="5.4" font-weight="bold" text-anchor="middle" fill="#222">-5</text>
<line x1="544.2" y1="361.3" x2="544.2" y2="363.8" stroke="#222" stroke-width="0.8"/>
<text x="544.2" y="370.0" font-size="5.4" font-weight="bold" text-anchor="middle" fill="#222">0</text>
<line x1="567.0" y1="361.3" x2="567.0" y2="363.8" stroke="#222" stroke-width="0.8"/>
<text x="567.0" y="370.0" font-size="5.4" font-weight="bold" text-anchor="middle" fill="#222">5</text>
<line x1="590.1" y1="361.3" x2="590.1" y2="363.8" stroke="#222" stroke-width="0.8"/>
<text x="590.1" y="370.0" font-size="5.4" font-weight="bold" text-anchor="middle" fill="#222">10</text>
<line x1="613.3" y1="361.3" x2="613.3" y2="363.8" stroke="#222" stroke-width="0.8"/>
<text x="613.3" y="370.0" font-size="5.4" font-weight="bold" text-anchor="middle" fill="#222">15</text>
<line x1="636.3" y1="361.3" x2="636.3" y2="363.8" stroke="#222" stroke-width="0.8"/>
<text x="636.3" y="370.0" font-size="5.4" font-weight="bold" text-anchor="middle" fill="#222">20</text>
<line x1="659.2" y1="361.3" x2="659.2" y2="363.8" stroke="#222" stroke-width="0.8"/>
<text x="659.2" y="370.0" font-size="5.4" font-weight="bold" text-anchor="middle" fill="#222">25</text>
<line x1="681.8" y1="361.3" x2="681.8" y2="363.8" stroke="#222" stroke-width="0.8"/>
<text x="681.8" y="370.0" font-size="5.4" font-weight="bold" text-anchor="middle" fill="#222">30</text>
<text x="601.3" y="379.3" font-size="7.7" font-weight="bold" text-anchor="middle" fill="#222">PC1 (55.0%)</text>
<text transform="translate(508.4,303.8) rotate(-90)" font-size="7.35" font-weight="bold" text-anchor="middle" fill="#222">PC2 (31.6%)</text>
<line x1="548.0" y1="268.8" x2="651.1" y2="253.2" stroke="#2aa830" stroke-width="1.1"/>
<path d="M655.5,252.5 L650.4,255.7 L651.5,253.1 L649.7,251.0 Z" fill="#2aa830"/>
<line x1="612.2" y1="343.6" x2="653.9" y2="309.3" stroke="#4a80f0" stroke-width="1.1"/>
<path d="M657.4,306.4 L654.7,311.7 L654.3,308.9 L651.6,308.0 Z" fill="#4a80f0"/>
<circle cx="544.2" cy="269.5" r="3.6" fill="#000"/>
<circle cx="659.6" cy="251.8" r="3.6" fill="#f0156c"/>
<circle cx="660.6" cy="303.5" r="3.6" fill="#3d0a8a"/>
<circle cx="609.2" cy="346.4" r="3.6" fill="#1d7f85"/>
<text x="544.2" y="282.0" font-size="8.1" text-anchor="middle" fill="#222">NPC</text>
<text x="659.2" y="264.6" font-size="8.1" text-anchor="middle" fill="#222">NPC in SCI</text>
<text x="678.7" y="297.5" font-size="8.1" text-anchor="end" fill="#222">Astros in SCI</text>
<text x="616.3" y="351.9" font-size="8.1" fill="#222">Astros (healthy)</text>
<text x="241.3" y="400.5" font-size="9.5" font-weight="bold">g</text>
<text x="299.7" y="397.3" font-size="9.8" font-weight="bold">NPC/progenitor Genes</text>
<line x1="272.9" y1="402.8" x2="432.9" y2="402.8" stroke="#666" stroke-width="1.3"/>
<line x1="272.9" y1="402.2" x2="272.9" y2="482.7" stroke="#222" stroke-width="1.1"/>
<line x1="272.9" y1="482.7" x2="433.5" y2="482.7" stroke="#222" stroke-width="1.1"/>
<line x1="432.9" y1="402.8" x2="432.9" y2="482.7" stroke="#888" stroke-width="1.4"/>
<line x1="432.9" y1="402.7" x2="435.6" y2="402.7" stroke="#444" stroke-width="0.8"/>
<text x="436.8" y="404.6" font-size="5.4" font-weight="bold" fill="#222">4</text>
<line x1="432.9" y1="442.9" x2="435.6" y2="442.9" stroke="#444" stroke-width="0.8"/>
<text x="436.8" y="444.8" font-size="5.4" font-weight="bold" fill="#222">0</text>
<line x1="432.9" y1="482.7" x2="435.6" y2="482.7" stroke="#444" stroke-width="0.8"/>
<text x="436.8" y="484.6" font-size="5.4" font-weight="bold" fill="#222">-4</text>
<line x1="291.7" y1="482.7" x2="291.7" y2="485.2" stroke="#222" stroke-width="0.8"/>
<text x="291.7" y="491.7" font-size="5.4" font-weight="bold" text-anchor="middle" fill="#222">-12</text>
<line x1="332.0" y1="482.7" x2="332.0" y2="485.2" stroke="#222" stroke-width="0.8"/>
<text x="332.0" y="491.7" font-size="5.4" font-weight="bold" text-anchor="middle" fill="#222">-8</text>
<line x1="372.3" y1="482.7" x2="372.3" y2="485.2" stroke="#222" stroke-width="0.8"/>
<text x="372.3" y="491.7" font-size="5.4" font-weight="bold" text-anchor="middle" fill="#222">-4</text>
<line x1="412.6" y1="482.7" x2="412.6" y2="485.2" stroke="#222" stroke-width="0.8"/>
<text x="412.6" y="491.7" font-size="5.4" font-weight="bold" text-anchor="middle" fill="#222">0</text>
<text x="350.8" y="502.2" font-size="7.7" font-weight="bold" text-anchor="middle" fill="#222">PC1 (92.2%)</text>
<text transform="translate(267.3,443.0) rotate(-90)" font-size="7.35" font-weight="bold" text-anchor="middle" fill="#222">PC2 (4.4%)</text>
<line x1="409.0" y1="443.5" x2="303.0" y2="463.2" stroke="#2aa830" stroke-width="1.1"/>
<path d="M298.6,464.0 L303.6,460.6 L302.5,463.3 L304.4,465.4 Z" fill="#2aa830"/>
<circle cx="283.7" cy="435.8" r="3.6" fill="#1d7f85"/>
<circle cx="283.7" cy="435.8" r="3.4" fill="#3d0a8a"/>
<circle cx="295.1" cy="464.7" r="3.6" fill="#f0156c"/>
<circle cx="412.6" cy="442.9" r="3.6" fill="#000"/>
<text x="278.9" y="428.6" font-size="8.1" fill="#222">Astros (healthy)</text>
<text x="289.0" y="440.7" font-size="8.1" fill="#222">Astros in SCI</text>
<text x="277.0" y="476.0" font-size="8.1" fill="#222">NPC in SCI</text>
<text x="412.6" y="435.5" font-size="8.1" text-anchor="middle" fill="#222">NPC</text>
<text x="489.2" y="402.8" font-size="9.5" font-weight="bold">h</text>
<text x="561.8" y="397.5" font-size="9.8" font-weight="bold">Reactivity Genes</text>
<line x1="521.6" y1="402.8" x2="682.0" y2="402.8" stroke="#666" stroke-width="1.3"/>
<line x1="682.0" y1="402.8" x2="682.0" y2="483.4" stroke="#666" stroke-width="1.3"/>
<line x1="521.6" y1="402.2" x2="521.6" y2="483.4" stroke="#222" stroke-width="1.1"/>
<line x1="521.6" y1="483.4" x2="682.6" y2="483.4" stroke="#222" stroke-width="1.1"/>
<line x1="519.1" y1="414.7" x2="521.6" y2="414.7" stroke="#222" stroke-width="0.8"/>
<text x="518.4" y="416.6" font-size="5.4" font-weight="bold" text-anchor="end" fill="#222">10</text>
<line x1="519.1" y1="437.5" x2="521.6" y2="437.5" stroke="#222" stroke-width="0.8"/>
<text x="518.4" y="439.4" font-size="5.4" font-weight="bold" text-anchor="end" fill="#222">5</text>
<line x1="519.1" y1="460.2" x2="521.6" y2="460.2" stroke="#222" stroke-width="0.8"/>
<text x="518.4" y="462.1" font-size="5.4" font-weight="bold" text-anchor="end" fill="#222">0</text>
<line x1="519.1" y1="483.4" x2="521.6" y2="483.4" stroke="#222" stroke-width="0.8"/>
<text x="518.4" y="485.3" font-size="5.4" font-weight="bold" text-anchor="end" fill="#222">-5</text>
<line x1="521.6" y1="483.4" x2="521.6" y2="485.9" stroke="#222" stroke-width="0.8"/>
<text x="521.6" y="492.1" font-size="5.4" font-weight="bold" text-anchor="middle" fill="#222">-5</text>
<line x1="544.3" y1="483.4" x2="544.3" y2="485.9" stroke="#222" stroke-width="0.8"/>
<text x="544.3" y="492.1" font-size="5.4" font-weight="bold" text-anchor="middle" fill="#222">0</text>
<line x1="567.1" y1="483.4" x2="567.1" y2="485.9" stroke="#222" stroke-width="0.8"/>
<text x="567.1" y="492.1" font-size="5.4" font-weight="bold" text-anchor="middle" fill="#222">5</text>
<line x1="590.4" y1="483.4" x2="590.4" y2="485.9" stroke="#222" stroke-width="0.8"/>
<text x="590.4" y="492.1" font-size="5.4" font-weight="bold" text-anchor="middle" fill="#222">10</text>
<line x1="613.2" y1="483.4" x2="613.2" y2="485.9" stroke="#222" stroke-width="0.8"/>
<text x="613.2" y="492.1" font-size="5.4" font-weight="bold" text-anchor="middle" fill="#222">15</text>
<line x1="636.0" y1="483.4" x2="636.0" y2="485.9" stroke="#222" stroke-width="0.8"/>
<text x="636.0" y="492.1" font-size="5.4" font-weight="bold" text-anchor="middle" fill="#222">20</text>
<line x1="659.0" y1="483.4" x2="659.0" y2="485.9" stroke="#222" stroke-width="0.8"/>
<text x="659.0" y="492.1" font-size="5.4" font-weight="bold" text-anchor="middle" fill="#222">25</text>
<line x1="682.0" y1="483.4" x2="682.0" y2="485.9" stroke="#222" stroke-width="0.8"/>
<text x="682.0" y="492.1" font-size="5.4" font-weight="bold" text-anchor="middle" fill="#222">30</text>
<text x="601.8" y="502.6" font-size="7.7" font-weight="bold" text-anchor="middle" fill="#222">PC1 (76.9%)</text>
<text transform="translate(506.7,443.0) rotate(-90)" font-size="7.35" font-weight="bold" text-anchor="middle" fill="#222">PC2 (14.4%)</text>
<line x1="557.5" y1="429.0" x2="624.8" y2="411.4" stroke="#4a80f0" stroke-width="1.1"/>
<path d="M629.2,410.3 L624.5,414.0 L625.3,411.3 L623.3,409.4 Z" fill="#4a80f0"/>
<line x1="548.0" y1="460.3" x2="660.3" y2="464.1" stroke="#2aa830" stroke-width="1.1"/>
<path d="M664.8,464.3 L659.2,466.5 L660.8,464.2 L659.4,461.7 Z" fill="#2aa830"/>
<circle cx="544.3" cy="460.2" r="3.6" fill="#000"/>
<circle cx="554.0" cy="430.0" r="3.6" fill="#1d7f85"/>
<circle cx="633.0" cy="409.4" r="3.6" fill="#3d0a8a"/>
<circle cx="668.7" cy="464.4" r="3.6" fill="#f0156c"/>
<text x="544.3" y="471.5" font-size="8.1" text-anchor="middle" fill="#222">NPC</text>
<text x="526.8" y="441.3" font-size="8.1" fill="#222">Astros (healthy)</text>
<text x="630.7" y="420.6" font-size="8.1" fill="#222">Astros in SCI</text>
<text x="679.2" y="476.4" font-size="8.1" text-anchor="end" fill="#222">NPC in SCI</text>
<text x="0.3" y="472.5" font-size="9.5" font-weight="bold">i</text>
<text x="53.4" y="472.5" font-size="9.54" fill="#222">NPC in SCI vs Host Astros SCI</text>
<line x1="9.9" y1="477.3" x2="227.5" y2="477.3" stroke="#444" stroke-width="1.0"/>
<line x1="9.9" y1="516.5" x2="227.5" y2="516.5" stroke="#444" stroke-width="1.0"/>
<line x1="78.6" y1="516.5" x2="227.5" y2="516.5" stroke="#444" stroke-width="1.0"/>
<line x1="78.6" y1="497.0" x2="227.0" y2="497.0" stroke="#777" stroke-width="1.0"/>
<line x1="78.6" y1="477.3" x2="78.6" y2="516.5" stroke="#444" stroke-width="1.0"/>
<line x1="121.7" y1="477.3" x2="121.7" y2="516.5" stroke="#444" stroke-width="1.0"/>
<line x1="166.6" y1="477.3" x2="166.6" y2="516.5" stroke="#444" stroke-width="1.0"/>
<line x1="197.6" y1="477.3" x2="197.6" y2="516.5" stroke="#444" stroke-width="1.0"/>
<line x1="227.0" y1="477.3" x2="227.0" y2="516.5" stroke="#444" stroke-width="1.0"/>
<text x="43.5" y="489.6" font-size="9.6" font-weight="bold" text-anchor="middle" fill="#111">Cosine</text>
<text x="43.5" y="500.7" font-size="9.6" font-weight="bold" text-anchor="middle" fill="#111" textLength="57.3" lengthAdjust="spacingAndGlyphs">Similarity of</text>
<text x="43.5" y="510.6" font-size="9.6" font-weight="bold" text-anchor="middle" fill="#111">DEGs</text>
<text x="100.1" y="490.0" font-size="8.2" font-weight="bold" text-anchor="middle" fill="#111">Healthy</text>
<text x="144.1" y="490.0" font-size="8.2" font-weight="bold" text-anchor="middle" fill="#111">Reactivity</text>
<text x="182.1" y="490.0" font-size="8.2" font-weight="bold" text-anchor="middle" fill="#111">EMT</text>
<text x="212.3" y="490.0" font-size="8.2" font-weight="bold" text-anchor="middle" fill="#111">NPC</text>
<text x="100.1" y="509.3" font-size="8.3" text-anchor="middle" fill="#222">-0.254</text>
<text x="144.1" y="509.3" font-size="8.3" font-weight="bold" text-anchor="middle" fill="#f01010">0.843</text>
<text x="182.1" y="509.3" font-size="8.3" text-anchor="middle" fill="#222">0.488</text>
<text x="212.3" y="509.3" font-size="8.3" text-anchor="middle" fill="#222">-0.665</text>
<text x="1.8" y="544.0" font-size="9.5" font-weight="bold">j</text>
<text x="30.7" y="557.2" font-size="9.4" fill="#222">Median DEG (Log<tspan font-size="6.3" dy="1.8">2</tspan><tspan dy="-1.8">FC)</tspan></text>
<defs><linearGradient id="cb" x1="0" x2="1" y1="0" y2="0"><stop offset="0" stop-color="#0000ff"/><stop offset="0.333" stop-color="#ffffff"/><stop offset="0.667" stop-color="#ff0000"/><stop offset="1" stop-color="#6a0000"/></linearGradient></defs>
<rect x="134" y="549.3" width="86.7" height="10.1" fill="url(#cb)"/>
<text x="134.0" y="548.0" font-size="8.6" text-anchor="middle" fill="#222">-4</text>
<text x="162.8" y="548.0" font-size="8.6" text-anchor="middle" fill="#222">0</text>
<text x="191.8" y="548.0" font-size="8.6" text-anchor="middle" fill="#222">4</text>
<text x="220.3" y="548.0" font-size="8.6" text-anchor="middle" fill="#222">8</text>
<line x1="22.8" y1="564.5" x2="223.2" y2="564.5" stroke="#111" stroke-width="1.6"/>
<line x1="22.8" y1="647.5" x2="223.2" y2="647.5" stroke="#111" stroke-width="1.6"/>
<line x1="22.8" y1="732.2" x2="223.2" y2="732.2" stroke="#111" stroke-width="1.6"/>
<line x1="22.8" y1="563.7" x2="22.8" y2="733.0" stroke="#111" stroke-width="1.6"/>
<line x1="223.2" y1="563.7" x2="223.2" y2="733.0" stroke="#111" stroke-width="1.6"/>
<line x1="20.3" y1="571.5" x2="22.8" y2="571.5" stroke="#111" stroke-width="1.0"/>
<text x="19.3" y="574.0" font-size="7" font-weight="bold" text-anchor="end" fill="#111">12</text>
<line x1="20.3" y1="655.6" x2="22.8" y2="655.6" stroke="#111" stroke-width="1.0"/>
<text x="19.3" y="658.1" font-size="7" font-weight="bold" text-anchor="end" fill="#111">12</text>
<line x1="20.3" y1="585.5" x2="22.8" y2="585.5" stroke="#111" stroke-width="1.0"/>
<text x="19.3" y="588.0" font-size="7" font-weight="bold" text-anchor="end" fill="#111">8</text>
<line x1="20.3" y1="669.6" x2="22.8" y2="669.6" stroke="#111" stroke-width="1.0"/>
<text x="19.3" y="672.1" font-size="7" font-weight="bold" text-anchor="end" fill="#111">8</text>
<line x1="20.3" y1="599.5" x2="22.8" y2="599.5" stroke="#111" stroke-width="1.0"/>
<text x="19.3" y="602.0" font-size="7" font-weight="bold" text-anchor="end" fill="#111">4</text>
<line x1="20.3" y1="683.6" x2="22.8" y2="683.6" stroke="#111" stroke-width="1.0"/>
<text x="19.3" y="686.1" font-size="7" font-weight="bold" text-anchor="end" fill="#111">4</text>
<line x1="20.3" y1="613.5" x2="22.8" y2="613.5" stroke="#111" stroke-width="1.0"/>
<text x="19.3" y="616.0" font-size="7" font-weight="bold" text-anchor="end" fill="#111">0</text>
<line x1="20.3" y1="697.6" x2="22.8" y2="697.6" stroke="#111" stroke-width="1.0"/>
<text x="19.3" y="700.1" font-size="7" font-weight="bold" text-anchor="end" fill="#111">0</text>
<line x1="20.3" y1="627.5" x2="22.8" y2="627.5" stroke="#111" stroke-width="1.0"/>
<text x="19.3" y="630.0" font-size="7" font-weight="bold" text-anchor="end" fill="#111">-4</text>
<line x1="20.3" y1="711.6" x2="22.8" y2="711.6" stroke="#111" stroke-width="1.0"/>
<text x="19.3" y="714.1" font-size="7" font-weight="bold" text-anchor="end" fill="#111">-4</text>
<line x1="20.3" y1="641.5" x2="22.8" y2="641.5" stroke="#111" stroke-width="1.0"/>
<text x="19.3" y="644.0" font-size="7" font-weight="bold" text-anchor="end" fill="#111">-8</text>
<line x1="20.3" y1="725.6" x2="22.8" y2="725.6" stroke="#111" stroke-width="1.0"/>
<text x="19.3" y="728.1" font-size="7" font-weight="bold" text-anchor="end" fill="#111">-8</text>
<line x1="53.0" y1="564.5" x2="53.0" y2="566.5" stroke="#111" stroke-width="1.0"/>
<line x1="53.0" y1="647.5" x2="53.0" y2="649.5" stroke="#111" stroke-width="1.0"/>
<line x1="53.0" y1="732.2" x2="53.0" y2="734.7" stroke="#111" stroke-width="1.0"/>
<line x1="99.1" y1="564.5" x2="99.1" y2="566.5" stroke="#111" stroke-width="1.0"/>
<line x1="99.1" y1="647.5" x2="99.1" y2="649.5" stroke="#111" stroke-width="1.0"/>
<line x1="99.1" y1="732.2" x2="99.1" y2="734.7" stroke="#111" stroke-width="1.0"/>
<line x1="145.1" y1="564.5" x2="145.1" y2="566.5" stroke="#111" stroke-width="1.0"/>
<line x1="145.1" y1="647.5" x2="145.1" y2="649.5" stroke="#111" stroke-width="1.0"/>
<line x1="145.1" y1="732.2" x2="145.1" y2="734.7" stroke="#111" stroke-width="1.0"/>
<line x1="191.1" y1="564.5" x2="191.1" y2="566.5" stroke="#111" stroke-width="1.0"/>
<line x1="191.1" y1="647.5" x2="191.1" y2="649.5" stroke="#111" stroke-width="1.0"/>
<line x1="191.1" y1="732.2" x2="191.1" y2="734.7" stroke="#111" stroke-width="1.0"/>
<line x1="22.8" y1="613.5" x2="223.2" y2="613.5" stroke="#888" stroke-width="0.6" stroke-dasharray="2.2,2.2"/>
<line x1="22.8" y1="697.6" x2="223.2" y2="697.6" stroke="#888" stroke-width="0.6" stroke-dasharray="2.2,2.2"/>
<line x1="53" y1="566.0" x2="53" y2="644.2" stroke="#c8c8c8" stroke-width="0.9"/>
<polygon points="53.15,579.78 53.25,580.28 53.34,580.78 53.43,581.28 53.52,581.78 53.60,582.28 53.69,582.78 53.76,583.27 53.84,583.77 53.91,584.27 53.97,584.77 54.03,585.27 54.09,585.77 54.14,586.27 54.20,586.77 54.25,587.27 54.30,587.77 54.35,588.27 54.39,588.77 54.44,589.27 54.49,589.77 54.53,590.27 54.58,590.77 54.62,591.27 54.67,591.77 54.71,592.26 54.76,592.76 54.81,593.26 54.86,593.76 54.91,594.26 54.95,594.76 55.00,595.26 55.04,595.76 55.08,596.26 55.12,596.76 55.17,597.26 55.21,597.76 55.25,598.26 55.30,598.76 55.34,599.26 55.39,599.76 55.45,600.26 55.50,600.76 55.56,601.25 55.62,601.75 55.69,602.25 55.76,602.75 55.83,603.25 55.90,603.75 55.98,604.25 56.07,604.75 56.16,605.25 56.26,605.75 56.37,606.25 56.50,606.75 56.65,607.25 56.82,607.75 57.01,608.25 57.22,608.75 57.61,609.25 58.54,609.75 59.88,610.24 61.50,610.74 63.23,611.24 64.92,611.74 66.42,612.24 67.58,612.74 68.23,613.24 68.15,613.74 66.87,614.24 64.72,614.74 62.20,615.24 59.78,615.74 57.95,616.24 57.10,616.74 56.60,617.24 56.20,617.74 55.86,618.24 55.58,618.74 55.33,619.24 55.10,619.73 54.87,620.23 54.65,620.73 54.44,621.23 54.25,621.73 54.08,622.23 53.92,622.73 53.79,623.23 53.69,623.73 53.61,624.23 52.39,624.23 52.31,623.73 52.21,623.23 52.08,622.73 51.92,622.23 51.75,621.73 51.56,621.23 51.35,620.73 51.13,620.23 50.90,619.73 50.67,619.24 50.42,618.74 50.14,618.24 49.80,617.74 49.40,617.24 48.90,616.74 48.05,616.24 46.22,615.74 43.80,615.24 41.28,614.74 39.13,614.24 37.85,613.74 37.77,613.24 38.42,612.74 39.58,612.24 41.08,611.74 42.77,611.24 44.50,610.74 46.12,610.24 47.46,609.75 48.39,609.25 48.78,608.75 48.99,608.25 49.18,607.75 49.35,607.25 49.50,606.75 49.63,606.25 49.74,605.75 49.84,605.25 49.93,604.75 50.02,604.25 50.10,603.75 50.17,603.25 50.24,602.75 50.31,602.25 50.38,601.75 50.44,601.25 50.50,600.76 50.55,600.26 50.61,599.76 50.66,599.26 50.70,598.76 50.75,598.26 50.79,597.76 50.83,597.26 50.88,596.76 50.92,596.26 50.96,595.76 51.00,595.26 51.05,594.76 51.09,594.26 51.14,593.76 51.19,593.26 51.24,592.76 51.29,592.26 51.33,591.77 51.38,591.27 51.42,590.77 51.47,590.27 51.51,589.77 51.56,589.27 51.61,588.77 51.65,588.27 51.70,587.77 51.75,587.27 51.80,586.77 51.86,586.27 51.91,585.77 51.97,585.27 52.03,584.77 52.09,584.27 52.16,583.77 52.24,583.27 52.31,582.78 52.40,582.28 52.48,581.78 52.57,581.28 52.66,580.78 52.75,580.28 52.85,579.78" fill="#f7c6c6" stroke="#777" stroke-width="0.35"/>
<line x1="99.1" y1="567.5" x2="99.1" y2="641.1" stroke="#c8c8c8" stroke-width="0.9"/>
<polygon points="99.25,569.05 99.36,569.79 99.65,570.53 100.10,571.27 100.67,572.01 101.32,572.75 102.02,573.49 102.92,574.23 104.31,574.97 106.00,575.71 107.80,576.45 109.50,577.19 110.91,577.94 111.94,578.68 112.95,579.42 113.81,580.16 114.34,580.90 114.39,581.64 114.02,582.38 113.37,583.12 112.58,583.86 111.76,584.60 111.00,585.34 110.14,586.08 109.21,586.82 108.28,587.56 107.42,588.30 106.71,589.04 106.05,589.78 105.40,590.53 104.79,591.27 104.27,592.01 103.90,592.75 103.71,593.49 103.65,594.23 103.61,594.97 103.57,595.71 103.53,596.45 103.50,597.19 103.47,597.93 103.45,598.67 103.43,599.41 103.41,600.15 103.40,600.89 103.40,601.63 103.39,602.37 103.39,603.11 103.39,603.86 103.39,604.60 103.39,605.34 103.39,606.08 103.39,606.82 103.39,607.56 103.39,608.30 103.39,609.04 103.39,609.78 103.39,610.52 103.39,611.26 103.39,612.00 103.39,612.74 103.39,613.48 103.32,614.22 103.13,614.96 102.85,615.70 102.53,616.45 102.20,617.19 101.90,617.93 101.67,618.67 101.56,619.41 101.58,620.15 101.72,620.89 101.90,621.63 102.09,622.37 102.26,623.11 102.45,623.85 102.63,624.59 102.76,625.33 102.77,626.07 102.68,626.81 102.51,627.55 102.29,628.29 102.03,629.03 101.76,629.78 101.50,630.52 101.21,631.26 100.88,632.00 100.52,632.74 100.12,633.48 99.70,634.22 99.25,634.96 98.95,634.96 98.50,634.22 98.08,633.48 97.68,632.74 97.32,632.00 96.99,631.26 96.70,630.52 96.44,629.78 96.17,629.03 95.91,628.29 95.69,627.55 95.52,626.81 95.43,626.07 95.44,625.33 95.57,624.59 95.75,623.85 95.94,623.11 96.11,622.37 96.30,621.63 96.48,620.89 96.62,620.15 96.64,619.41 96.53,618.67 96.30,617.93 96.00,617.19 95.67,616.45 95.35,615.70 95.07,614.96 94.88,614.22 94.81,613.48 94.81,612.74 94.81,612.00 94.81,611.26 94.81,610.52 94.81,609.78 94.81,609.04 94.81,608.30 94.81,607.56 94.81,606.82 94.81,606.08 94.81,605.34 94.81,604.60 94.81,603.86 94.81,603.11 94.81,602.37 94.80,601.63 94.80,600.89 94.79,600.15 94.77,599.41 94.75,598.67 94.73,597.93 94.70,597.19 94.67,596.45 94.63,595.71 94.59,594.97 94.55,594.23 94.49,593.49 94.30,592.75 93.93,592.01 93.41,591.27 92.80,590.53 92.15,589.78 91.49,589.04 90.78,588.30 89.92,587.56 88.99,586.82 88.06,586.08 87.20,585.34 86.44,584.60 85.62,583.86 84.83,583.12 84.18,582.38 83.81,581.64 83.86,580.90 84.39,580.16 85.25,579.42 86.26,578.68 87.29,577.94 88.70,577.19 90.40,576.45 92.20,575.71 93.89,574.97 95.28,574.23 96.18,573.49 96.88,572.75 97.53,572.01 98.10,571.27 98.55,570.53 98.84,569.79 98.95,569.05" fill="#a80000" stroke="#777" stroke-width="0.35"/>
<line x1="145.1" y1="566.0" x2="145.1" y2="645.7" stroke="#c8c8c8" stroke-width="0.9"/>
<polygon points="145.25,578.25 145.26,578.77 145.28,579.29 145.32,579.82 145.37,580.34 145.43,580.86 145.49,581.39 145.57,581.91 145.65,582.43 145.73,582.96 145.87,583.48 146.06,584.00 146.30,584.53 146.57,585.05 146.88,585.58 147.20,586.10 147.53,586.62 147.85,587.15 148.15,587.67 148.43,588.19 148.68,588.72 148.88,589.24 149.09,589.76 149.30,590.29 149.51,590.81 149.72,591.33 149.92,591.86 150.10,592.38 150.27,592.91 150.41,593.43 150.51,593.95 150.59,594.48 150.62,595.00 150.62,595.52 150.61,596.05 150.59,596.57 150.57,597.09 150.54,597.62 150.51,598.14 150.47,598.66 150.42,599.19 150.37,599.71 150.32,600.24 150.26,600.76 150.20,601.28 150.13,601.81 150.07,602.33 149.99,602.85 149.86,603.38 149.65,603.90 149.41,604.42 149.17,604.95 148.97,605.47 148.82,605.99 148.78,606.52 148.81,607.04 148.88,607.57 149.00,608.09 149.16,608.61 149.35,609.14 149.59,609.66 149.86,610.18 150.37,610.71 152.00,611.23 154.39,611.75 156.95,612.28 159.12,612.80 160.33,613.32 160.08,613.85 158.51,614.37 156.16,614.90 153.56,615.42 151.27,615.94 149.83,616.47 149.27,616.99 148.82,617.51 148.44,618.04 148.11,618.56 147.83,619.08 147.59,619.61 147.36,620.13 147.15,620.65 146.93,621.18 146.72,621.70 146.51,622.22 146.32,622.75 146.14,623.27 145.98,623.80 145.84,624.32 145.71,624.84 144.49,624.84 144.36,624.32 144.22,623.80 144.06,623.27 143.88,622.75 143.69,622.22 143.48,621.70 143.27,621.18 143.05,620.65 142.84,620.13 142.61,619.61 142.37,619.08 142.09,618.56 141.76,618.04 141.38,617.51 140.93,616.99 140.37,616.47 138.93,615.94 136.64,615.42 134.04,614.90 131.69,614.37 130.12,613.85 129.87,613.32 131.08,612.80 133.25,612.28 135.81,611.75 138.20,611.23 139.83,610.71 140.34,610.18 140.61,609.66 140.85,609.14 141.04,608.61 141.20,608.09 141.32,607.57 141.39,607.04 141.42,606.52 141.38,605.99 141.23,605.47 141.03,604.95 140.79,604.42 140.55,603.90 140.34,603.38 140.21,602.85 140.13,602.33 140.07,601.81 140.00,601.28 139.94,600.76 139.88,600.24 139.83,599.71 139.78,599.19 139.73,598.66 139.69,598.14 139.66,597.62 139.63,597.09 139.61,596.57 139.59,596.05 139.58,595.52 139.58,595.00 139.61,594.48 139.69,593.95 139.79,593.43 139.93,592.91 140.10,592.38 140.28,591.86 140.48,591.33 140.69,590.81 140.90,590.29 141.11,589.76 141.32,589.24 141.52,588.72 141.77,588.19 142.05,587.67 142.35,587.15 142.67,586.62 143.00,586.10 143.32,585.58 143.63,585.05 143.90,584.53 144.14,584.00 144.33,583.48 144.47,582.96 144.55,582.43 144.63,581.91 144.71,581.39 144.77,580.86 144.83,580.34 144.88,579.82 144.92,579.29 144.94,578.77 144.95,578.25" fill="#f7c2c2" stroke="#777" stroke-width="0.35"/>
<polygon points="191.25,607.98 192.16,608.31 193.01,608.64 193.79,608.96 194.49,609.29 195.08,609.62 195.57,609.95 196.03,610.27 196.48,610.60 196.88,610.93 197.21,611.25 197.43,611.58 197.54,611.91 197.39,612.24 196.92,612.56 196.34,612.89 195.86,613.22 195.70,613.54 196.10,613.87 196.97,614.20 198.14,614.53 199.42,614.85 200.63,615.18 201.58,615.51 202.09,615.84 202.05,616.16 201.61,616.49 200.94,616.82 200.17,617.14 199.46,617.47 198.94,617.80 198.77,618.13 198.98,618.45 199.50,618.78 200.26,619.11 201.16,619.43 202.14,619.76 203.10,620.09 203.97,620.42 204.68,620.74 205.13,621.07 205.35,621.40 205.54,621.73 205.71,622.05 205.88,622.38 206.02,622.71 206.15,623.03 206.25,623.36 206.33,623.69 206.39,624.02 206.42,624.34 206.42,624.67 206.33,625.00 206.15,625.32 205.91,625.65 205.62,625.98 205.29,626.31 204.95,626.63 204.53,626.96 203.93,627.29 203.22,627.62 202.42,627.94 201.60,628.27 200.81,628.60 200.09,628.92 199.48,629.25 198.91,629.58 198.37,629.91 197.84,630.23 197.33,630.56 196.84,630.89 196.37,631.22 195.92,631.54 195.49,631.87 195.09,632.20 194.70,632.52 194.31,632.85 193.92,633.18 193.56,633.51 193.21,633.83 192.88,634.16 192.58,634.49 192.32,634.81 192.09,635.14 191.91,635.47 191.73,635.80 191.58,636.12 191.44,636.45 191.33,636.78 191.25,637.11 190.95,637.11 190.87,636.78 190.76,636.45 190.62,636.12 190.47,635.80 190.29,635.47 190.11,635.14 189.88,634.81 189.62,634.49 189.32,634.16 188.99,633.83 188.64,633.51 188.28,633.18 187.89,632.85 187.50,632.52 187.11,632.20 186.71,631.87 186.28,631.54 185.83,631.22 185.36,630.89 184.87,630.56 184.36,630.23 183.83,629.91 183.29,629.58 182.72,629.25 182.11,628.92 181.39,628.60 180.60,628.27 179.78,627.94 178.98,627.62 178.27,627.29 177.67,626.96 177.25,626.63 176.91,626.31 176.58,625.98 176.29,625.65 176.05,625.32 175.87,625.00 175.78,624.67 175.78,624.34 175.81,624.02 175.87,623.69 175.95,623.36 176.05,623.03 176.18,622.71 176.32,622.38 176.49,622.05 176.66,621.73 176.85,621.40 177.07,621.07 177.52,620.74 178.23,620.42 179.10,620.09 180.06,619.76 181.04,619.43 181.94,619.11 182.70,618.78 183.22,618.45 183.43,618.13 183.26,617.80 182.74,617.47 182.03,617.14 181.26,616.82 180.59,616.49 180.15,616.16 180.11,615.84 180.62,615.51 181.57,615.18 182.78,614.85 184.06,614.53 185.23,614.20 186.10,613.87 186.50,613.54 186.34,613.22 185.86,612.89 185.28,612.56 184.81,612.24 184.66,611.91 184.77,611.58 184.99,611.25 185.32,610.93 185.72,610.60 186.17,610.27 186.63,609.95 187.12,609.62 187.71,609.29 188.41,608.96 189.19,608.64 190.04,608.31 190.95,607.98" fill="#2b2bff" stroke="#777" stroke-width="0.35"/>
<line x1="53" y1="686.3" x2="53" y2="716.9" stroke="#c8c8c8" stroke-width="0.9"/>
<polygon points="53.15,687.79 53.18,688.03 53.22,688.27 53.26,688.51 53.31,688.75 53.36,689.00 53.42,689.24 53.48,689.48 53.55,689.72 53.62,689.96 53.70,690.20 53.78,690.44 53.86,690.68 53.94,690.92 54.03,691.17 54.12,691.41 54.22,691.65 54.33,691.89 54.44,692.13 54.56,692.37 54.69,692.61 54.82,692.85 54.97,693.09 55.12,693.34 55.29,693.58 55.47,693.82 55.66,694.06 55.86,694.30 56.07,694.54 56.31,694.78 56.58,695.02 56.90,695.26 57.26,695.51 57.69,695.75 58.18,695.99 58.75,696.23 59.49,696.47 61.04,696.71 63.08,696.95 65.07,697.19 66.47,697.43 66.74,697.68 66.03,697.92 64.81,698.16 63.48,698.40 62.48,698.64 62.20,698.88 62.30,699.12 62.51,699.36 62.79,699.60 63.09,699.85 63.37,700.09 63.59,700.33 63.72,700.57 63.71,700.81 63.61,701.05 63.43,701.29 63.18,701.53 62.89,701.77 62.56,702.02 62.20,702.26 61.84,702.50 61.48,702.74 61.15,702.98 60.84,703.22 60.53,703.46 60.20,703.70 59.86,703.94 59.51,704.19 59.16,704.43 58.81,704.67 58.45,704.91 58.10,705.15 57.75,705.39 57.41,705.63 57.08,705.87 56.77,706.11 56.46,706.36 56.16,706.60 55.87,706.84 55.58,707.08 55.29,707.32 55.00,707.56 54.73,707.80 54.45,708.04 54.18,708.28 53.92,708.53 53.66,708.77 53.40,709.01 53.15,709.25 52.85,709.25 52.60,709.01 52.34,708.77 52.08,708.53 51.82,708.28 51.55,708.04 51.27,707.80 51.00,707.56 50.71,707.32 50.42,707.08 50.13,706.84 49.84,706.60 49.54,706.36 49.23,706.11 48.92,705.87 48.59,705.63 48.25,705.39 47.90,705.15 47.55,704.91 47.19,704.67 46.84,704.43 46.49,704.19 46.14,703.94 45.80,703.70 45.47,703.46 45.16,703.22 44.85,702.98 44.52,702.74 44.16,702.50 43.80,702.26 43.44,702.02 43.11,701.77 42.82,701.53 42.57,701.29 42.39,701.05 42.29,700.81 42.28,700.57 42.41,700.33 42.63,700.09 42.91,699.85 43.21,699.60 43.49,699.36 43.70,699.12 43.80,698.88 43.52,698.64 42.52,698.40 41.19,698.16 39.97,697.92 39.26,697.68 39.53,697.43 40.93,697.19 42.92,696.95 44.96,696.71 46.51,696.47 47.25,696.23 47.82,695.99 48.31,695.75 48.74,695.51 49.10,695.26 49.42,695.02 49.69,694.78 49.93,694.54 50.14,694.30 50.34,694.06 50.53,693.82 50.71,693.58 50.88,693.34 51.03,693.09 51.18,692.85 51.31,692.61 51.44,692.37 51.56,692.13 51.67,691.89 51.78,691.65 51.88,691.41 51.97,691.17 52.06,690.92 52.14,690.68 52.22,690.44 52.30,690.20 52.38,689.96 52.45,689.72 52.52,689.48 52.58,689.24 52.64,689.00 52.69,688.75 52.74,688.51 52.78,688.27 52.82,688.03 52.85,687.79" fill="#c9c9f6" stroke="#777" stroke-width="0.35"/>
<line x1="99.1" y1="666.3" x2="99.1" y2="701.6" stroke="#c8c8c8" stroke-width="0.9"/>
<polygon points="99.25,667.86 99.26,668.23 99.26,668.59 99.28,668.95 99.30,669.31 99.33,669.67 99.36,670.03 99.40,670.40 99.44,670.76 99.49,671.12 99.55,671.48 99.61,671.84 99.68,672.20 99.76,672.57 99.84,672.93 99.93,673.29 100.02,673.65 100.13,674.01 100.24,674.37 100.35,674.74 100.48,675.10 100.61,675.46 100.84,675.82 101.33,676.18 102.01,676.54 102.84,676.91 103.74,677.27 104.67,677.63 105.55,677.99 106.33,678.35 106.96,678.71 107.55,679.08 108.15,679.44 108.74,679.80 109.32,680.16 109.89,680.52 110.43,680.88 110.94,681.25 111.42,681.61 111.85,681.97 112.23,682.33 112.55,682.69 112.81,683.05 113.02,683.42 113.22,683.78 113.40,684.14 113.56,684.50 113.69,684.86 113.78,685.22 113.81,685.59 113.79,685.95 113.70,686.31 113.54,686.67 113.34,687.03 113.09,687.39 112.80,687.76 112.49,688.12 112.16,688.48 111.82,688.84 111.48,689.20 111.12,689.56 110.69,689.93 110.19,690.29 109.65,690.65 109.06,691.01 108.46,691.37 107.85,691.73 107.24,692.10 106.65,692.46 106.02,692.82 105.33,693.18 104.61,693.54 103.89,693.90 103.20,694.27 102.58,694.63 102.05,694.99 101.64,695.35 101.35,695.71 101.07,696.07 100.80,696.44 100.54,696.80 100.30,697.16 100.07,697.52 99.87,697.88 99.69,698.24 99.54,698.61 99.42,698.97 99.33,699.33 99.27,699.69 99.25,700.05 98.95,700.05 98.93,699.69 98.87,699.33 98.78,698.97 98.66,698.61 98.51,698.24 98.33,697.88 98.13,697.52 97.90,697.16 97.66,696.80 97.40,696.44 97.13,696.07 96.85,695.71 96.56,695.35 96.15,694.99 95.62,694.63 95.00,694.27 94.31,693.90 93.59,693.54 92.87,693.18 92.18,692.82 91.55,692.46 90.96,692.10 90.35,691.73 89.74,691.37 89.14,691.01 88.55,690.65 88.01,690.29 87.51,689.93 87.08,689.56 86.72,689.20 86.38,688.84 86.04,688.48 85.71,688.12 85.40,687.76 85.11,687.39 84.86,687.03 84.66,686.67 84.50,686.31 84.41,685.95 84.39,685.59 84.42,685.22 84.51,684.86 84.64,684.50 84.80,684.14 84.98,683.78 85.18,683.42 85.39,683.05 85.65,682.69 85.97,682.33 86.35,681.97 86.78,681.61 87.26,681.25 87.77,680.88 88.31,680.52 88.88,680.16 89.46,679.80 90.05,679.44 90.65,679.08 91.24,678.71 91.87,678.35 92.65,677.99 93.53,677.63 94.46,677.27 95.36,676.91 96.19,676.54 96.87,676.18 97.36,675.82 97.59,675.46 97.72,675.10 97.85,674.74 97.96,674.37 98.07,674.01 98.18,673.65 98.27,673.29 98.36,672.93 98.44,672.57 98.52,672.20 98.59,671.84 98.65,671.48 98.71,671.12 98.76,670.76 98.80,670.40 98.84,670.03 98.87,669.67 98.90,669.31 98.92,668.95 98.94,668.59 98.94,668.23 98.95,667.86" fill="#f01a1a" stroke="#777" stroke-width="0.35"/>
<line x1="145.1" y1="667.9" x2="145.1" y2="709.2" stroke="#c8c8c8" stroke-width="0.9"/>
<polygon points="145.25,669.40 145.28,669.83 145.31,670.26 145.36,670.69 145.42,671.12 145.48,671.55 145.56,671.98 145.65,672.41 145.74,672.84 145.84,673.27 145.95,673.70 146.07,674.13 146.19,674.56 146.32,674.99 146.46,675.42 146.60,675.85 146.74,676.29 146.88,676.72 147.03,677.15 147.19,677.58 147.34,678.01 147.50,678.44 147.67,678.87 147.89,679.30 148.16,679.73 148.47,680.16 148.80,680.59 149.15,681.02 149.50,681.45 149.85,681.88 150.18,682.31 150.48,682.74 150.75,683.17 150.97,683.61 151.13,684.04 151.22,684.47 151.21,684.90 151.05,685.33 150.75,685.76 150.37,686.19 149.99,686.62 149.66,687.05 149.44,687.48 149.40,687.91 149.52,688.34 149.78,688.77 150.14,689.20 150.57,689.63 151.02,690.06 151.48,690.49 151.91,690.92 152.34,691.36 152.79,691.79 153.27,692.22 153.77,692.65 154.29,693.08 154.83,693.51 155.38,693.94 155.94,694.37 156.50,694.80 157.07,695.23 157.66,695.66 158.43,696.09 159.24,696.52 159.94,696.95 160.37,697.38 160.33,697.81 159.62,698.24 158.43,698.67 157.01,699.11 155.61,699.54 154.47,699.97 153.66,700.40 152.92,700.83 152.23,701.26 151.58,701.69 150.97,702.12 150.40,702.55 149.86,702.98 149.35,703.41 148.85,703.84 148.37,704.27 147.90,704.70 147.45,705.13 147.02,705.56 146.61,705.99 146.23,706.42 145.87,706.86 145.55,707.29 145.25,707.72 144.95,707.72 144.65,707.29 144.33,706.86 143.97,706.42 143.59,705.99 143.18,705.56 142.75,705.13 142.30,704.70 141.83,704.27 141.35,703.84 140.85,703.41 140.34,702.98 139.80,702.55 139.23,702.12 138.62,701.69 137.97,701.26 137.28,700.83 136.54,700.40 135.73,699.97 134.59,699.54 133.19,699.11 131.77,698.67 130.58,698.24 129.87,697.81 129.83,697.38 130.26,696.95 130.96,696.52 131.77,696.09 132.54,695.66 133.13,695.23 133.70,694.80 134.26,694.37 134.82,693.94 135.37,693.51 135.91,693.08 136.43,692.65 136.93,692.22 137.41,691.79 137.86,691.36 138.29,690.92 138.72,690.49 139.18,690.06 139.63,689.63 140.06,689.20 140.42,688.77 140.68,688.34 140.80,687.91 140.76,687.48 140.54,687.05 140.21,686.62 139.83,686.19 139.45,685.76 139.15,685.33 138.99,684.90 138.98,684.47 139.07,684.04 139.23,683.61 139.45,683.17 139.72,682.74 140.02,682.31 140.35,681.88 140.70,681.45 141.05,681.02 141.40,680.59 141.73,680.16 142.04,679.73 142.31,679.30 142.53,678.87 142.70,678.44 142.86,678.01 143.01,677.58 143.17,677.15 143.32,676.72 143.46,676.29 143.60,675.85 143.74,675.42 143.88,674.99 144.01,674.56 144.13,674.13 144.25,673.70 144.36,673.27 144.46,672.84 144.55,672.41 144.64,671.98 144.72,671.55 144.78,671.12 144.84,670.69 144.89,670.26 144.92,669.83 144.95,669.40" fill="#f5b9b9" stroke="#777" stroke-width="0.35"/>
<polygon points="191.25,679.21 191.81,679.51 192.36,679.81 192.92,680.12 193.49,680.42 194.05,680.72 194.62,681.03 195.19,681.33 195.77,681.63 196.34,681.93 196.92,682.24 197.50,682.54 198.09,682.84 198.68,683.15 199.31,683.45 200.03,683.75 200.82,684.06 201.62,684.36 202.42,684.66 203.16,684.97 203.81,685.27 204.34,685.57 204.71,685.87 204.89,686.18 204.84,686.48 204.61,686.78 204.24,687.09 203.75,687.39 203.19,687.69 202.58,688.00 201.97,688.30 201.38,688.60 200.85,688.91 200.43,689.21 200.10,689.51 199.77,689.82 199.43,690.12 199.11,690.42 198.80,690.72 198.51,691.03 198.27,691.33 198.07,691.63 197.93,691.94 197.85,692.24 197.87,692.54 198.09,692.85 198.47,693.15 199.00,693.45 199.62,693.76 200.32,694.06 201.04,694.36 201.77,694.67 202.45,694.97 203.05,695.27 203.56,695.57 204.11,695.88 204.68,696.18 205.24,696.48 205.74,696.79 206.14,697.09 206.38,697.39 206.41,697.70 206.21,698.00 205.79,698.30 205.21,698.61 204.53,698.91 203.78,699.21 203.03,699.52 202.32,699.82 201.70,700.12 201.09,700.42 200.47,700.73 199.84,701.03 199.20,701.33 198.56,701.64 197.93,701.94 197.32,702.24 196.73,702.55 196.17,702.85 195.64,703.15 195.14,703.46 194.65,703.76 194.17,704.06 193.71,704.36 193.26,704.67 192.82,704.97 192.40,705.27 192.00,705.58 191.62,705.88 191.25,706.18 190.95,706.18 190.58,705.88 190.20,705.58 189.80,705.27 189.38,704.97 188.94,704.67 188.49,704.36 188.03,704.06 187.55,703.76 187.06,703.46 186.56,703.15 186.03,702.85 185.47,702.55 184.88,702.24 184.27,701.94 183.64,701.64 183.00,701.33 182.36,701.03 181.73,700.73 181.11,700.42 180.50,700.12 179.88,699.82 179.17,699.52 178.42,699.21 177.67,698.91 176.99,698.61 176.41,698.30 175.99,698.00 175.79,697.70 175.82,697.39 176.06,697.09 176.46,696.79 176.96,696.48 177.52,696.18 178.09,695.88 178.64,695.57 179.15,695.27 179.75,694.97 180.43,694.67 181.16,694.36 181.88,694.06 182.58,693.76 183.20,693.45 183.73,693.15 184.11,692.85 184.33,692.54 184.35,692.24 184.27,691.94 184.13,691.63 183.93,691.33 183.69,691.03 183.40,690.72 183.09,690.42 182.77,690.12 182.43,689.82 182.10,689.51 181.77,689.21 181.35,688.91 180.82,688.60 180.23,688.30 179.62,688.00 179.01,687.69 178.45,687.39 177.96,687.09 177.59,686.78 177.36,686.48 177.31,686.18 177.49,685.87 177.86,685.57 178.39,685.27 179.04,684.97 179.78,684.66 180.58,684.36 181.38,684.06 182.17,683.75 182.89,683.45 183.52,683.15 184.11,682.84 184.70,682.54 185.28,682.24 185.86,681.93 186.43,681.63 187.01,681.33 187.58,681.03 188.15,680.72 188.71,680.42 189.28,680.12 189.84,679.81 190.39,679.51 190.95,679.21" fill="#fcdede" stroke="#777" stroke-width="0.35"/>
<text x="53.0" y="742.0" font-size="8.0" font-weight="bold" text-anchor="middle" fill="#111">Healthy</text>
<text x="99.1" y="742.0" font-size="8.0" font-weight="bold" text-anchor="middle" fill="#111">Reactivity</text>
<text x="145.1" y="742.0" font-size="8.0" font-weight="bold" text-anchor="middle" fill="#111">EMT</text>
<text x="191.1" y="742.0" font-size="8.0" font-weight="bold" text-anchor="middle" fill="#111">NPC</text>
<text transform="translate(6.8,649.5) rotate(-90)" font-size="9" font-weight="bold" text-anchor="middle" fill="#111">DEG (Log<tspan font-size="6.2" dy="1.7">2</tspan><tspan dy="-1.7">FC)</tspan></text>
<text transform="translate(237.8,605.8) rotate(-90)" font-size="11" text-anchor="middle" fill="#222">NPC (SCI)</text>
<text transform="translate(247.7,605.8) rotate(-90)" font-size="11" text-anchor="middle" fill="#222">relative to</text>
<text transform="translate(257.6,605.8) rotate(-90)" font-size="11" text-anchor="middle" fill="#222">Pre-graft NPC</text>
<text transform="translate(237.8,692.4) rotate(-90)" font-size="11" text-anchor="middle" fill="#222">Astros (SCI)</text>
<text transform="translate(247.7,692.4) rotate(-90)" font-size="11" text-anchor="middle" fill="#222">relative to</text>
<text transform="translate(257.6,692.4) rotate(-90)" font-size="11" text-anchor="middle" fill="#222">Healthy Astros</text>
<text x="288.8" y="519.9" font-size="9.5" font-weight="bold">k</text>
<text x="311.4" y="523.4" font-size="10.24" font-weight="bold">Healthy Astro gene panel</text>
<text x="314.2" y="540.9" font-size="10" font-weight="bold" text-anchor="middle" fill="#111">DEG</text>
<text x="314.2" y="552.7" font-size="10.1" font-weight="bold" text-anchor="middle" fill="#111">NPC in SCI</text>
<text x="314.2" y="562.0" font-size="8.1" text-anchor="middle" fill="#333">Log<tspan font-size="5.5" dy="1.5">2</tspan><tspan dy="-1.5">FC</tspan></text>
<text x="314.2" y="570.2" font-size="8.1" text-anchor="middle" fill="#333">relative to</text>
<text x="314.2" y="578.6" font-size="8.1" text-anchor="middle" fill="#333">Pre-graft NPC</text>
<text x="460.6" y="698.7" font-size="10" font-weight="bold" text-anchor="middle" fill="#111">DEG</text>
<text x="460.6" y="710.5" font-size="10.1" font-weight="bold" text-anchor="middle" fill="#111">Astros in SCI</text>
<text x="460.6" y="719.8000000000001" font-size="8.1" text-anchor="middle" fill="#333">Log<tspan font-size="5.5" dy="1.5">2</tspan><tspan dy="-1.5">FC</tspan></text>
<text x="460.6" y="728.0" font-size="8.1" text-anchor="middle" fill="#333">relative to</text>
<text x="460.6" y="736.4" font-size="8.1" text-anchor="middle" fill="#333">healthy Astros</text>
<line x1="371.2" y1="537.5" x2="371.2" y2="744.0" stroke="#000" stroke-width="1.6"/>
<line x1="368.7" y1="540.2" x2="371.2" y2="540.2" stroke="#000" stroke-width="1.2"/>
<line x1="303.4" y1="675.5" x2="461.6" y2="675.5" stroke="#000" stroke-width="1.6"/>
<line x1="368.7" y1="585.2" x2="371.2" y2="585.2" stroke="#000" stroke-width="1.0"/>
<line x1="368.7" y1="630.3" x2="371.2" y2="630.3" stroke="#000" stroke-width="1.0"/>
<line x1="368.7" y1="720.7" x2="371.2" y2="720.7" stroke="#000" stroke-width="1.0"/>
<line x1="326.6" y1="675.5" x2="326.6" y2="678.0" stroke="#000" stroke-width="1.0"/>
<line x1="348.9" y1="675.5" x2="348.9" y2="678.0" stroke="#000" stroke-width="1.0"/>
<line x1="393.6" y1="675.5" x2="393.6" y2="678.0" stroke="#000" stroke-width="1.0"/>
<line x1="416.1" y1="675.5" x2="416.1" y2="678.0" stroke="#000" stroke-width="1.0"/>
<line x1="438.5" y1="675.5" x2="438.5" y2="678.0" stroke="#000" stroke-width="1.0"/>
<line x1="461.0" y1="675.5" x2="461.0" y2="678.0" stroke="#000" stroke-width="1.0"/>
<text x="368.0" y="543.9" font-size="9.4" font-weight="bold" text-anchor="end">12</text>
<text x="366.5" y="589.0" font-size="9.2" font-weight="bold" text-anchor="end">8</text>
<text x="366.5" y="634.0" font-size="9.2" font-weight="bold" text-anchor="end">4</text>
<text x="367.2" y="723.9" font-size="9.2" font-weight="bold" text-anchor="end">-4</text>
<text x="326.6" y="688.0" font-size="9.2" font-weight="bold" text-anchor="middle">-4</text>
<text x="416.1" y="688.4" font-size="9.2" font-weight="bold" text-anchor="middle">4</text>
<text x="461.0" y="688.4" font-size="9.2" font-weight="bold" text-anchor="middle">8</text>
<path d="M344.8 553.3h0M359.3 566.1h0M348.2 571.5h0M360.7 576.3h0M359.6 578.3h0M366.3 574.7h0M365.8 577.8h0M342.3 581.7h0M362.7 581.9h0M364.2 584.0h0M350.4 588.8h0M355.5 587.8h0M361.2 588.0h0M354.5 593.1h0M359.6 596.0h0M361.7 596.0h0M353.0 598.2h0M349.4 601.1h0M359.1 602.3h0M341.8 602.5h0M343.3 604.9h0M347.4 605.4h0M348.9 607.4h0M354.5 608.3h0M362.7 606.4h0M381.9 554.8h0M381.1 576.3h0M381.1 590.1h0M379.0 617.8h0M383.1 624.2h0M388.8 623.4h0M379.0 627.5h0M380.6 634.6h0M380.0 640.3h0M379.6 648.4h0M376.0 659.7h0M378.0 658.6h0M382.1 655.6h0M379.6 663.2h0M377.0 669.2h0M337.7 628.7h0M342.8 619.8h0M349.4 623.4h0M343.3 611.6h0M344.3 635.7h0M347.4 644.9h0M350.4 647.4h0M340.2 656.6h0M344.8 656.1h0M349.9 665.3h0M353.5 668.9h0M366.3 669.2h0M359.5 682.3h0M364.3 683.2h0M361.4 686.0h0M355.6 688.0h0M349.8 689.0h0M354.7 691.0h0M360.5 692.0h0M363.4 693.9h0M371.0 691.0h0M351.8 697.7h0M346.0 698.7h0M355.6 700.6h0M360.5 699.7h0M365.3 700.6h0M349.8 706.4h0M355.6 704.5h0M361.4 706.4h0M351.8 711.3h0M359.5 712.2h0M344.0 712.2h0M343.0 718.0h0M338.2 720.0h0M353.7 716.1h0M365.3 711.3h0M371.0 685.0h0M371.0 696.8h0M379.4 688.0h0M384.2 694.8h0M382.8 729.7h0M328.6 616.0h0M313.0 675.5h0M303.5 675.5h0M328.5 675.5h0M332.4 675.5h0M375.5 675.5h0M380.0 675.5h0M385.0 675.5h0M390.0 675.5h0M395.0 675.5h0M364.1 660.1h0M356.9 625.1h0M354.2 609.0h0M360.3 621.7h0M354.9 671.3h0M366.4 662.6h0M353.8 639.0h0M360.9 610.1h0M357.9 624.2h0M366.0 610.3h0M361.0 664.3h0M349.7 666.0h0M365.8 607.2h0M356.6 635.3h0M349.1 627.8h0M364.2 627.2h0M347.7 652.8h0M355.2 659.5h0M349.9 627.4h0M364.0 640.0h0M356.7 621.8h0M346.1 662.6h0M353.2 669.7h0M354.0 668.7h0M357.9 622.1h0M362.5 651.2h0M361.1 637.1h0M349.5 648.9h0M346.7 652.4h0M359.9 631.2h0M364.0 619.0h0M353.8 659.5h0M353.5 653.8h0M359.3 669.0h0M368.8 654.5h0M364.2 616.2h0M361.8 662.8h0M354.0 643.1h0M356.0 670.2h0M351.9 632.9h0M359.8 668.6h0M367.1 627.9h0M368.7 618.6h0M364.6 616.5h0M354.1 610.9h0M365.5 661.5h0M347.5 641.3h0M350.5 638.9h0M357.8 613.1h0M365.6 624.7h0M355.2 609.8h0M352.5 668.2h0M366.2 638.2h0M355.4 650.7h0M365.5 628.6h0M363.8 632.7h0M358.9 655.4h0M356.5 652.3h0M349.3 619.6h0M359.0 665.4h0M352.7 630.5h0M354.4 651.6h0M363.6 669.0h0M353.4 653.4h0M352.5 661.2h0M349.8 664.4h0M356.6 654.6h0M357.4 627.2h0M356.4 609.4h0M355.9 661.8h0M356.3 646.1h0M362.2 641.2h0M358.1 638.9h0M359.4 622.6h0M357.8 651.0h0M348.8 672.4h0M362.7 670.0h0M351.3 635.7h0M365.5 617.0h0M361.2 622.7h0M360.9 639.6h0M357.7 636.4h0M350.9 638.7h0M367.1 619.5h0M362.3 622.8h0M348.8 627.7h0M346.3 668.7h0M353.1 617.8h0M349.4 634.0h0M359.0 671.7h0M366.3 622.2h0M359.3 667.7h0M346.5 663.2h0M353.9 658.4h0M352.1 647.9h0M356.7 613.0h0M363.0 661.1h0M356.1 632.0h0M367.7 631.1h0M366.0 634.0h0M353.3 630.2h0M357.5 635.6h0M367.0 615.0h0M353.3 669.7h0M346.8 633.5h0M364.0 607.3h0M345.7 668.3h0M361.1 623.5h0M356.0 622.7h0M366.3 669.6h0M345.8 641.1h0M348.6 633.1h0M362.5 653.8h0M348.7 628.3h0M354.6 631.9h0M361.1 658.8h0M352.4 635.6h0M367.7 639.6h0M357.9 646.6h0M358.2 659.9h0M350.5 627.2h0M366.2 639.5h0M368.0 615.3h0M363.6 637.7h0M355.8 665.0h0M347.3 640.5h0M350.2 629.0h0M364.4 632.7h0M363.6 606.9h0M369.0 670.0h0M361.0 619.2h0M360.4 618.7h0M353.3 608.3h0M348.5 662.2h0M350.1 661.3h0M364.4 607.0h0M367.3 621.2h0M350.6 645.2h0M349.1 671.3h0M353.2 644.3h0M358.3 624.9h0M358.9 611.6h0M364.2 650.7h0M356.2 649.8h0M350.5 626.4h0M356.9 610.6h0M358.7 618.2h0M350.3 666.3h0M358.7 622.3h0M366.4 659.5h0M345.5 628.7h0M343.2 630.7h0M347.4 627.8h0M347.5 614.1h0M338.7 662.1h0M338.1 670.6h0M349.6 657.8h0M338.7 619.7h0M349.9 634.5h0M346.8 614.1h0M340.6 638.8h0M348.6 641.6h0M339.5 663.2h0M340.0 635.0h0M346.2 627.1h0M343.9 664.5h0M344.4 641.6h0M350.5 629.9h0M342.4 664.2h0M338.9 663.2h0M349.6 665.1h0M338.8 621.8h0M348.9 634.8h0M338.1 651.7h0M349.2 670.3h0M371.2 550.2h0M371.2 563.3h0M371.2 570.5h0M371.2 578.8h0M371.2 582.9h0M371.2 587.0h0M371.2 590.6h0M371.2 595.0h0M371.2 598.2h0M371.2 601.4h0M371.2 604.6h0M371.2 607.8h0M371.2 611.0h0M371.2 614.2h0M371.2 617.4h0M371.2 620.6h0M371.2 623.8h0M371.2 627.0h0M371.2 630.2h0M371.2 633.4h0M371.2 636.6h0M371.2 639.8h0M371.2 643.0h0M371.2 646.2h0M371.2 649.4h0M371.2 652.6h0M371.2 655.8h0M371.2 659.0h0M371.2 662.2h0M371.2 665.4h0M371.2 668.6h0M371.2 671.8h0M338.0 675.5h0M340.6 675.5h0M343.2 675.5h0M345.8 675.5h0M348.4 675.5h0M351.0 675.5h0M353.6 675.5h0M356.2 675.5h0M358.8 675.5h0M361.4 675.5h0M364.0 675.5h0M366.6 675.5h0M369.2 675.5h0" stroke="#000" stroke-width="3.4" stroke-linecap="round" fill="none"/>
<line x1="371.2" y1="594.0" x2="371.2" y2="673.0" stroke="#000" stroke-width="3.0"/>
<circle cx="348.7" cy="586.0" r="3.0" fill="#1d8a8a"/>
<circle cx="344.4" cy="628.6" r="3.0" fill="#1d8a8a"/>
<circle cx="342.1" cy="638.7" r="3.0" fill="#1d8a8a"/>
<circle cx="347.0" cy="641.6" r="3.0" fill="#1d8a8a"/>
<circle cx="339.0" cy="654.2" r="3.0" fill="#1d8a8a"/>
<circle cx="348.2" cy="657.2" r="3.0" fill="#1d8a8a"/>
<circle cx="341.5" cy="675.5" r="3.0" fill="#1d8a8a"/>
<circle cx="344.0" cy="675.5" r="3.0" fill="#1d8a8a"/>
<circle cx="346.5" cy="675.5" r="3.0" fill="#1d8a8a"/>
<circle cx="349.0" cy="675.5" r="3.0" fill="#1d8a8a"/>
<circle cx="387.2" cy="544.4" r="3.0" fill="#a81414"/>
<circle cx="386.3" cy="576.7" r="3.0" fill="#a81414"/>
<circle cx="391.3" cy="581.6" r="3.0" fill="#a81414"/>
<circle cx="393.0" cy="614.0" r="3.0" fill="#a81414"/>
<circle cx="383.8" cy="641.7" r="3.0" fill="#a81414"/>
<circle cx="387.5" cy="643.7" r="3.0" fill="#a81414"/>
<circle cx="382.7" cy="659.8" r="3.0" fill="#a81414"/>
<circle cx="400.5" cy="665.8" r="3.0" fill="#a81414"/>
<text x="344.3" y="591.2" font-size="6.8" text-anchor="end" fill="#333">Gjb6</text>
<text x="334.7" y="627.0" font-size="6.8" text-anchor="end" fill="#333">Dio2</text>
<text x="338.6" y="637.7" font-size="6.8" text-anchor="end" fill="#333">Slc7a10</text>
<text x="338.6" y="644.5" font-size="6.8" text-anchor="end" fill="#333">Kcnj16</text>
<text x="337.8" y="655.2" font-size="6.8" text-anchor="end" fill="#333">Slc6a11</text>
<text x="343.6" y="664.8" font-size="6.8" text-anchor="end" fill="#333">Sparcl1</text>
<text x="316.0" y="670.6" font-size="6.8" text-anchor="end" fill="#333">Slc13a5</text>
<text x="338.2" y="673.2" font-size="6.8" text-anchor="end" fill="#333">Slc6a1</text>
<text x="332.4" y="685.2" font-size="6.8" fill="#333">Grin2c</text>
<text x="391.5" y="547.0" font-size="6.8" fill="#333">Chil1</text>
<text x="392.0" y="576.8" font-size="6.8" fill="#333">C4b</text>
<text x="395.7" y="583.8" font-size="6.8" fill="#333">Apoc1</text>
<text x="397.4" y="616.2" font-size="6.8" fill="#333">Hgf</text>
<text x="387.0" y="639.7" font-size="6.8" fill="#333">A2m</text>
<text x="391.7" y="645.5" font-size="6.8" fill="#333">Abca1</text>
<text x="386.5" y="661.9" font-size="6.8" fill="#333">Id3</text>
<text x="403.5" y="663.4" font-size="6.8" fill="#333">Vim</text>
<circle cx="479.2" cy="606.5" r="6.1" fill="#a81414"/>
<text x="479.0" y="620.6" font-size="8.15" text-anchor="middle" fill="#a81414">Select Congruent DEGs</text>
<circle cx="479.3" cy="639.7" r="6.1" fill="#1d8a8a"/>
<text x="479.0" y="654.6" font-size="8.15" text-anchor="middle" fill="#1d8a8a">Select Divergent DEGs</text>
<text x="486.0" y="519.4" font-size="9.5" font-weight="bold">l</text>
<text x="513.2" y="522.9" font-size="10.17" font-weight="bold">Reactivity gene panel</text>
<text x="520.9" y="540.9" font-size="10" font-weight="bold" text-anchor="middle" fill="#111">DEG</text>
<text x="520.9" y="552.7" font-size="10.1" font-weight="bold" text-anchor="middle" fill="#111">NPC in SCI</text>
<text x="520.9" y="562.0" font-size="8.1" text-anchor="middle" fill="#333">Log<tspan font-size="5.5" dy="1.5">2</tspan><tspan dy="-1.5">FC</tspan></text>
<text x="520.9" y="570.2" font-size="8.1" text-anchor="middle" fill="#333">relative to</text>
<text x="520.9" y="578.6" font-size="8.1" text-anchor="middle" fill="#333">Pre-graft NPC</text>
<text x="653.3" y="698.6" font-size="10" font-weight="bold" text-anchor="middle" fill="#111">DEG</text>
<text x="653.3" y="710.4" font-size="10.1" font-weight="bold" text-anchor="middle" fill="#111">Astros in SCI</text>
<text x="653.3" y="719.7" font-size="8.1" text-anchor="middle" fill="#333">Log<tspan font-size="5.5" dy="1.5">2</tspan><tspan dy="-1.5">FC</tspan></text>
<text x="653.3" y="727.9" font-size="8.1" text-anchor="middle" fill="#333">relative to</text>
<text x="653.3" y="736.3" font-size="8.1" text-anchor="middle" fill="#333">healthy Astros</text>
<line x1="563.3" y1="538.0" x2="563.3" y2="744.0" stroke="#000" stroke-width="1.6"/>
<line x1="560.8" y1="540.8" x2="563.3" y2="540.8" stroke="#000" stroke-width="1.2"/>
<line x1="495.0" y1="676.4" x2="653.5" y2="676.4" stroke="#000" stroke-width="1.6"/>
<line x1="560.8" y1="585.8" x2="563.3" y2="585.8" stroke="#000" stroke-width="1.0"/>
<line x1="560.8" y1="631.0" x2="563.3" y2="631.0" stroke="#000" stroke-width="1.0"/>
<line x1="560.8" y1="721.9" x2="563.3" y2="721.9" stroke="#000" stroke-width="1.0"/>
<line x1="517.8" y1="676.4" x2="517.8" y2="678.9" stroke="#000" stroke-width="1.0"/>
<line x1="540.5" y1="676.4" x2="540.5" y2="678.9" stroke="#000" stroke-width="1.0"/>
<line x1="586.0" y1="676.4" x2="586.0" y2="678.9" stroke="#000" stroke-width="1.0"/>
<line x1="608.2" y1="676.4" x2="608.2" y2="678.9" stroke="#000" stroke-width="1.0"/>
<line x1="630.8" y1="676.4" x2="630.8" y2="678.9" stroke="#000" stroke-width="1.0"/>
<line x1="653.3" y1="676.4" x2="653.3" y2="678.9" stroke="#000" stroke-width="1.0"/>
<text x="560.3" y="543.9" font-size="9.4" font-weight="bold" text-anchor="end">12</text>
<text x="560.3" y="588.7" font-size="9.2" font-weight="bold" text-anchor="end">8</text>
<text x="560.3" y="634.0" font-size="9.2" font-weight="bold" text-anchor="end">4</text>
<text x="560.3" y="725.0" font-size="9.2" font-weight="bold" text-anchor="end">-4</text>
<text x="517.8" y="688.0" font-size="9.2" font-weight="bold" text-anchor="middle">-4</text>
<text x="608.2" y="688.0" font-size="9.2" font-weight="bold" text-anchor="middle">4</text>
<text x="653.3" y="688.0" font-size="9.2" font-weight="bold" text-anchor="middle">8</text>
<path d="M616.5 550.7h0M592.4 554.5h0M612.7 554.1h0M608.6 556.6h0M614.6 559.8h0M588.2 563.9h0M605.2 562.0h0M607.1 561.1h0M609.0 563.5h0M617.4 563.9h0M620.3 565.4h0M623.1 560.7h0M625.9 562.6h0M592.0 569.2h0M600.5 571.1h0M604.2 570.1h0M608.0 571.1h0M615.5 568.2h0M618.4 568.2h0M615.5 571.1h0M591.1 573.9h0M600.5 574.8h0M604.2 576.7h0M609.0 575.8h0M612.7 574.8h0M616.5 575.8h0M599.5 579.5h0M605.2 578.6h0M611.8 578.6h0M614.6 577.7h0M620.3 581.4h0M622.1 580.5h0M593.0 582.4h0M597.7 580.5h0M595.8 586.1h0M603.3 586.1h0M610.8 587.1h0M630.6 586.1h0M572.2 579.9h0M577.9 576.7h0M588.2 591.8h0M590.1 592.7h0M600.5 591.8h0M602.4 594.6h0M598.6 595.5h0M584.5 600.3h0M605.2 601.2h0M609.9 601.2h0M586.4 608.7h0M590.1 609.7h0M597.7 608.7h0M606.1 609.7h0M605.2 612.5h0M609.0 611.5h0M613.7 610.6h0M585.4 614.4h0M605.2 614.4h0M595.8 619.1h0M594.8 620.0h0M590.1 621.0h0M605.2 618.1h0M579.8 625.7h0M603.3 625.7h0M604.2 627.6h0M582.6 631.3h0M610.8 632.3h0M624.0 626.6h0M622.1 630.4h0M642.8 626.6h0M581.7 637.9h0M585.4 637.9h0M589.2 637.0h0M592.0 637.9h0M596.7 638.9h0M593.0 641.7h0M594.8 642.6h0M602.4 639.8h0M610.8 643.6h0M588.2 648.3h0M585.4 651.1h0M599.5 651.1h0M604.2 653.0h0M616.5 648.3h0M582.6 654.9h0M590.1 653.0h0M573.2 657.7h0M573.2 662.4h0M579.8 663.3h0M588.2 659.6h0M589.2 663.3h0M593.0 665.2h0M594.8 664.3h0M563.8 619.1h0M609.0 675.6h0M613.7 675.2h0M582.6 675.2h0M585.4 675.2h0M588.2 675.2h0M591.1 675.2h0M595.8 675.2h0M599.5 675.2h0M601.4 675.2h0M584.5 683.8h0M585.5 693.3h0M596.0 690.0h0M578.0 698.6h0M595.5 700.7h0M597.0 716.6h0M588.0 719.8h0M575.0 729.3h0M602.4 725.0h0M594.0 712.0h0" stroke="#000" stroke-width="3.4" stroke-linecap="round" fill="none"/>
<circle cx="591.9" cy="710.7" r="3.0" fill="#1d8a8a"/>
<circle cx="600.2" cy="714.3" r="3.0" fill="#1d8a8a"/>
<circle cx="581.8" cy="722.8" r="3.0" fill="#1d8a8a"/>
<circle cx="594.0" cy="722.2" r="3.0" fill="#1d8a8a"/>
<circle cx="598.6" cy="724.4" r="3.0" fill="#1d8a8a"/>
<circle cx="604.6" cy="722.5" r="3.0" fill="#1d8a8a"/>
<circle cx="578.5" cy="732.3" r="3.0" fill="#1d8a8a"/>
<circle cx="652.2" cy="542.0" r="3.0" fill="#a81414"/>
<circle cx="641.0" cy="553.5" r="3.0" fill="#a81414"/>
<circle cx="650.4" cy="564.8" r="3.0" fill="#a81414"/>
<circle cx="642.4" cy="577.0" r="3.0" fill="#a81414"/>
<circle cx="636.0" cy="588.4" r="3.0" fill="#a81414"/>
<circle cx="612.7" cy="565.8" r="3.0" fill="#a81414"/>
<circle cx="624.3" cy="571.2" r="3.0" fill="#a81414"/>
<circle cx="627.4" cy="570.6" r="3.0" fill="#a81414"/>
<circle cx="563.0" cy="579.4" r="3.0" fill="#a81414"/>
<circle cx="610.5" cy="584.8" r="3.0" fill="#a81414"/>
<circle cx="598.0" cy="605.0" r="3.0" fill="#a81414"/>
<circle cx="622.4" cy="599.8" r="3.0" fill="#a81414"/>
<circle cx="624.0" cy="601.4" r="3.0" fill="#a81414"/>
<circle cx="626.0" cy="606.0" r="3.0" fill="#a81414"/>
<circle cx="632.0" cy="623.0" r="3.0" fill="#a81414"/>
<text x="648.0" y="544.2" font-size="6.9" text-anchor="end" fill="#333">Tgm1</text>
<text x="645.4" y="555.8" font-size="6.9" fill="#333">Cd22</text>
<text x="627.8" y="566.4" font-size="6.9" fill="#333">Trem2</text>
<text x="653.9" y="566.4" font-size="6.9" fill="#333">Ccl4</text>
<text x="631.4" y="572.3" font-size="6.9" fill="#333">Tyrobp</text>
<text x="646.9" y="578.7" font-size="6.9" fill="#333">Ms4a7</text>
<text x="596.7" y="568.0" font-size="6.9" fill="#333">Spi1</text>
<text x="565.0" y="573.8" font-size="6.9" fill="#333">Gfap</text>
<text x="640.5" y="590.3" font-size="6.9" fill="#333">Steap4</text>
<text x="612.6" y="596.0" font-size="6.9" fill="#333">Serpina3n</text>
<text x="642.0" y="599.2" font-size="6.9" fill="#333">Cd68</text>
<text x="632.0" y="606.2" font-size="6.9" fill="#333">Timp1</text>
<text x="632.0" y="614.0" font-size="6.9" fill="#333">Anpep</text>
<text x="585.5" y="599.8" font-size="6.9" fill="#333">Cd14</text>
<text x="637.0" y="623.5" font-size="6.9" fill="#333">Postn</text>
<text x="589.7" y="707.5" font-size="6.9" text-anchor="end" fill="#333">Igfbp3</text>
<text x="587.6" y="717.7" font-size="6.9" text-anchor="end" fill="#333">Cdc20</text>
<text x="603.9" y="716.6" font-size="6.9" fill="#333">Mki67</text>
<text x="608.8" y="724.0" font-size="6.9" fill="#333">Cdk1</text>
<text x="582.3" y="731.4" font-size="6.9" fill="#333">Nes</text>
<text x="602.4" y="732.5" font-size="6.9" fill="#333">Top2a</text>
<text x="579.8" y="738.8" font-size="6.9" fill="#333">Kif20a</text>
</svg></body></html>
